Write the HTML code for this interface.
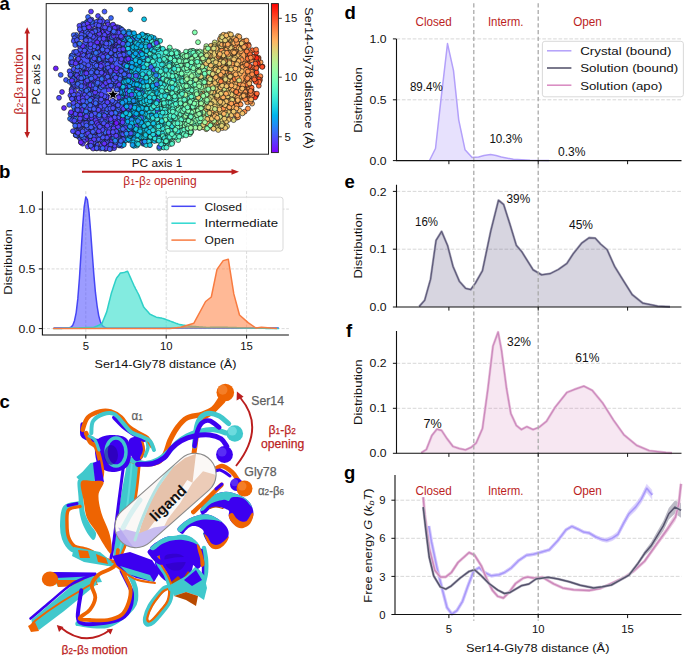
<!DOCTYPE html><html><head><meta charset="utf-8"><style>html,body{margin:0;padding:0;background:#fff;overflow:hidden}svg{display:block}text{font-family:"Liberation Sans",sans-serif}</style></head><body>
<svg width="685" height="655" viewBox="0 0 685 655">
<rect width="685" height="655" fill="#fff"/>
<text x="-0.5" y="9.6" font-size="18.5" fill="#000" font-weight="bold">a</text>
<rect x="46.2" y="3.6" width="222.3" height="150.6" fill="none" stroke="#222" stroke-width="1"/>
<defs><linearGradient id="scbg" gradientUnits="userSpaceOnUse" x1="60" y1="0" x2="260" y2="0">
<stop offset="0.000" stop-color="#4e4dfc"/>
<stop offset="0.290" stop-color="#4659fb"/>
<stop offset="0.350" stop-color="#11a1f0"/>
<stop offset="0.450" stop-color="#20d4e1"/>
<stop offset="0.600" stop-color="#75feba"/>
<stop offset="0.700" stop-color="#99fca5"/>
<stop offset="0.750" stop-color="#e2d176"/>
<stop offset="0.900" stop-color="#ffac5c"/>
<stop offset="1.000" stop-color="#ff6c38"/>
</linearGradient></defs>
<path d="M83.4,39.2 L88.5,30.8 L96.9,26.6 L108.9,25.7 L117.3,27.6 L123.8,33.6 L128.5,36.9 L135.9,37.3 L154.5,42.0 L172.7,52.6 L184.9,54.1 L197.0,54.1 L209.2,44.8 L219.8,38.9 L230.5,40.4 L239.6,45.0 L247.2,54.1 L251.8,69.3 L251.2,84.6 L245.7,96.7 L236.6,108.9 L224.4,118.0 L215.3,125.6 L203.1,124.1 L191.0,127.1 L181.8,130.1 L172.7,136.2 L163.6,142.3 L151.4,139.3 L133.1,139.3 L114.9,142.3 L99.7,142.3 L88.5,136.2 L81.5,124.1 L78.7,105.8 L78.7,84.6 L80.1,60.2Z" fill="url(#scbg)" />
<g stroke="#111" stroke-width="0.6">
<circle cx="89.8" cy="125.6" r="2.45" fill="#4062fa"/>
<circle cx="149.4" cy="105.5" r="2.45" fill="#2ddedc"/>
<circle cx="186.0" cy="80.9" r="2.45" fill="#80ffb4"/>
<circle cx="157.4" cy="108.4" r="2.45" fill="#36e6d8"/>
<circle cx="216.9" cy="115.0" r="2.45" fill="#ddd67a"/>
<circle cx="98.0" cy="52.1" r="2.45" fill="#4855fb"/>
<circle cx="133.6" cy="145.4" r="2.45" fill="#05aeed"/>
<circle cx="197.2" cy="125.1" r="2.45" fill="#80ffb4"/>
<circle cx="236.9" cy="117.7" r="2.45" fill="#ff8e4a"/>
<circle cx="119.8" cy="71.7" r="2.45" fill="#4a53fc"/>
<circle cx="183.8" cy="130.3" r="2.45" fill="#61fac5"/>
<circle cx="128.1" cy="132.6" r="2.45" fill="#07adee"/>
<circle cx="178.2" cy="103.2" r="2.45" fill="#54f6cb"/>
<circle cx="83.9" cy="52.4" r="2.45" fill="#3e64fa"/>
<circle cx="178.6" cy="80.6" r="2.45" fill="#45efd2"/>
<circle cx="106.0" cy="81.1" r="2.45" fill="#5444fd"/>
<circle cx="89.5" cy="146.0" r="2.45" fill="#4856fb"/>
<circle cx="180.4" cy="135.0" r="2.45" fill="#83ffb3"/>
<circle cx="78.2" cy="65.5" r="2.45" fill="#4a53fc"/>
<circle cx="172.4" cy="142.4" r="2.45" fill="#65fcc2"/>
<circle cx="232.5" cy="64.3" r="2.45" fill="#f5c069"/>
<circle cx="211.2" cy="115.7" r="2.45" fill="#e4d075"/>
<circle cx="141.4" cy="44.9" r="2.45" fill="#1ed2e2"/>
<circle cx="259.5" cy="65.0" r="2.45" fill="#ff713a"/>
<circle cx="146.2" cy="57.1" r="2.45" fill="#06aded"/>
<circle cx="215.8" cy="59.3" r="2.45" fill="#eaca71"/>
<circle cx="232.9" cy="76.7" r="2.45" fill="#f2c26b"/>
<circle cx="252.1" cy="98.0" r="2.45" fill="#ff5129"/>
<circle cx="184.3" cy="55.7" r="2.45" fill="#5bf9c7"/>
<circle cx="210.0" cy="61.0" r="2.45" fill="#fcb864"/>
<circle cx="131.7" cy="122.4" r="2.45" fill="#03b8eb"/>
<circle cx="93.4" cy="52.5" r="2.45" fill="#4f4cfc"/>
<circle cx="197.7" cy="65.9" r="2.45" fill="#89ffaf"/>
<circle cx="176.9" cy="68.0" r="2.45" fill="#52f5cc"/>
<circle cx="231.5" cy="92.6" r="2.45" fill="#f7bd67"/>
<circle cx="208.7" cy="88.5" r="2.45" fill="#63fbc3"/>
<circle cx="104.5" cy="130.7" r="2.45" fill="#5541fd"/>
<circle cx="84.7" cy="32.1" r="2.45" fill="#386df9"/>
<circle cx="100.2" cy="134.9" r="2.45" fill="#4f4bfc"/>
<circle cx="121.5" cy="48.7" r="2.45" fill="#4f4bfc"/>
<circle cx="175.1" cy="103.8" r="2.45" fill="#63fbc3"/>
<circle cx="80.2" cy="61.5" r="2.45" fill="#4e4dfc"/>
<circle cx="188.0" cy="81.0" r="2.45" fill="#80ffb4"/>
<circle cx="146.1" cy="76.3" r="2.45" fill="#5444fd"/>
<circle cx="231.3" cy="102.0" r="2.45" fill="#e3d176"/>
<circle cx="217.7" cy="119.7" r="2.45" fill="#f0c46d"/>
<circle cx="255.6" cy="94.3" r="2.45" fill="#ff8947"/>
<circle cx="109.0" cy="64.9" r="2.45" fill="#4d4efc"/>
<circle cx="152.9" cy="72.6" r="2.45" fill="#2adddd"/>
<circle cx="118.9" cy="53.1" r="2.45" fill="#4b51fc"/>
<circle cx="193.5" cy="81.8" r="2.45" fill="#7dffb6"/>
<circle cx="120.0" cy="106.2" r="2.45" fill="#5444fd"/>
<circle cx="141.5" cy="52.8" r="2.45" fill="#0dc2e8"/>
<circle cx="117.0" cy="99.4" r="2.45" fill="#622efe"/>
<circle cx="122.5" cy="72.8" r="2.45" fill="#445bfb"/>
<circle cx="143.3" cy="138.5" r="2.45" fill="#1cd1e2"/>
<circle cx="101.9" cy="127.9" r="2.45" fill="#4e4cfc"/>
<circle cx="182.7" cy="110.2" r="2.45" fill="#70febd"/>
<circle cx="259.9" cy="77.1" r="2.45" fill="#ff8847"/>
<circle cx="98.0" cy="16.0" r="2.45" fill="#5246fd"/>
<circle cx="100.7" cy="61.0" r="2.45" fill="#425efb"/>
<circle cx="132.7" cy="79.4" r="2.45" fill="#4756fb"/>
<circle cx="76.2" cy="35.0" r="2.45" fill="#3b69f9"/>
<circle cx="172.8" cy="72.6" r="2.45" fill="#67fcc2"/>
<circle cx="256.0" cy="95.9" r="2.45" fill="#ff4f28"/>
<circle cx="109.8" cy="32.4" r="2.45" fill="#4061fa"/>
<circle cx="204.8" cy="108.1" r="2.45" fill="#82ffb3"/>
<circle cx="232.4" cy="101.9" r="2.45" fill="#e0d377"/>
<circle cx="112.2" cy="42.4" r="2.45" fill="#504afc"/>
<circle cx="113.2" cy="128.8" r="2.45" fill="#3c67fa"/>
<circle cx="132.7" cy="63.4" r="2.45" fill="#0fc4e7"/>
<circle cx="146.5" cy="35.9" r="2.45" fill="#3c67fa"/>
<circle cx="104.1" cy="112.4" r="2.45" fill="#5a3afd"/>
<circle cx="143.4" cy="103.2" r="2.45" fill="#13c8e5"/>
<circle cx="159.3" cy="148.3" r="2.45" fill="#46efd1"/>
<circle cx="89.0" cy="34.9" r="2.45" fill="#4d4efc"/>
<circle cx="190.2" cy="51.2" r="2.45" fill="#80ffb4"/>
<circle cx="74.7" cy="97.9" r="2.45" fill="#5148fc"/>
<circle cx="215.2" cy="123.2" r="2.45" fill="#eaca71"/>
<circle cx="112.5" cy="84.5" r="2.45" fill="#5148fc"/>
<circle cx="235.0" cy="100.7" r="2.45" fill="#ffa155"/>
<circle cx="243.9" cy="91.6" r="2.45" fill="#ffae5e"/>
<circle cx="170.9" cy="70.9" r="2.45" fill="#45eed2"/>
<circle cx="165.2" cy="55.7" r="2.45" fill="#45efd2"/>
<circle cx="164.9" cy="112.4" r="2.45" fill="#26d9df"/>
<circle cx="91.5" cy="93.4" r="2.45" fill="#5148fc"/>
<circle cx="214.9" cy="45.9" r="2.45" fill="#f8bc67"/>
<circle cx="105.2" cy="149.1" r="2.45" fill="#4c50fc"/>
<circle cx="83.4" cy="67.9" r="2.45" fill="#4855fb"/>
<circle cx="236.7" cy="106.2" r="2.45" fill="#efc56d"/>
<circle cx="151.6" cy="83.0" r="2.45" fill="#22d6e0"/>
<circle cx="106.4" cy="112.2" r="2.45" fill="#3e64fa"/>
<circle cx="174.9" cy="131.6" r="2.45" fill="#5bf9c7"/>
<circle cx="127.9" cy="94.5" r="2.45" fill="#1898f2"/>
<circle cx="109.5" cy="92.0" r="2.45" fill="#4e4dfc"/>
<circle cx="96.7" cy="148.5" r="2.45" fill="#593cfd"/>
<circle cx="210.2" cy="125.5" r="2.45" fill="#eaca71"/>
<circle cx="127.5" cy="120.0" r="2.45" fill="#03b1ec"/>
<circle cx="179.3" cy="67.1" r="2.45" fill="#79ffb8"/>
<circle cx="232.0" cy="108.4" r="2.45" fill="#ffac5c"/>
<circle cx="119.5" cy="86.9" r="2.45" fill="#4d4efc"/>
<circle cx="231.4" cy="42.5" r="2.45" fill="#f3c16a"/>
<circle cx="150.8" cy="64.3" r="2.45" fill="#12c7e6"/>
<circle cx="103.5" cy="138.0" r="2.45" fill="#4a53fc"/>
<circle cx="147.6" cy="67.0" r="2.45" fill="#5444fd"/>
<circle cx="187.7" cy="54.0" r="2.45" fill="#74febb"/>
<circle cx="86.6" cy="131.1" r="2.45" fill="#4856fb"/>
<circle cx="119.4" cy="71.2" r="2.45" fill="#4d4efc"/>
<circle cx="118.7" cy="104.2" r="2.45" fill="#6a22fe"/>
<circle cx="164.5" cy="92.9" r="2.45" fill="#3ce9d6"/>
<circle cx="166.8" cy="110.3" r="2.45" fill="#32e2da"/>
<circle cx="183.0" cy="107.5" r="2.45" fill="#63fbc3"/>
<circle cx="99.1" cy="26.9" r="2.45" fill="#5641fd"/>
<circle cx="143.1" cy="112.9" r="2.45" fill="#03b8eb"/>
<circle cx="117.8" cy="47.5" r="2.45" fill="#4658fb"/>
<circle cx="210.5" cy="71.3" r="2.45" fill="#ecc86f"/>
<circle cx="148.4" cy="117.6" r="2.45" fill="#23d7e0"/>
<circle cx="243.3" cy="92.0" r="2.45" fill="#f8bc67"/>
<circle cx="225.1" cy="58.0" r="2.45" fill="#ffb461"/>
<circle cx="71.4" cy="72.9" r="2.45" fill="#3670f8"/>
<circle cx="232.8" cy="108.6" r="2.45" fill="#ebc970"/>
<circle cx="123.9" cy="79.2" r="2.45" fill="#18cde4"/>
<circle cx="93.8" cy="74.3" r="2.45" fill="#5f33fe"/>
<circle cx="199.6" cy="121.7" r="2.45" fill="#76ffba"/>
<circle cx="228.0" cy="93.2" r="2.45" fill="#ffad5d"/>
<circle cx="176.7" cy="101.5" r="2.45" fill="#6ffebd"/>
<circle cx="89.8" cy="91.9" r="2.45" fill="#445cfb"/>
<circle cx="252.6" cy="95.6" r="2.45" fill="#ff793e"/>
<circle cx="144.1" cy="19.3" r="2.45" fill="#0ec3e7"/>
<circle cx="146.8" cy="108.2" r="2.45" fill="#13c9e5"/>
<circle cx="204.9" cy="74.6" r="2.45" fill="#e7cd72"/>
<circle cx="216.4" cy="127.6" r="2.45" fill="#d9d97c"/>
<circle cx="164.7" cy="98.8" r="2.45" fill="#58f7c9"/>
<circle cx="132.9" cy="57.0" r="2.45" fill="#0fa3f0"/>
<circle cx="183.7" cy="121.0" r="2.45" fill="#81ffb4"/>
<circle cx="149.4" cy="102.1" r="2.45" fill="#0bc0e8"/>
<circle cx="89.8" cy="82.2" r="2.45" fill="#5246fd"/>
<circle cx="121.8" cy="95.3" r="2.45" fill="#11a0f0"/>
<circle cx="245.7" cy="81.6" r="2.45" fill="#ff9951"/>
<circle cx="164.5" cy="72.7" r="2.45" fill="#49f1d0"/>
<circle cx="104.0" cy="76.7" r="2.45" fill="#3d65fa"/>
<circle cx="99.2" cy="45.6" r="2.45" fill="#4757fb"/>
<circle cx="169.3" cy="80.2" r="2.45" fill="#5cf9c7"/>
<circle cx="75.0" cy="74.7" r="2.45" fill="#4658fb"/>
<circle cx="142.0" cy="113.1" r="2.45" fill="#1dd2e2"/>
<circle cx="82.0" cy="110.0" r="2.45" fill="#5d36fe"/>
<circle cx="211.5" cy="103.8" r="2.45" fill="#ddd67a"/>
<circle cx="73.7" cy="35.1" r="2.45" fill="#3e65fa"/>
<circle cx="102.2" cy="28.7" r="2.45" fill="#386df9"/>
<circle cx="88.1" cy="38.5" r="2.45" fill="#396cf9"/>
<circle cx="218.4" cy="116.5" r="2.45" fill="#eaca71"/>
<circle cx="221.6" cy="39.5" r="2.45" fill="#ff9d53"/>
<circle cx="80.8" cy="48.0" r="2.45" fill="#4855fb"/>
<circle cx="197.7" cy="70.7" r="2.45" fill="#8efeac"/>
<circle cx="213.1" cy="77.9" r="2.45" fill="#d5dc7f"/>
<circle cx="84.7" cy="138.0" r="2.45" fill="#415ffa"/>
<circle cx="192.8" cy="122.8" r="2.45" fill="#6cfdbf"/>
<circle cx="202.6" cy="93.5" r="2.45" fill="#faba65"/>
<circle cx="115.1" cy="142.9" r="2.45" fill="#4c4ffc"/>
<circle cx="100.6" cy="148.6" r="2.45" fill="#593cfd"/>
<circle cx="72.1" cy="88.9" r="2.45" fill="#435cfb"/>
<circle cx="137.0" cy="116.7" r="2.45" fill="#4a52fc"/>
<circle cx="212.7" cy="60.3" r="2.45" fill="#dbd87b"/>
<circle cx="166.6" cy="91.3" r="2.45" fill="#3eead5"/>
<circle cx="176.8" cy="92.4" r="2.45" fill="#8efeac"/>
<circle cx="214.1" cy="107.9" r="2.45" fill="#f4c16a"/>
<circle cx="86.6" cy="30.5" r="2.45" fill="#4d4ffc"/>
<circle cx="135.2" cy="94.4" r="2.45" fill="#12a0f1"/>
<circle cx="227.9" cy="61.6" r="2.45" fill="#ff9a51"/>
<circle cx="118.8" cy="100.5" r="2.45" fill="#07bce9"/>
<circle cx="69.6" cy="71.2" r="2.45" fill="#4a53fc"/>
<circle cx="143.2" cy="77.4" r="2.45" fill="#1fd3e1"/>
<circle cx="250.8" cy="68.1" r="2.45" fill="#ff793e"/>
<circle cx="77.3" cy="56.4" r="2.45" fill="#4160fa"/>
<circle cx="200.0" cy="66.1" r="2.45" fill="#69fdc0"/>
<circle cx="101.6" cy="20.7" r="2.45" fill="#4b51fc"/>
<circle cx="222.3" cy="128.1" r="2.45" fill="#ffb562"/>
<circle cx="96.3" cy="23.3" r="2.45" fill="#435dfb"/>
<circle cx="149.7" cy="141.6" r="2.45" fill="#02b6eb"/>
<circle cx="234.2" cy="79.2" r="2.45" fill="#ff8243"/>
<circle cx="89.5" cy="36.1" r="2.45" fill="#4855fb"/>
<circle cx="139.6" cy="102.8" r="2.45" fill="#00b4ec"/>
<circle cx="145.8" cy="109.7" r="2.45" fill="#0bc1e8"/>
<circle cx="166.3" cy="108.6" r="2.45" fill="#59f8c9"/>
<circle cx="139.8" cy="123.4" r="2.45" fill="#0ec3e7"/>
<circle cx="260.4" cy="76.2" r="2.45" fill="#ff8847"/>
<circle cx="255.3" cy="78.0" r="2.45" fill="#ff7f42"/>
<circle cx="139.3" cy="68.3" r="2.45" fill="#12c7e6"/>
<circle cx="99.8" cy="138.7" r="2.45" fill="#5542fd"/>
<circle cx="146.1" cy="98.5" r="2.45" fill="#2ddfdc"/>
<circle cx="173.2" cy="80.6" r="2.45" fill="#45efd2"/>
<circle cx="136.4" cy="142.6" r="2.45" fill="#3a6af9"/>
<circle cx="222.2" cy="93.8" r="2.45" fill="#d6dc7f"/>
<circle cx="85.5" cy="67.6" r="2.45" fill="#4061fa"/>
<circle cx="88.5" cy="104.0" r="2.45" fill="#4855fb"/>
<circle cx="141.5" cy="80.6" r="2.45" fill="#1dd1e2"/>
<circle cx="192.8" cy="50.9" r="2.45" fill="#8ffeab"/>
<circle cx="196.9" cy="51.6" r="2.45" fill="#7effb5"/>
<circle cx="153.8" cy="49.2" r="2.45" fill="#4061fa"/>
<circle cx="195.6" cy="60.7" r="2.45" fill="#6bfdbf"/>
<circle cx="142.3" cy="50.1" r="2.45" fill="#26d9df"/>
<circle cx="128.0" cy="49.2" r="2.45" fill="#149cf1"/>
<circle cx="150.7" cy="138.2" r="2.45" fill="#3ce9d5"/>
<circle cx="108.8" cy="46.0" r="2.45" fill="#5542fd"/>
<circle cx="129.3" cy="86.4" r="2.45" fill="#1d91f3"/>
<circle cx="122.0" cy="97.4" r="2.45" fill="#07adee"/>
<circle cx="176.8" cy="52.7" r="2.45" fill="#51f5cc"/>
<circle cx="249.5" cy="56.8" r="2.45" fill="#ff7e41"/>
<circle cx="80.8" cy="103.1" r="2.45" fill="#5443fd"/>
<circle cx="157.4" cy="139.8" r="2.45" fill="#27dade"/>
<circle cx="111.3" cy="141.5" r="2.45" fill="#3472f8"/>
<circle cx="103.3" cy="129.0" r="2.45" fill="#4d4efc"/>
<circle cx="108.8" cy="81.8" r="2.45" fill="#5542fd"/>
<circle cx="196.0" cy="101.5" r="2.45" fill="#9bfba5"/>
<circle cx="148.4" cy="87.4" r="2.45" fill="#26d9df"/>
<circle cx="248.4" cy="44.5" r="2.45" fill="#ff6a36"/>
<circle cx="71.8" cy="81.9" r="2.45" fill="#386cf9"/>
<circle cx="205.0" cy="110.9" r="2.45" fill="#f0c46c"/>
<circle cx="106.7" cy="83.4" r="2.45" fill="#4d4efc"/>
<circle cx="136.9" cy="145.6" r="2.45" fill="#22d6e0"/>
<circle cx="160.9" cy="80.7" r="2.45" fill="#46efd1"/>
<circle cx="92.2" cy="92.1" r="2.45" fill="#5e35fe"/>
<circle cx="112.8" cy="108.7" r="2.45" fill="#5345fd"/>
<circle cx="220.1" cy="98.2" r="2.45" fill="#e8cc72"/>
<circle cx="229.8" cy="74.0" r="2.45" fill="#ff8a48"/>
<circle cx="83.1" cy="26.9" r="2.45" fill="#4e4cfc"/>
<circle cx="186.1" cy="107.0" r="2.45" fill="#8ffeab"/>
<circle cx="173.9" cy="111.2" r="2.45" fill="#51f5cc"/>
<circle cx="113.8" cy="116.6" r="2.45" fill="#4c4ffc"/>
<circle cx="120.4" cy="69.8" r="2.45" fill="#573ffd"/>
<circle cx="210.4" cy="115.3" r="2.45" fill="#fbb864"/>
<circle cx="163.8" cy="69.7" r="2.45" fill="#21d5e0"/>
<circle cx="214.4" cy="87.1" r="2.45" fill="#d3de80"/>
<circle cx="197.0" cy="63.5" r="2.45" fill="#73febb"/>
<circle cx="185.6" cy="120.2" r="2.45" fill="#7fffb5"/>
<circle cx="174.0" cy="76.1" r="2.45" fill="#5af8c8"/>
<circle cx="182.7" cy="134.4" r="2.45" fill="#5cf9c7"/>
<circle cx="71.5" cy="55.8" r="2.45" fill="#4756fb"/>
<circle cx="153.0" cy="53.8" r="2.45" fill="#3be9d6"/>
<circle cx="113.6" cy="120.6" r="2.45" fill="#5a3bfd"/>
<circle cx="191.2" cy="67.3" r="2.45" fill="#40ecd4"/>
<circle cx="145.1" cy="109.8" r="2.45" fill="#3ae8d7"/>
<circle cx="121.4" cy="137.5" r="2.45" fill="#4160fa"/>
<circle cx="77.7" cy="83.3" r="2.45" fill="#4954fb"/>
<circle cx="162.5" cy="146.6" r="2.45" fill="#45eed2"/>
<circle cx="164.8" cy="83.6" r="2.45" fill="#43eed3"/>
<circle cx="124.7" cy="103.8" r="2.45" fill="#08bce9"/>
<circle cx="207.4" cy="104.8" r="2.45" fill="#edc76f"/>
<circle cx="248.8" cy="58.9" r="2.45" fill="#ff8646"/>
<circle cx="133.0" cy="128.8" r="2.45" fill="#2ddfdc"/>
<circle cx="81.1" cy="31.6" r="2.45" fill="#5a3bfd"/>
<circle cx="120.6" cy="28.6" r="2.45" fill="#238af5"/>
<circle cx="155.3" cy="126.0" r="2.45" fill="#21d5e0"/>
<circle cx="143.6" cy="117.8" r="2.45" fill="#12c7e6"/>
<circle cx="83.0" cy="24.0" r="2.45" fill="#4160fa"/>
<circle cx="221.9" cy="64.7" r="2.45" fill="#e9cb71"/>
<circle cx="185.2" cy="90.4" r="2.45" fill="#6cfdbf"/>
<circle cx="119.2" cy="31.5" r="2.45" fill="#6f1aff"/>
<circle cx="178.1" cy="73.8" r="2.45" fill="#7effb5"/>
<circle cx="140.8" cy="75.4" r="2.45" fill="#14c9e5"/>
<circle cx="104.7" cy="63.7" r="2.45" fill="#396bf9"/>
<circle cx="219.0" cy="51.4" r="2.45" fill="#e6ce74"/>
<circle cx="167.6" cy="58.5" r="2.45" fill="#51f4cc"/>
<circle cx="152.4" cy="78.6" r="2.45" fill="#40ecd4"/>
<circle cx="103.3" cy="54.2" r="2.45" fill="#4d4efc"/>
<circle cx="94.1" cy="147.9" r="2.45" fill="#5641fd"/>
<circle cx="200.7" cy="107.2" r="2.45" fill="#90feab"/>
<circle cx="106.3" cy="122.2" r="2.45" fill="#5444fd"/>
<circle cx="258.6" cy="57.8" r="2.45" fill="#ff7b3f"/>
<circle cx="213.4" cy="126.0" r="2.45" fill="#cfe183"/>
<circle cx="196.2" cy="63.3" r="2.45" fill="#a2f9a0"/>
<circle cx="86.5" cy="109.6" r="2.45" fill="#3176f8"/>
<circle cx="120.2" cy="116.5" r="2.45" fill="#4659fb"/>
<circle cx="132.4" cy="133.9" r="2.45" fill="#08bde9"/>
<circle cx="82.0" cy="118.1" r="2.45" fill="#5444fd"/>
<circle cx="169.7" cy="136.1" r="2.45" fill="#72febc"/>
<circle cx="187.1" cy="82.0" r="2.45" fill="#84ffb2"/>
<circle cx="228.6" cy="100.1" r="2.45" fill="#e8cc72"/>
<circle cx="127.8" cy="58.4" r="2.45" fill="#1c93f3"/>
<circle cx="206.2" cy="129.2" r="2.45" fill="#d0e083"/>
<circle cx="128.9" cy="110.5" r="2.45" fill="#4954fb"/>
<circle cx="165.1" cy="97.0" r="2.45" fill="#46efd1"/>
<circle cx="117.7" cy="54.3" r="2.45" fill="#4062fa"/>
<circle cx="208.8" cy="77.9" r="2.45" fill="#eec66e"/>
<circle cx="209.4" cy="106.3" r="2.45" fill="#85ffb1"/>
<circle cx="199.5" cy="59.7" r="2.45" fill="#89ffaf"/>
<circle cx="223.6" cy="88.6" r="2.45" fill="#ffad5d"/>
<circle cx="215.3" cy="85.6" r="2.45" fill="#ffa055"/>
<circle cx="132.0" cy="58.0" r="2.45" fill="#3e64fa"/>
<circle cx="245.4" cy="97.0" r="2.45" fill="#ffaf5e"/>
<circle cx="74.5" cy="76.9" r="2.45" fill="#4a53fc"/>
<circle cx="240.0" cy="104.3" r="2.45" fill="#ffb361"/>
<circle cx="72.4" cy="84.7" r="2.45" fill="#3f63fa"/>
<circle cx="73.8" cy="98.8" r="2.45" fill="#4855fb"/>
<circle cx="83.6" cy="65.7" r="2.45" fill="#4954fb"/>
<circle cx="149.6" cy="107.0" r="2.45" fill="#12c7e6"/>
<circle cx="77.7" cy="84.1" r="2.45" fill="#4a53fc"/>
<circle cx="111.1" cy="58.2" r="2.45" fill="#4a52fc"/>
<circle cx="132.3" cy="98.5" r="2.45" fill="#0aa9ef"/>
<circle cx="105.6" cy="50.4" r="2.45" fill="#4e4cfc"/>
<circle cx="189.8" cy="134.1" r="2.45" fill="#75feba"/>
<circle cx="226.4" cy="63.7" r="2.45" fill="#ffad5d"/>
<circle cx="173.2" cy="112.5" r="2.45" fill="#32e2da"/>
<circle cx="139.6" cy="133.5" r="2.45" fill="#20d4e1"/>
<circle cx="225.3" cy="35.3" r="2.45" fill="#dfd478"/>
<circle cx="149.2" cy="97.6" r="2.45" fill="#21d5e0"/>
<circle cx="76.3" cy="39.3" r="2.45" fill="#3f62fa"/>
<circle cx="114.5" cy="34.3" r="2.45" fill="#4953fb"/>
<circle cx="128.3" cy="68.4" r="2.45" fill="#396bf9"/>
<circle cx="146.1" cy="104.3" r="2.45" fill="#12c7e6"/>
<circle cx="94.7" cy="135.5" r="2.45" fill="#5346fd"/>
<circle cx="200.6" cy="98.7" r="2.45" fill="#82ffb3"/>
<circle cx="103.1" cy="132.5" r="2.45" fill="#4757fb"/>
<circle cx="95.8" cy="63.6" r="2.45" fill="#3f63fa"/>
<circle cx="84.8" cy="118.3" r="2.45" fill="#4757fb"/>
<circle cx="119.5" cy="133.8" r="2.45" fill="#06bbea"/>
<circle cx="114.8" cy="80.9" r="2.45" fill="#5c38fd"/>
<circle cx="135.3" cy="115.2" r="2.45" fill="#04b0ed"/>
<circle cx="139.8" cy="126.8" r="2.45" fill="#04b0ed"/>
<circle cx="152.1" cy="55.2" r="2.45" fill="#0abfe8"/>
<circle cx="131.3" cy="33.2" r="2.45" fill="#159bf1"/>
<circle cx="75.7" cy="135.2" r="2.45" fill="#5246fd"/>
<circle cx="128.5" cy="108.0" r="2.45" fill="#4a52fc"/>
<circle cx="220.1" cy="86.8" r="2.45" fill="#e6ce73"/>
<circle cx="132.5" cy="65.7" r="2.45" fill="#0ba8ef"/>
<circle cx="99.5" cy="26.1" r="2.45" fill="#4f4afc"/>
<circle cx="92.9" cy="35.8" r="2.45" fill="#425efa"/>
<circle cx="134.4" cy="82.1" r="2.45" fill="#00b4ec"/>
<circle cx="138.6" cy="117.5" r="2.45" fill="#16cbe4"/>
<circle cx="211.8" cy="116.4" r="2.45" fill="#f9bb66"/>
<circle cx="77.5" cy="59.9" r="2.45" fill="#6726fe"/>
<circle cx="124.4" cy="78.3" r="2.45" fill="#435cfb"/>
<circle cx="232.0" cy="62.2" r="2.45" fill="#ffb05f"/>
<circle cx="252.5" cy="67.4" r="2.45" fill="#ff783e"/>
<circle cx="88.8" cy="52.7" r="2.45" fill="#4062fa"/>
<circle cx="182.8" cy="124.8" r="2.45" fill="#67fcc1"/>
<circle cx="109.1" cy="86.6" r="2.45" fill="#593cfd"/>
<circle cx="93.3" cy="24.8" r="2.45" fill="#4559fb"/>
<circle cx="149.1" cy="47.8" r="2.45" fill="#04afed"/>
<circle cx="145.5" cy="114.4" r="2.45" fill="#0cc1e8"/>
<circle cx="163.7" cy="147.5" r="2.45" fill="#34e4d9"/>
<circle cx="142.5" cy="89.6" r="2.45" fill="#07bcea"/>
<circle cx="117.5" cy="102.1" r="2.45" fill="#445cfb"/>
<circle cx="238.4" cy="53.6" r="2.45" fill="#ffa558"/>
<circle cx="132.7" cy="128.9" r="2.45" fill="#01b6eb"/>
<circle cx="233.4" cy="106.6" r="2.45" fill="#ff9d53"/>
<circle cx="194.9" cy="60.8" r="2.45" fill="#73febb"/>
<circle cx="170.6" cy="54.7" r="2.45" fill="#64fbc3"/>
<circle cx="147.8" cy="86.4" r="2.45" fill="#13c8e6"/>
<circle cx="130.5" cy="105.3" r="2.45" fill="#228af5"/>
<circle cx="208.0" cy="86.4" r="2.45" fill="#cae587"/>
<circle cx="173.5" cy="137.4" r="2.45" fill="#5af8c8"/>
<circle cx="152.1" cy="66.4" r="2.45" fill="#3febd5"/>
<circle cx="138.9" cy="46.1" r="2.45" fill="#05afed"/>
<circle cx="154.1" cy="97.5" r="2.45" fill="#3febd4"/>
<circle cx="173.5" cy="63.3" r="2.45" fill="#4bf2cf"/>
<circle cx="231.5" cy="41.3" r="2.45" fill="#e4d075"/>
<circle cx="158.0" cy="110.5" r="2.45" fill="#12c7e6"/>
<circle cx="128.1" cy="91.2" r="2.45" fill="#15cae5"/>
<circle cx="171.4" cy="85.7" r="2.45" fill="#57f7c9"/>
<circle cx="223.4" cy="67.2" r="2.45" fill="#f0c56d"/>
<circle cx="148.3" cy="128.3" r="2.45" fill="#3571f8"/>
<circle cx="101.1" cy="63.8" r="2.45" fill="#6130fe"/>
<circle cx="120.1" cy="126.0" r="2.45" fill="#455afb"/>
<circle cx="82.8" cy="54.6" r="2.45" fill="#2f7af7"/>
<circle cx="262.5" cy="66.5" r="2.45" fill="#ff582d"/>
<circle cx="117.6" cy="92.5" r="2.45" fill="#5148fc"/>
<circle cx="83.9" cy="35.7" r="2.45" fill="#4658fb"/>
<circle cx="127.3" cy="56.7" r="2.45" fill="#1d92f3"/>
<circle cx="79.4" cy="114.3" r="2.45" fill="#4b51fc"/>
<circle cx="96.7" cy="144.2" r="2.45" fill="#4e4cfc"/>
<circle cx="127.6" cy="101.8" r="2.45" fill="#1f8ff4"/>
<circle cx="159.7" cy="99.4" r="2.45" fill="#4af1cf"/>
<circle cx="106.5" cy="35.8" r="2.45" fill="#6529fe"/>
<circle cx="254.6" cy="73.4" r="2.45" fill="#ff6e38"/>
<circle cx="163.6" cy="105.3" r="2.45" fill="#3eead5"/>
<circle cx="123.5" cy="93.3" r="2.45" fill="#01b6eb"/>
<circle cx="234.3" cy="56.8" r="2.45" fill="#ff9f54"/>
<circle cx="144.3" cy="124.3" r="2.45" fill="#22d6e0"/>
<circle cx="129.6" cy="114.0" r="2.45" fill="#0cc1e8"/>
<circle cx="107.0" cy="39.2" r="2.45" fill="#425ffa"/>
<circle cx="116.1" cy="123.7" r="2.45" fill="#396cf9"/>
<circle cx="209.0" cy="75.6" r="2.45" fill="#a4f99f"/>
<circle cx="184.1" cy="61.3" r="2.45" fill="#6bfdbf"/>
<circle cx="127.9" cy="51.6" r="2.45" fill="#4a52fc"/>
<circle cx="162.1" cy="81.2" r="2.45" fill="#24d8df"/>
<circle cx="194.9" cy="96.8" r="2.45" fill="#6efdbe"/>
<circle cx="104.9" cy="98.2" r="2.45" fill="#4b51fc"/>
<circle cx="221.2" cy="59.7" r="2.45" fill="#ffa658"/>
<circle cx="108.5" cy="75.7" r="2.45" fill="#3e64fa"/>
<circle cx="162.9" cy="99.7" r="2.45" fill="#44eed2"/>
<circle cx="238.6" cy="47.4" r="2.45" fill="#ffb462"/>
<circle cx="228.6" cy="112.3" r="2.45" fill="#e8cc72"/>
<circle cx="247.2" cy="83.2" r="2.45" fill="#ff8d4a"/>
<circle cx="211.5" cy="90.5" r="2.45" fill="#e3d176"/>
<circle cx="202.9" cy="127.2" r="2.45" fill="#e6ce73"/>
<circle cx="186.7" cy="116.9" r="2.45" fill="#79ffb8"/>
<circle cx="98.7" cy="67.6" r="2.45" fill="#504afc"/>
<circle cx="96.4" cy="44.0" r="2.45" fill="#5542fd"/>
<circle cx="91.7" cy="147.1" r="2.45" fill="#3c67f9"/>
<circle cx="186.4" cy="107.0" r="2.45" fill="#69fdc0"/>
<circle cx="160.5" cy="138.6" r="2.45" fill="#36e5d8"/>
<circle cx="145.2" cy="108.9" r="2.45" fill="#15cae5"/>
<circle cx="170.8" cy="135.7" r="2.45" fill="#67fcc1"/>
<circle cx="244.7" cy="65.3" r="2.45" fill="#f1c36b"/>
<circle cx="96.8" cy="43.4" r="2.45" fill="#622ffe"/>
<circle cx="84.6" cy="34.5" r="2.45" fill="#4061fa"/>
<circle cx="252.1" cy="103.6" r="2.45" fill="#ffb05f"/>
<circle cx="155.1" cy="121.6" r="2.45" fill="#24d7df"/>
<circle cx="126.0" cy="115.1" r="2.45" fill="#573ffd"/>
<circle cx="164.0" cy="123.0" r="2.45" fill="#2bdddd"/>
<circle cx="129.2" cy="53.6" r="2.45" fill="#11a0f0"/>
<circle cx="220.0" cy="115.4" r="2.45" fill="#f0c46c"/>
<circle cx="186.3" cy="78.7" r="2.45" fill="#73febb"/>
<circle cx="78.9" cy="66.3" r="2.45" fill="#3c67fa"/>
<circle cx="212.0" cy="123.7" r="2.45" fill="#e5cf74"/>
<circle cx="81.0" cy="142.4" r="2.45" fill="#5541fd"/>
<circle cx="189.9" cy="60.3" r="2.45" fill="#6bfdc0"/>
<circle cx="145.8" cy="55.7" r="2.45" fill="#24d8df"/>
<circle cx="235.9" cy="84.3" r="2.45" fill="#fbb965"/>
<circle cx="112.4" cy="61.6" r="2.45" fill="#3e65fa"/>
<circle cx="114.9" cy="36.9" r="2.45" fill="#583dfd"/>
<circle cx="186.9" cy="84.7" r="2.45" fill="#6ffebd"/>
<circle cx="91.2" cy="48.5" r="2.45" fill="#4f4bfc"/>
<circle cx="157.4" cy="70.2" r="2.45" fill="#445bfb"/>
<circle cx="82.2" cy="78.3" r="2.45" fill="#593cfd"/>
<circle cx="155.6" cy="72.6" r="2.45" fill="#1dd2e2"/>
<circle cx="184.0" cy="124.1" r="2.45" fill="#85ffb1"/>
<circle cx="94.4" cy="132.1" r="2.45" fill="#5641fd"/>
<circle cx="190.6" cy="106.8" r="2.45" fill="#78ffb8"/>
<circle cx="209.9" cy="107.7" r="2.45" fill="#ffae5d"/>
<circle cx="147.7" cy="50.1" r="2.45" fill="#33e3da"/>
<circle cx="98.0" cy="69.9" r="2.45" fill="#4855fb"/>
<circle cx="72.2" cy="64.0" r="2.45" fill="#4b52fc"/>
<circle cx="195.0" cy="126.2" r="2.45" fill="#6ffebd"/>
<circle cx="160.9" cy="133.9" r="2.45" fill="#40ecd4"/>
<circle cx="116.7" cy="138.5" r="2.45" fill="#4f4cfc"/>
<circle cx="169.2" cy="127.5" r="2.45" fill="#50f4cd"/>
<circle cx="107.1" cy="22.3" r="2.45" fill="#5d36fe"/>
<circle cx="193.5" cy="107.7" r="2.45" fill="#89ffaf"/>
<circle cx="90.5" cy="109.1" r="2.45" fill="#5444fd"/>
<circle cx="197.7" cy="114.0" r="2.45" fill="#72febc"/>
<circle cx="238.8" cy="54.0" r="2.45" fill="#ffaa5b"/>
<circle cx="173.6" cy="84.8" r="2.45" fill="#51f5cc"/>
<circle cx="209.0" cy="58.1" r="2.45" fill="#e6ce73"/>
<circle cx="153.0" cy="86.6" r="2.45" fill="#16cbe5"/>
<circle cx="249.5" cy="59.7" r="2.45" fill="#ff8a48"/>
<circle cx="221.1" cy="93.5" r="2.45" fill="#e7cd73"/>
<circle cx="212.0" cy="68.1" r="2.45" fill="#dcd77a"/>
<circle cx="246.9" cy="85.7" r="2.45" fill="#ffa156"/>
<circle cx="242.7" cy="86.0" r="2.45" fill="#ff8d4a"/>
<circle cx="143.1" cy="47.3" r="2.45" fill="#10c6e6"/>
<circle cx="90.4" cy="134.9" r="2.45" fill="#455afb"/>
<circle cx="90.5" cy="109.3" r="2.45" fill="#3c66fa"/>
<circle cx="148.6" cy="123.9" r="2.45" fill="#4b52fc"/>
<circle cx="185.7" cy="114.0" r="2.45" fill="#5df9c6"/>
<circle cx="86.3" cy="68.5" r="2.45" fill="#5345fd"/>
<circle cx="116.2" cy="44.9" r="2.45" fill="#4758fb"/>
<circle cx="166.1" cy="67.8" r="2.45" fill="#56f7ca"/>
<circle cx="121.8" cy="117.6" r="2.45" fill="#3f63fa"/>
<circle cx="141.4" cy="79.2" r="2.45" fill="#05baea"/>
<circle cx="127.3" cy="47.6" r="2.45" fill="#593cfd"/>
<circle cx="140.8" cy="102.0" r="2.45" fill="#139ef1"/>
<circle cx="100.9" cy="19.1" r="2.45" fill="#435cfb"/>
<circle cx="180.1" cy="117.3" r="2.45" fill="#74febb"/>
<circle cx="82.3" cy="80.2" r="2.45" fill="#5344fd"/>
<circle cx="215.7" cy="81.4" r="2.45" fill="#e2d176"/>
<circle cx="125.2" cy="35.4" r="2.45" fill="#5e34fe"/>
<circle cx="111.7" cy="80.3" r="2.45" fill="#3670f8"/>
<circle cx="197.9" cy="115.6" r="2.45" fill="#7bffb7"/>
<circle cx="105.9" cy="148.2" r="2.45" fill="#4d4efc"/>
<circle cx="80.2" cy="102.3" r="2.45" fill="#4e4dfc"/>
<circle cx="135.6" cy="73.9" r="2.45" fill="#08bde9"/>
<circle cx="247.9" cy="95.1" r="2.45" fill="#ff8e4a"/>
<circle cx="129.8" cy="42.1" r="2.45" fill="#3078f7"/>
<circle cx="75.7" cy="37.2" r="2.45" fill="#4757fb"/>
<circle cx="110.7" cy="61.1" r="2.45" fill="#504afc"/>
<circle cx="123.0" cy="55.4" r="2.45" fill="#4061fa"/>
<circle cx="231.5" cy="91.6" r="2.45" fill="#e3d075"/>
<circle cx="155.2" cy="136.5" r="2.45" fill="#24d7e0"/>
<circle cx="212.1" cy="111.6" r="2.45" fill="#ffa055"/>
<circle cx="214.1" cy="63.4" r="2.45" fill="#e1d377"/>
<circle cx="244.6" cy="41.0" r="2.45" fill="#ffad5d"/>
<circle cx="153.9" cy="95.5" r="2.45" fill="#31e2da"/>
<circle cx="108.0" cy="43.3" r="2.45" fill="#4f4cfc"/>
<circle cx="170.8" cy="52.6" r="2.45" fill="#55f6ca"/>
<circle cx="78.7" cy="136.7" r="2.45" fill="#4160fa"/>
<circle cx="70.0" cy="118.8" r="2.45" fill="#3077f7"/>
<circle cx="137.6" cy="108.0" r="2.45" fill="#2882f6"/>
<circle cx="158.7" cy="48.6" r="2.45" fill="#30e1db"/>
<circle cx="172.1" cy="59.4" r="2.45" fill="#4af2cf"/>
<circle cx="145.3" cy="38.5" r="2.45" fill="#14c9e5"/>
<circle cx="256.5" cy="59.9" r="2.45" fill="#ff6735"/>
<circle cx="210.3" cy="113.1" r="2.45" fill="#e0d377"/>
<circle cx="151.6" cy="133.1" r="2.45" fill="#0ec4e7"/>
<circle cx="232.9" cy="65.8" r="2.45" fill="#ff9a51"/>
<circle cx="88.8" cy="129.4" r="2.45" fill="#652afe"/>
<circle cx="103.7" cy="70.2" r="2.45" fill="#2f79f7"/>
<circle cx="249.8" cy="61.0" r="2.45" fill="#ff8e4a"/>
<circle cx="81.1" cy="73.3" r="2.45" fill="#2982f6"/>
<circle cx="218.3" cy="122.3" r="2.45" fill="#fdb763"/>
<circle cx="125.4" cy="63.3" r="2.45" fill="#1898f2"/>
<circle cx="169.0" cy="99.3" r="2.45" fill="#3febd4"/>
<circle cx="74.7" cy="98.8" r="2.45" fill="#5444fd"/>
<circle cx="80.3" cy="138.7" r="2.45" fill="#4e4dfc"/>
<circle cx="235.5" cy="92.3" r="2.45" fill="#faba65"/>
<circle cx="103.4" cy="115.0" r="2.45" fill="#3b68f9"/>
<circle cx="221.2" cy="36.4" r="2.45" fill="#e0d378"/>
<circle cx="110.0" cy="55.2" r="2.45" fill="#4a53fc"/>
<circle cx="96.1" cy="111.6" r="2.45" fill="#4b51fc"/>
<circle cx="100.2" cy="68.1" r="2.45" fill="#5c38fd"/>
<circle cx="233.2" cy="61.7" r="2.45" fill="#ff9a51"/>
<circle cx="162.3" cy="112.4" r="2.45" fill="#47f0d1"/>
<circle cx="223.8" cy="124.0" r="2.45" fill="#edc76f"/>
<circle cx="172.4" cy="58.0" r="2.45" fill="#62fbc4"/>
<circle cx="133.3" cy="53.0" r="2.45" fill="#1acfe3"/>
<circle cx="108.7" cy="80.6" r="2.45" fill="#3d66fa"/>
<circle cx="97.8" cy="21.6" r="2.45" fill="#5a3afd"/>
<circle cx="190.2" cy="52.4" r="2.45" fill="#80ffb4"/>
<circle cx="149.5" cy="144.9" r="2.45" fill="#25d8df"/>
<circle cx="86.2" cy="27.6" r="2.45" fill="#3f63fa"/>
<circle cx="130.4" cy="66.5" r="2.45" fill="#03b8eb"/>
<circle cx="208.5" cy="76.8" r="2.45" fill="#99fca5"/>
<circle cx="186.0" cy="109.2" r="2.45" fill="#7fffb4"/>
<circle cx="183.0" cy="133.2" r="2.45" fill="#8bfeae"/>
<circle cx="127.7" cy="71.6" r="2.45" fill="#3c67fa"/>
<circle cx="145.3" cy="122.9" r="2.45" fill="#13c8e6"/>
<circle cx="104.2" cy="32.7" r="2.45" fill="#5443fd"/>
<circle cx="81.2" cy="127.1" r="2.45" fill="#415ffa"/>
<circle cx="208.5" cy="101.1" r="2.45" fill="#e1d277"/>
<circle cx="260.0" cy="80.0" r="2.45" fill="#ff6936"/>
<circle cx="151.7" cy="38.6" r="2.45" fill="#1bd0e3"/>
<circle cx="189.2" cy="120.6" r="2.45" fill="#90feab"/>
<circle cx="254.3" cy="67.2" r="2.45" fill="#ff7c40"/>
<circle cx="102.2" cy="119.7" r="2.45" fill="#4a53fc"/>
<circle cx="107.7" cy="38.1" r="2.45" fill="#5e34fe"/>
<circle cx="208.2" cy="107.4" r="2.45" fill="#dad97c"/>
<circle cx="185.6" cy="82.3" r="2.45" fill="#73febb"/>
<circle cx="229.6" cy="79.3" r="2.45" fill="#f5bf69"/>
<circle cx="180.8" cy="114.3" r="2.45" fill="#64fbc3"/>
<circle cx="181.5" cy="131.3" r="2.45" fill="#72febc"/>
<circle cx="75.6" cy="74.4" r="2.45" fill="#3571f8"/>
<circle cx="109.0" cy="116.6" r="2.45" fill="#4a52fc"/>
<circle cx="73.9" cy="121.7" r="2.45" fill="#3e65fa"/>
<circle cx="167.4" cy="111.4" r="2.45" fill="#44eed2"/>
<circle cx="152.0" cy="52.3" r="2.45" fill="#2adcdd"/>
<circle cx="108.2" cy="107.3" r="2.45" fill="#4e4cfc"/>
<circle cx="256.3" cy="94.4" r="2.45" fill="#ff542a"/>
<circle cx="133.5" cy="84.3" r="2.45" fill="#08bde9"/>
<circle cx="157.6" cy="40.7" r="2.45" fill="#2fe1db"/>
<circle cx="134.7" cy="83.1" r="2.45" fill="#04b9ea"/>
<circle cx="99.7" cy="139.7" r="2.45" fill="#4160fa"/>
<circle cx="154.5" cy="58.9" r="2.45" fill="#17cce4"/>
<circle cx="83.2" cy="122.8" r="2.45" fill="#4559fb"/>
<circle cx="168.3" cy="120.8" r="2.45" fill="#59f8c8"/>
<circle cx="253.1" cy="58.1" r="2.45" fill="#ff8a48"/>
<circle cx="77.6" cy="64.8" r="2.45" fill="#5a3bfd"/>
<circle cx="237.4" cy="77.7" r="2.45" fill="#ff9f54"/>
<circle cx="106.6" cy="43.6" r="2.45" fill="#5542fd"/>
<circle cx="82.5" cy="49.8" r="2.45" fill="#5542fd"/>
<circle cx="137.7" cy="46.2" r="2.45" fill="#09bee9"/>
<circle cx="132.8" cy="79.4" r="2.45" fill="#504afc"/>
<circle cx="129.3" cy="65.6" r="2.45" fill="#1d92f3"/>
<circle cx="122.2" cy="119.3" r="2.45" fill="#6627fe"/>
<circle cx="147.5" cy="93.2" r="2.45" fill="#32e3da"/>
<circle cx="160.9" cy="104.3" r="2.45" fill="#4bf2cf"/>
<circle cx="90.5" cy="26.1" r="2.45" fill="#4855fb"/>
<circle cx="156.3" cy="47.9" r="2.45" fill="#40ecd4"/>
<circle cx="219.4" cy="120.5" r="2.45" fill="#e0d478"/>
<circle cx="96.2" cy="58.3" r="2.45" fill="#4856fb"/>
<circle cx="223.2" cy="108.5" r="2.45" fill="#ff914c"/>
<circle cx="219.0" cy="98.6" r="2.45" fill="#e7cd73"/>
<circle cx="161.8" cy="123.9" r="2.45" fill="#39e7d7"/>
<circle cx="184.6" cy="65.9" r="2.45" fill="#8bfeae"/>
<circle cx="188.8" cy="102.6" r="2.45" fill="#74febb"/>
<circle cx="150.5" cy="133.2" r="2.45" fill="#0dc2e7"/>
<circle cx="151.0" cy="124.8" r="2.45" fill="#07bce9"/>
<circle cx="134.6" cy="63.7" r="2.45" fill="#21d5e0"/>
<circle cx="171.9" cy="50.9" r="2.45" fill="#6dfdbe"/>
<circle cx="193.9" cy="53.7" r="2.45" fill="#85ffb1"/>
<circle cx="99.0" cy="37.4" r="2.45" fill="#4f4bfc"/>
<circle cx="207.3" cy="90.6" r="2.45" fill="#69fdc0"/>
<circle cx="178.2" cy="56.9" r="2.45" fill="#54f6cb"/>
<circle cx="136.0" cy="92.8" r="2.45" fill="#12c7e6"/>
<circle cx="214.2" cy="92.3" r="2.45" fill="#ecc86f"/>
<circle cx="99.0" cy="117.4" r="2.45" fill="#4f4bfc"/>
<circle cx="120.6" cy="135.0" r="2.45" fill="#435cfb"/>
<circle cx="170.4" cy="126.2" r="2.45" fill="#4bf2cf"/>
<circle cx="227.1" cy="86.0" r="2.45" fill="#f5bf69"/>
<circle cx="169.0" cy="58.8" r="2.45" fill="#61fbc4"/>
<circle cx="101.9" cy="22.8" r="2.45" fill="#3c67fa"/>
<circle cx="178.0" cy="128.2" r="2.45" fill="#53f5cb"/>
<circle cx="70.4" cy="113.9" r="2.45" fill="#3a6af9"/>
<circle cx="119.5" cy="56.8" r="2.45" fill="#3c67fa"/>
<circle cx="202.0" cy="62.4" r="2.45" fill="#7cffb6"/>
<circle cx="218.6" cy="53.2" r="2.45" fill="#ffb461"/>
<circle cx="163.3" cy="112.6" r="2.45" fill="#55f6ca"/>
<circle cx="96.4" cy="22.0" r="2.45" fill="#4855fb"/>
<circle cx="170.0" cy="87.6" r="2.45" fill="#5af8c8"/>
<circle cx="85.3" cy="78.3" r="2.45" fill="#4d4efc"/>
<circle cx="144.5" cy="67.5" r="2.45" fill="#01b5eb"/>
<circle cx="226.2" cy="70.2" r="2.45" fill="#f7bd67"/>
<circle cx="79.4" cy="25.8" r="2.45" fill="#5149fc"/>
<circle cx="123.1" cy="109.5" r="2.45" fill="#4061fa"/>
<circle cx="164.9" cy="94.7" r="2.45" fill="#46efd1"/>
<circle cx="123.6" cy="113.7" r="2.45" fill="#04b0ed"/>
<circle cx="107.8" cy="59.5" r="2.45" fill="#4659fb"/>
<circle cx="102.1" cy="80.8" r="2.45" fill="#4a52fc"/>
<circle cx="98.3" cy="58.9" r="2.45" fill="#4954fb"/>
<circle cx="129.7" cy="136.9" r="2.45" fill="#2c7df7"/>
<circle cx="152.8" cy="104.4" r="2.45" fill="#29dcdd"/>
<circle cx="253.6" cy="75.9" r="2.45" fill="#ff9b52"/>
<circle cx="197.1" cy="111.9" r="2.45" fill="#86ffb1"/>
<circle cx="79.0" cy="98.6" r="2.45" fill="#5443fd"/>
<circle cx="209.4" cy="81.1" r="2.45" fill="#f9bb66"/>
<circle cx="212.9" cy="79.5" r="2.45" fill="#e5cf74"/>
<circle cx="180.4" cy="67.2" r="2.45" fill="#5af8c8"/>
<circle cx="163.8" cy="143.3" r="2.45" fill="#33e4d9"/>
<circle cx="97.9" cy="101.7" r="2.45" fill="#4757fb"/>
<circle cx="177.3" cy="97.4" r="2.45" fill="#61fbc4"/>
<circle cx="240.6" cy="104.5" r="2.45" fill="#ff934d"/>
<circle cx="187.2" cy="132.6" r="2.45" fill="#80ffb4"/>
<circle cx="113.6" cy="104.3" r="2.45" fill="#5443fd"/>
<circle cx="72.4" cy="55.3" r="2.45" fill="#3c67fa"/>
<circle cx="201.7" cy="114.2" r="2.45" fill="#86ffb0"/>
<circle cx="223.6" cy="74.5" r="2.45" fill="#e1d277"/>
<circle cx="146.0" cy="102.9" r="2.45" fill="#18cde4"/>
<circle cx="158.4" cy="49.2" r="2.45" fill="#22d6e0"/>
<circle cx="237.9" cy="36.0" r="2.45" fill="#f4c06a"/>
<circle cx="64.0" cy="108.0" r="2.45" fill="#642cfe"/>
<circle cx="104.3" cy="145.0" r="2.45" fill="#6130fe"/>
<circle cx="142.8" cy="138.6" r="2.45" fill="#1cd0e2"/>
<circle cx="89.0" cy="116.6" r="2.45" fill="#4d4efc"/>
<circle cx="240.9" cy="51.3" r="2.45" fill="#ffa759"/>
<circle cx="150.1" cy="127.9" r="2.45" fill="#2ddfdc"/>
<circle cx="89.9" cy="73.4" r="2.45" fill="#5f33fe"/>
<circle cx="98.7" cy="46.0" r="2.45" fill="#4954fb"/>
<circle cx="230.0" cy="106.1" r="2.45" fill="#ffaf5e"/>
<circle cx="188.9" cy="65.3" r="2.45" fill="#8bfeae"/>
<circle cx="92.8" cy="88.9" r="2.45" fill="#622efe"/>
<circle cx="171.7" cy="89.5" r="2.45" fill="#76ffba"/>
<circle cx="156.6" cy="140.5" r="2.45" fill="#22d6e0"/>
<circle cx="78.4" cy="52.7" r="2.45" fill="#4758fb"/>
<circle cx="251.1" cy="56.2" r="2.45" fill="#ff7e41"/>
<circle cx="77.4" cy="114.2" r="2.45" fill="#4659fb"/>
<circle cx="197.4" cy="93.2" r="2.45" fill="#79ffb8"/>
<circle cx="142.5" cy="78.6" r="2.45" fill="#2cdedc"/>
<circle cx="190.3" cy="105.9" r="2.45" fill="#8dfead"/>
<circle cx="105.6" cy="144.0" r="2.45" fill="#5444fd"/>
<circle cx="104.9" cy="129.4" r="2.45" fill="#4954fb"/>
<circle cx="111.3" cy="41.4" r="2.45" fill="#4061fa"/>
<circle cx="191.4" cy="58.1" r="2.45" fill="#93fda9"/>
<circle cx="231.4" cy="99.0" r="2.45" fill="#eec66e"/>
<circle cx="94.3" cy="105.8" r="2.45" fill="#504afc"/>
<circle cx="157.7" cy="111.7" r="2.45" fill="#4855fb"/>
<circle cx="126.7" cy="38.6" r="2.45" fill="#1b94f3"/>
<circle cx="105.2" cy="73.5" r="2.45" fill="#583dfd"/>
<circle cx="164.9" cy="75.5" r="2.45" fill="#52f5cc"/>
<circle cx="223.4" cy="34.8" r="2.45" fill="#f9bb66"/>
<circle cx="150.7" cy="91.4" r="2.45" fill="#1ed2e2"/>
<circle cx="229.7" cy="35.3" r="2.45" fill="#ffae5d"/>
<circle cx="136.2" cy="88.1" r="2.45" fill="#08bde9"/>
<circle cx="200.9" cy="115.1" r="2.45" fill="#8dfeac"/>
<circle cx="219.6" cy="79.7" r="2.45" fill="#f1c36c"/>
<circle cx="97.3" cy="71.9" r="2.45" fill="#4954fb"/>
<circle cx="121.7" cy="88.5" r="2.45" fill="#5543fd"/>
<circle cx="78.3" cy="129.0" r="2.45" fill="#5d36fe"/>
<circle cx="202.7" cy="52.4" r="2.45" fill="#87ffb0"/>
<circle cx="229.3" cy="39.8" r="2.45" fill="#fdb763"/>
<circle cx="77.2" cy="135.5" r="2.45" fill="#4855fb"/>
<circle cx="169.7" cy="47.5" r="2.45" fill="#76ffba"/>
<circle cx="109.4" cy="145.2" r="2.45" fill="#4a52fc"/>
<circle cx="111.4" cy="34.2" r="2.45" fill="#5149fc"/>
<circle cx="92.7" cy="144.6" r="2.45" fill="#415ffa"/>
<circle cx="211.2" cy="83.3" r="2.45" fill="#d2df81"/>
<circle cx="139.7" cy="138.3" r="2.45" fill="#07acee"/>
<circle cx="87.8" cy="94.2" r="2.45" fill="#4e4cfc"/>
<circle cx="96.0" cy="109.7" r="2.45" fill="#396cf9"/>
<circle cx="144.8" cy="95.6" r="2.45" fill="#21d5e1"/>
<circle cx="150.0" cy="53.5" r="2.45" fill="#44eed2"/>
<circle cx="123.7" cy="127.6" r="2.45" fill="#1b94f3"/>
<circle cx="113.2" cy="55.7" r="2.45" fill="#583dfd"/>
<circle cx="161.0" cy="138.7" r="2.45" fill="#40ecd4"/>
<circle cx="194.8" cy="32.4" r="2.45" fill="#85ffb1"/>
<circle cx="122.5" cy="122.3" r="2.45" fill="#583efd"/>
<circle cx="133.7" cy="133.3" r="2.45" fill="#12a0f1"/>
<circle cx="133.6" cy="43.6" r="2.45" fill="#3c67fa"/>
<circle cx="73.7" cy="86.6" r="2.45" fill="#5148fc"/>
<circle cx="150.0" cy="92.9" r="2.45" fill="#29dcdd"/>
<circle cx="141.5" cy="105.3" r="2.45" fill="#28dbde"/>
<circle cx="218.7" cy="86.3" r="2.45" fill="#f1c46c"/>
<circle cx="162.2" cy="133.5" r="2.45" fill="#28dbde"/>
<circle cx="97.3" cy="140.1" r="2.45" fill="#5345fd"/>
<circle cx="133.3" cy="107.0" r="2.45" fill="#4d4dfc"/>
<circle cx="246.2" cy="49.8" r="2.45" fill="#ff753c"/>
<circle cx="207.6" cy="56.8" r="2.45" fill="#e4cf75"/>
<circle cx="169.3" cy="123.0" r="2.45" fill="#53f6cb"/>
<circle cx="174.8" cy="116.0" r="2.45" fill="#61fbc4"/>
<circle cx="122.7" cy="92.3" r="2.45" fill="#09bee9"/>
<circle cx="189.0" cy="110.4" r="2.45" fill="#67fcc1"/>
<circle cx="144.0" cy="136.2" r="2.45" fill="#10c5e6"/>
<circle cx="143.5" cy="103.3" r="2.45" fill="#16cbe4"/>
<circle cx="122.4" cy="89.4" r="2.45" fill="#09aaee"/>
<circle cx="237.6" cy="56.2" r="2.45" fill="#f6be68"/>
<circle cx="109.0" cy="135.7" r="2.45" fill="#5e34fe"/>
<circle cx="82.4" cy="54.2" r="2.45" fill="#386df9"/>
<circle cx="191.4" cy="115.6" r="2.45" fill="#90feab"/>
<circle cx="115.3" cy="102.5" r="2.45" fill="#435dfb"/>
<circle cx="147.9" cy="80.8" r="2.45" fill="#15cae5"/>
<circle cx="193.0" cy="64.8" r="2.45" fill="#8dfeac"/>
<circle cx="83.8" cy="49.7" r="2.45" fill="#4e4dfc"/>
<circle cx="260.6" cy="62.3" r="2.45" fill="#ff9a51"/>
<circle cx="224.0" cy="65.5" r="2.45" fill="#f2c26b"/>
<circle cx="177.6" cy="77.7" r="2.45" fill="#67fcc1"/>
<circle cx="72.9" cy="60.6" r="2.45" fill="#5a3afd"/>
<circle cx="163.4" cy="104.5" r="2.45" fill="#53f6cb"/>
<circle cx="151.3" cy="45.7" r="2.45" fill="#3ae8d7"/>
<circle cx="180.0" cy="126.0" r="2.45" fill="#77ffb9"/>
<circle cx="99.6" cy="109.1" r="2.45" fill="#622efe"/>
<circle cx="138.3" cy="107.5" r="2.45" fill="#16cbe4"/>
<circle cx="199.7" cy="51.5" r="2.45" fill="#98fca6"/>
<circle cx="106.2" cy="120.2" r="2.45" fill="#3177f7"/>
<circle cx="126.7" cy="92.9" r="2.45" fill="#0ca7ef"/>
<circle cx="161.4" cy="93.1" r="2.45" fill="#38e7d7"/>
<circle cx="167.2" cy="127.9" r="2.45" fill="#58f7c9"/>
<circle cx="152.4" cy="119.0" r="2.45" fill="#2fe0db"/>
<circle cx="224.3" cy="78.2" r="2.45" fill="#ffac5c"/>
<circle cx="123.7" cy="143.9" r="2.45" fill="#4d4dfc"/>
<circle cx="252.9" cy="74.5" r="2.45" fill="#ff6b37"/>
<circle cx="121.0" cy="32.0" r="2.45" fill="#0ca7ef"/>
<circle cx="245.9" cy="97.3" r="2.45" fill="#ffad5d"/>
<circle cx="244.6" cy="111.7" r="2.45" fill="#ff8e4a"/>
<circle cx="244.7" cy="90.4" r="2.45" fill="#ff8143"/>
<circle cx="192.0" cy="115.5" r="2.45" fill="#6ffebd"/>
<circle cx="113.1" cy="25.2" r="2.45" fill="#5444fd"/>
<circle cx="130.3" cy="43.4" r="2.45" fill="#09bee9"/>
<circle cx="213.7" cy="113.6" r="2.45" fill="#f7bd68"/>
<circle cx="240.6" cy="48.8" r="2.45" fill="#f1c36c"/>
<circle cx="89.6" cy="37.4" r="2.45" fill="#4b52fc"/>
<circle cx="138.1" cy="140.1" r="2.45" fill="#07bce9"/>
<circle cx="148.8" cy="136.8" r="2.45" fill="#26d9df"/>
<circle cx="238.1" cy="63.2" r="2.45" fill="#ffaf5e"/>
<circle cx="199.6" cy="106.0" r="2.45" fill="#9dfba3"/>
<circle cx="125.9" cy="140.3" r="2.45" fill="#04b0ed"/>
<circle cx="149.7" cy="140.7" r="2.45" fill="#12c7e6"/>
<circle cx="133.9" cy="145.9" r="2.45" fill="#04b0ed"/>
<circle cx="200.0" cy="93.4" r="2.45" fill="#a2f9a0"/>
<circle cx="165.2" cy="59.0" r="2.45" fill="#4ef3ce"/>
<circle cx="219.1" cy="79.0" r="2.45" fill="#ffb05f"/>
<circle cx="104.8" cy="49.3" r="2.45" fill="#4559fb"/>
<circle cx="218.6" cy="56.5" r="2.45" fill="#ff924d"/>
<circle cx="108.9" cy="70.7" r="2.45" fill="#6727fe"/>
<circle cx="203.8" cy="72.2" r="2.45" fill="#82ffb3"/>
<circle cx="252.3" cy="50.3" r="2.45" fill="#ff6835"/>
<circle cx="210.9" cy="45.8" r="2.45" fill="#f3c16a"/>
<circle cx="123.6" cy="64.3" r="2.45" fill="#00b5eb"/>
<circle cx="99.7" cy="85.2" r="2.45" fill="#4b52fc"/>
<circle cx="223.9" cy="43.2" r="2.45" fill="#ffb160"/>
<circle cx="110.7" cy="124.2" r="2.45" fill="#504afc"/>
<circle cx="252.6" cy="92.8" r="2.45" fill="#ff733b"/>
<circle cx="134.3" cy="39.6" r="2.45" fill="#149cf1"/>
<circle cx="139.6" cy="46.7" r="2.45" fill="#5e34fe"/>
<circle cx="168.8" cy="51.2" r="2.45" fill="#58f8c9"/>
<circle cx="124.0" cy="47.6" r="2.45" fill="#2784f6"/>
<circle cx="80.6" cy="133.6" r="2.45" fill="#5345fd"/>
<circle cx="133.9" cy="139.3" r="2.45" fill="#10a2f0"/>
<circle cx="185.2" cy="87.9" r="2.45" fill="#76ffba"/>
<circle cx="145.2" cy="132.6" r="2.45" fill="#1cd0e2"/>
<circle cx="94.9" cy="102.1" r="2.45" fill="#4d4ffc"/>
<circle cx="131.8" cy="89.8" r="2.45" fill="#14c9e5"/>
<circle cx="233.6" cy="120.1" r="2.45" fill="#ddd67a"/>
<circle cx="208.6" cy="116.8" r="2.45" fill="#edc76e"/>
<circle cx="111.4" cy="55.3" r="2.45" fill="#4a53fb"/>
<circle cx="251.4" cy="89.7" r="2.45" fill="#ff8344"/>
<circle cx="220.3" cy="43.5" r="2.45" fill="#e7cd73"/>
<circle cx="221.1" cy="79.7" r="2.45" fill="#ffa357"/>
<circle cx="144.1" cy="50.2" r="2.45" fill="#2f79f7"/>
<circle cx="217.4" cy="64.2" r="2.45" fill="#f3c16a"/>
<circle cx="225.3" cy="50.5" r="2.45" fill="#eaca70"/>
<circle cx="258.4" cy="59.0" r="2.45" fill="#ff5f30"/>
<circle cx="156.0" cy="129.0" r="2.45" fill="#35e4d9"/>
<circle cx="125.3" cy="87.6" r="2.45" fill="#5049fc"/>
<circle cx="140.7" cy="137.1" r="2.45" fill="#00b4ec"/>
<circle cx="103.1" cy="28.6" r="2.45" fill="#396bf9"/>
<circle cx="89.6" cy="144.3" r="2.45" fill="#583efd"/>
<circle cx="195.9" cy="111.6" r="2.45" fill="#8dfead"/>
<circle cx="195.4" cy="109.6" r="2.45" fill="#7dffb6"/>
<circle cx="107.6" cy="77.8" r="2.45" fill="#3d65fa"/>
<circle cx="87.7" cy="146.6" r="2.45" fill="#5641fd"/>
<circle cx="227.0" cy="48.7" r="2.45" fill="#ffb461"/>
<circle cx="144.6" cy="48.8" r="2.45" fill="#3ae8d7"/>
<circle cx="233.3" cy="108.5" r="2.45" fill="#faba65"/>
<circle cx="81.3" cy="37.1" r="2.45" fill="#4f4bfc"/>
<circle cx="181.1" cy="132.5" r="2.45" fill="#52f5cc"/>
<circle cx="93.2" cy="31.5" r="2.45" fill="#622dfe"/>
<circle cx="195.3" cy="92.2" r="2.45" fill="#83ffb2"/>
<circle cx="230.0" cy="48.5" r="2.45" fill="#ffb05f"/>
<circle cx="161.5" cy="125.0" r="2.45" fill="#19cee3"/>
<circle cx="174.0" cy="113.4" r="2.45" fill="#5cf9c7"/>
<circle cx="149.5" cy="81.3" r="2.45" fill="#31e2da"/>
<circle cx="256.1" cy="63.8" r="2.45" fill="#ff6835"/>
<circle cx="227.7" cy="68.1" r="2.45" fill="#e7cd72"/>
<circle cx="203.1" cy="81.9" r="2.45" fill="#98fca6"/>
<circle cx="255.0" cy="97.5" r="2.45" fill="#ff351b"/>
<circle cx="152.5" cy="47.0" r="2.45" fill="#2bdddd"/>
<circle cx="190.0" cy="128.4" r="2.45" fill="#61fbc4"/>
<circle cx="117.4" cy="78.1" r="2.45" fill="#3f62fa"/>
<circle cx="134.3" cy="119.8" r="2.45" fill="#1d91f3"/>
<circle cx="145.8" cy="120.6" r="2.45" fill="#0ec3e7"/>
<circle cx="162.5" cy="128.5" r="2.45" fill="#33e3da"/>
<circle cx="255.3" cy="56.5" r="2.45" fill="#ff5e30"/>
<circle cx="142.6" cy="39.3" r="2.45" fill="#09bee9"/>
<circle cx="177.9" cy="101.8" r="2.45" fill="#51f4cc"/>
<circle cx="130.0" cy="81.6" r="2.45" fill="#5148fc"/>
<circle cx="172.6" cy="85.9" r="2.45" fill="#44eed2"/>
<circle cx="135.2" cy="61.6" r="2.45" fill="#22d5e0"/>
<circle cx="223.1" cy="83.0" r="2.45" fill="#d3de81"/>
<circle cx="241.5" cy="97.0" r="2.45" fill="#ff9a51"/>
<circle cx="153.3" cy="102.1" r="2.45" fill="#33e3da"/>
<circle cx="176.9" cy="86.5" r="2.45" fill="#70febd"/>
<circle cx="140.7" cy="46.9" r="2.45" fill="#415ffa"/>
<circle cx="248.0" cy="78.5" r="2.45" fill="#ff8847"/>
<circle cx="166.0" cy="70.0" r="2.45" fill="#35e5d8"/>
<circle cx="177.6" cy="135.0" r="2.45" fill="#69fdc0"/>
<circle cx="135.3" cy="69.5" r="2.45" fill="#06bbea"/>
<circle cx="91.9" cy="99.3" r="2.45" fill="#573ffd"/>
<circle cx="170.2" cy="144.1" r="2.45" fill="#4ef3ce"/>
<circle cx="148.8" cy="102.4" r="2.45" fill="#05b9ea"/>
<circle cx="153.3" cy="101.8" r="2.45" fill="#3077f7"/>
<circle cx="83.5" cy="102.1" r="2.45" fill="#386df9"/>
<circle cx="116.5" cy="48.8" r="2.45" fill="#4954fb"/>
<circle cx="113.7" cy="126.7" r="2.45" fill="#4160fa"/>
<circle cx="164.1" cy="104.8" r="2.45" fill="#44eed2"/>
<circle cx="80.8" cy="54.5" r="2.45" fill="#6a21fe"/>
<circle cx="229.3" cy="84.0" r="2.45" fill="#ffa85a"/>
<circle cx="239.7" cy="39.1" r="2.45" fill="#ebc970"/>
<circle cx="75.1" cy="111.8" r="2.45" fill="#4856fb"/>
<circle cx="140.5" cy="47.5" r="2.45" fill="#07acee"/>
<circle cx="98.0" cy="98.5" r="2.45" fill="#4658fb"/>
<circle cx="145.6" cy="81.3" r="2.45" fill="#37e6d8"/>
<circle cx="243.0" cy="46.8" r="2.45" fill="#ff9c53"/>
<circle cx="88.4" cy="74.8" r="2.45" fill="#3c67f9"/>
<circle cx="198.3" cy="60.3" r="2.45" fill="#7dffb6"/>
<circle cx="186.0" cy="61.3" r="2.45" fill="#7fffb4"/>
<circle cx="96.4" cy="90.2" r="2.45" fill="#4d4dfc"/>
<circle cx="177.4" cy="104.8" r="2.45" fill="#61fac4"/>
<circle cx="137.0" cy="79.5" r="2.45" fill="#0cc1e8"/>
<circle cx="81.6" cy="88.8" r="2.45" fill="#3177f8"/>
<circle cx="92.5" cy="57.8" r="2.45" fill="#435dfb"/>
<circle cx="111.4" cy="47.8" r="2.45" fill="#5148fc"/>
<circle cx="256.9" cy="93.6" r="2.45" fill="#ff6a36"/>
<circle cx="143.2" cy="143.8" r="2.45" fill="#02b7eb"/>
<circle cx="96.0" cy="105.9" r="2.45" fill="#4b50fc"/>
<circle cx="231.1" cy="36.5" r="2.45" fill="#f8bb66"/>
<circle cx="115.3" cy="87.4" r="2.45" fill="#4b51fc"/>
<circle cx="191.1" cy="62.8" r="2.45" fill="#74febb"/>
<circle cx="248.4" cy="98.9" r="2.45" fill="#ffa558"/>
<circle cx="194.2" cy="114.4" r="2.45" fill="#86ffb1"/>
<circle cx="70.4" cy="95.4" r="2.45" fill="#4e4cfc"/>
<circle cx="174.4" cy="122.5" r="2.45" fill="#56f7ca"/>
<circle cx="126.1" cy="81.2" r="2.45" fill="#14c9e5"/>
<circle cx="149.6" cy="81.3" r="2.45" fill="#37e6d8"/>
<circle cx="123.7" cy="72.5" r="2.45" fill="#0abfe9"/>
<circle cx="110.4" cy="102.2" r="2.45" fill="#4d4efc"/>
<circle cx="97.5" cy="48.0" r="2.45" fill="#4b51fc"/>
<circle cx="123.5" cy="113.9" r="2.45" fill="#4d4efc"/>
<circle cx="127.7" cy="117.4" r="2.45" fill="#139ef1"/>
<circle cx="195.9" cy="62.2" r="2.45" fill="#97fca7"/>
<circle cx="153.6" cy="107.6" r="2.45" fill="#445bfb"/>
<circle cx="80.1" cy="50.2" r="2.45" fill="#6f1aff"/>
<circle cx="102.2" cy="71.9" r="2.45" fill="#5641fd"/>
<circle cx="147.3" cy="63.7" r="2.45" fill="#5a3bfd"/>
<circle cx="103.8" cy="123.3" r="2.45" fill="#4d4efc"/>
<circle cx="149.8" cy="75.0" r="2.45" fill="#38e7d7"/>
<circle cx="132.4" cy="108.4" r="2.45" fill="#02b7eb"/>
<circle cx="111.3" cy="53.1" r="2.45" fill="#652afe"/>
<circle cx="135.2" cy="125.2" r="2.45" fill="#28dbde"/>
<circle cx="149.3" cy="73.1" r="2.45" fill="#29dcdd"/>
<circle cx="102.6" cy="142.8" r="2.45" fill="#455afb"/>
<circle cx="143.0" cy="126.4" r="2.45" fill="#0ec3e7"/>
<circle cx="169.3" cy="137.3" r="2.45" fill="#44eed2"/>
<circle cx="102.8" cy="30.3" r="2.45" fill="#612ffe"/>
<circle cx="193.2" cy="80.9" r="2.45" fill="#46efd1"/>
<circle cx="195.8" cy="54.6" r="2.45" fill="#59f8c8"/>
<circle cx="100.0" cy="80.3" r="2.45" fill="#4062fa"/>
<circle cx="178.3" cy="52.6" r="2.45" fill="#63fbc3"/>
<circle cx="86.1" cy="31.7" r="2.45" fill="#435dfb"/>
<circle cx="160.7" cy="122.3" r="2.45" fill="#1cd0e2"/>
<circle cx="114.0" cy="53.9" r="2.45" fill="#3f62fa"/>
<circle cx="133.7" cy="117.5" r="2.45" fill="#1b94f3"/>
<circle cx="85.4" cy="87.4" r="2.45" fill="#4756fb"/>
<circle cx="142.7" cy="114.7" r="2.45" fill="#37e6d8"/>
<circle cx="151.8" cy="115.1" r="2.45" fill="#3ae8d6"/>
<circle cx="255.3" cy="73.4" r="2.45" fill="#ff5028"/>
<circle cx="119.9" cy="48.9" r="2.45" fill="#5543fd"/>
<circle cx="124.8" cy="90.9" r="2.45" fill="#05aeed"/>
<circle cx="112.6" cy="107.7" r="2.45" fill="#4855fb"/>
<circle cx="151.8" cy="45.2" r="2.45" fill="#4955fb"/>
<circle cx="92.4" cy="109.8" r="2.45" fill="#573ffd"/>
<circle cx="88.2" cy="89.7" r="2.45" fill="#3571f8"/>
<circle cx="214.1" cy="74.8" r="2.45" fill="#d9d97d"/>
<circle cx="214.7" cy="76.2" r="2.45" fill="#d4dd80"/>
<circle cx="181.4" cy="77.8" r="2.45" fill="#47f0d1"/>
<circle cx="166.0" cy="108.6" r="2.45" fill="#3febd4"/>
<circle cx="108.6" cy="46.9" r="2.45" fill="#4955fb"/>
<circle cx="161.5" cy="82.4" r="2.45" fill="#3ce9d6"/>
<circle cx="86.1" cy="134.3" r="2.45" fill="#5444fd"/>
<circle cx="223.5" cy="126.1" r="2.45" fill="#e6ce73"/>
<circle cx="105.0" cy="29.2" r="2.45" fill="#386cf9"/>
<circle cx="225.2" cy="112.8" r="2.45" fill="#ffb260"/>
<circle cx="78.1" cy="72.6" r="2.45" fill="#5345fd"/>
<circle cx="74.5" cy="38.3" r="2.45" fill="#435dfb"/>
<circle cx="157.4" cy="97.7" r="2.45" fill="#3eead5"/>
<circle cx="97.6" cy="123.3" r="2.45" fill="#5443fd"/>
<circle cx="167.1" cy="142.7" r="2.45" fill="#3dead5"/>
<circle cx="122.6" cy="80.6" r="2.45" fill="#5147fc"/>
<circle cx="163.6" cy="136.8" r="2.45" fill="#40ebd4"/>
<circle cx="137.1" cy="59.4" r="2.45" fill="#06bbea"/>
<circle cx="224.1" cy="92.1" r="2.45" fill="#e9cb72"/>
<circle cx="169.0" cy="112.2" r="2.45" fill="#59f8c8"/>
<circle cx="91.8" cy="62.3" r="2.45" fill="#4954fb"/>
<circle cx="186.3" cy="132.1" r="2.45" fill="#61fac5"/>
<circle cx="211.3" cy="125.5" r="2.45" fill="#eec66e"/>
<circle cx="122.5" cy="62.2" r="2.45" fill="#3d65fa"/>
<circle cx="105.6" cy="78.7" r="2.45" fill="#5542fd"/>
<circle cx="213.6" cy="87.4" r="2.45" fill="#fcb864"/>
<circle cx="239.6" cy="96.4" r="2.45" fill="#faba65"/>
<circle cx="113.6" cy="141.8" r="2.45" fill="#5148fc"/>
<circle cx="105.6" cy="36.9" r="2.45" fill="#3d65fa"/>
<circle cx="138.9" cy="84.0" r="2.45" fill="#0da6ef"/>
<circle cx="137.9" cy="55.6" r="2.45" fill="#01b3ec"/>
<circle cx="75.4" cy="105.5" r="2.45" fill="#4c4ffc"/>
<circle cx="131.9" cy="71.5" r="2.45" fill="#18cde4"/>
<circle cx="137.2" cy="140.5" r="2.45" fill="#34e4d9"/>
<circle cx="74.8" cy="78.4" r="2.45" fill="#3176f8"/>
<circle cx="158.8" cy="123.8" r="2.45" fill="#32e3da"/>
<circle cx="230.7" cy="81.1" r="2.45" fill="#ffb260"/>
<circle cx="217.8" cy="51.7" r="2.45" fill="#efc66d"/>
<circle cx="249.4" cy="59.5" r="2.45" fill="#ff9950"/>
<circle cx="108.4" cy="109.3" r="2.45" fill="#415ffa"/>
<circle cx="137.1" cy="89.0" r="2.45" fill="#1ed3e2"/>
<circle cx="139.4" cy="128.0" r="2.45" fill="#3d66fa"/>
<circle cx="126.4" cy="59.8" r="2.45" fill="#4f4bfc"/>
<circle cx="111.0" cy="18.0" r="2.45" fill="#3b68f9"/>
<circle cx="214.8" cy="94.3" r="2.45" fill="#cfe183"/>
<circle cx="120.9" cy="52.9" r="2.45" fill="#0aa9ee"/>
<circle cx="80.0" cy="127.6" r="2.45" fill="#4559fb"/>
<circle cx="203.4" cy="63.0" r="2.45" fill="#cce486"/>
<circle cx="186.5" cy="126.7" r="2.45" fill="#75feba"/>
<circle cx="189.0" cy="129.3" r="2.45" fill="#7bffb7"/>
<circle cx="226.0" cy="74.1" r="2.45" fill="#fdb763"/>
<circle cx="235.0" cy="91.0" r="2.45" fill="#ffa457"/>
<circle cx="140.3" cy="99.7" r="2.45" fill="#1cd1e2"/>
<circle cx="106.2" cy="43.4" r="2.45" fill="#5640fd"/>
<circle cx="128.0" cy="136.5" r="2.45" fill="#0ba8ef"/>
<circle cx="123.4" cy="107.6" r="2.45" fill="#169af2"/>
<circle cx="187.1" cy="70.5" r="2.45" fill="#71febc"/>
<circle cx="74.7" cy="109.6" r="2.45" fill="#3176f8"/>
<circle cx="143.0" cy="117.9" r="2.45" fill="#07bbea"/>
<circle cx="90.2" cy="137.2" r="2.45" fill="#4d4efc"/>
<circle cx="92.2" cy="72.3" r="2.45" fill="#4954fb"/>
<circle cx="178.5" cy="102.4" r="2.45" fill="#98fca6"/>
<circle cx="135.8" cy="120.1" r="2.45" fill="#08bde9"/>
<circle cx="222.4" cy="76.2" r="2.45" fill="#ffaa5b"/>
<circle cx="97.9" cy="136.2" r="2.45" fill="#5640fd"/>
<circle cx="189.7" cy="113.0" r="2.45" fill="#9dfba3"/>
<circle cx="180.5" cy="74.9" r="2.45" fill="#58f7c9"/>
<circle cx="244.9" cy="83.3" r="2.45" fill="#ffaf5e"/>
<circle cx="159.7" cy="138.1" r="2.45" fill="#27dade"/>
<circle cx="200.8" cy="71.5" r="2.45" fill="#85ffb1"/>
<circle cx="223.1" cy="65.4" r="2.45" fill="#d3de81"/>
<circle cx="159.9" cy="77.8" r="2.45" fill="#504afc"/>
<circle cx="92.2" cy="108.7" r="2.45" fill="#3d65fa"/>
<circle cx="93.3" cy="143.5" r="2.45" fill="#5246fd"/>
<circle cx="117.4" cy="131.9" r="2.45" fill="#218cf4"/>
<circle cx="225.9" cy="68.2" r="2.45" fill="#ff964f"/>
<circle cx="90.9" cy="77.0" r="2.45" fill="#4b52fc"/>
<circle cx="168.3" cy="101.4" r="2.45" fill="#48f0d0"/>
<circle cx="194.3" cy="107.0" r="2.45" fill="#81ffb3"/>
<circle cx="158.7" cy="130.3" r="2.45" fill="#56f7ca"/>
<circle cx="134.5" cy="64.1" r="2.45" fill="#0dc2e8"/>
<circle cx="97.0" cy="97.5" r="2.45" fill="#366ff9"/>
<circle cx="66.0" cy="80.0" r="2.45" fill="#425efa"/>
<circle cx="245.3" cy="92.3" r="2.45" fill="#fdb763"/>
<circle cx="129.7" cy="140.5" r="2.45" fill="#0da6ef"/>
<circle cx="258.8" cy="79.2" r="2.45" fill="#ff4724"/>
<circle cx="158.6" cy="56.0" r="2.45" fill="#33e4d9"/>
<circle cx="73.7" cy="106.7" r="2.45" fill="#3a6af9"/>
<circle cx="94.7" cy="107.3" r="2.45" fill="#4c50fc"/>
<circle cx="97.6" cy="67.6" r="2.45" fill="#396cf9"/>
<circle cx="152.5" cy="50.6" r="2.45" fill="#30e1db"/>
<circle cx="182.0" cy="135.8" r="2.45" fill="#58f8c9"/>
<circle cx="119.0" cy="111.2" r="2.45" fill="#3c67fa"/>
<circle cx="191.5" cy="85.4" r="2.45" fill="#7affb7"/>
<circle cx="130.9" cy="100.3" r="2.45" fill="#22d6e0"/>
<circle cx="134.8" cy="56.8" r="2.45" fill="#07bcea"/>
<circle cx="79.8" cy="102.0" r="2.45" fill="#4658fb"/>
<circle cx="196.9" cy="108.9" r="2.45" fill="#95fda8"/>
<circle cx="116.8" cy="44.7" r="2.45" fill="#4d4efc"/>
<circle cx="220.6" cy="122.2" r="2.45" fill="#d4dd80"/>
<circle cx="76.3" cy="61.7" r="2.45" fill="#4659fb"/>
<circle cx="174.8" cy="63.3" r="2.45" fill="#68fcc1"/>
<circle cx="107.5" cy="71.0" r="2.45" fill="#4954fb"/>
<circle cx="98.3" cy="32.8" r="2.45" fill="#593cfd"/>
<circle cx="159.5" cy="118.9" r="2.45" fill="#4658fb"/>
<circle cx="168.3" cy="134.6" r="2.45" fill="#2edfdc"/>
<circle cx="187.6" cy="122.7" r="2.45" fill="#84ffb2"/>
<circle cx="120.5" cy="138.3" r="2.45" fill="#4c50fc"/>
<circle cx="101.3" cy="69.9" r="2.45" fill="#5444fd"/>
<circle cx="184.7" cy="126.0" r="2.45" fill="#8cfead"/>
<circle cx="91.0" cy="83.3" r="2.45" fill="#445cfb"/>
<circle cx="161.1" cy="89.0" r="2.45" fill="#2cdedc"/>
<circle cx="74.6" cy="79.2" r="2.45" fill="#3f63fa"/>
<circle cx="105.4" cy="38.7" r="2.45" fill="#5345fd"/>
<circle cx="249.7" cy="94.7" r="2.45" fill="#ff8344"/>
<circle cx="255.6" cy="80.8" r="2.45" fill="#ff8444"/>
<circle cx="81.8" cy="136.4" r="2.45" fill="#4a52fc"/>
<circle cx="116.5" cy="137.6" r="2.45" fill="#4d4efc"/>
<circle cx="141.3" cy="76.8" r="2.45" fill="#20d4e1"/>
<circle cx="212.8" cy="60.4" r="2.45" fill="#d5dc7f"/>
<circle cx="131.2" cy="67.4" r="2.45" fill="#04b8eb"/>
<circle cx="119.2" cy="145.5" r="2.45" fill="#4a52fc"/>
<circle cx="247.9" cy="55.3" r="2.45" fill="#ff9e54"/>
<circle cx="173.2" cy="71.9" r="2.45" fill="#48f0d0"/>
<circle cx="88.4" cy="33.6" r="2.45" fill="#4953fb"/>
<circle cx="112.3" cy="42.4" r="2.45" fill="#504afc"/>
<circle cx="200.6" cy="69.5" r="2.45" fill="#a6f89d"/>
<circle cx="107.3" cy="100.5" r="2.45" fill="#5b39fd"/>
<circle cx="192.6" cy="92.6" r="2.45" fill="#90feab"/>
<circle cx="104.8" cy="146.2" r="2.45" fill="#4b52fc"/>
<circle cx="219.2" cy="54.9" r="2.45" fill="#ffb15f"/>
<circle cx="83.0" cy="66.9" r="2.45" fill="#455afb"/>
<circle cx="78.8" cy="133.7" r="2.45" fill="#4659fb"/>
<circle cx="216.7" cy="97.8" r="2.45" fill="#feb562"/>
<circle cx="148.4" cy="101.3" r="2.45" fill="#2bdddd"/>
<circle cx="167.0" cy="51.6" r="2.45" fill="#3ae8d6"/>
<circle cx="132.9" cy="98.0" r="2.45" fill="#20d4e1"/>
<circle cx="162.3" cy="96.8" r="2.45" fill="#47f0d1"/>
<circle cx="86.8" cy="139.0" r="2.45" fill="#4856fb"/>
<circle cx="189.6" cy="98.1" r="2.45" fill="#55f6ca"/>
<circle cx="191.5" cy="62.4" r="2.45" fill="#77ffb9"/>
<circle cx="208.7" cy="91.0" r="2.45" fill="#dfd579"/>
<circle cx="231.6" cy="44.6" r="2.45" fill="#f8bc67"/>
<circle cx="130.3" cy="120.9" r="2.45" fill="#642bfe"/>
<circle cx="118.5" cy="73.2" r="2.45" fill="#4856fb"/>
<circle cx="104.6" cy="138.1" r="2.45" fill="#5c38fd"/>
<circle cx="141.9" cy="92.8" r="2.45" fill="#386df9"/>
<circle cx="246.1" cy="77.5" r="2.45" fill="#ffa357"/>
<circle cx="227.9" cy="35.6" r="2.45" fill="#ffa85a"/>
<circle cx="76.6" cy="123.4" r="2.45" fill="#3c68f9"/>
<circle cx="110.5" cy="54.1" r="2.45" fill="#386cf9"/>
<circle cx="102.6" cy="21.4" r="2.45" fill="#4f4bfc"/>
<circle cx="103.0" cy="52.1" r="2.45" fill="#4c50fc"/>
<circle cx="189.9" cy="88.5" r="2.45" fill="#8bfeae"/>
<circle cx="227.8" cy="80.2" r="2.45" fill="#f3c26b"/>
<circle cx="91.4" cy="50.9" r="2.45" fill="#3c68f9"/>
<circle cx="109.0" cy="72.8" r="2.45" fill="#5149fc"/>
<circle cx="94.8" cy="44.4" r="2.45" fill="#5640fd"/>
<circle cx="117.2" cy="68.8" r="2.45" fill="#4e4dfc"/>
<circle cx="83.8" cy="138.9" r="2.45" fill="#4062fa"/>
<circle cx="112.3" cy="49.0" r="2.45" fill="#5246fd"/>
<circle cx="174.9" cy="92.4" r="2.45" fill="#55f6ca"/>
<circle cx="200.4" cy="126.1" r="2.45" fill="#6bfdbf"/>
<circle cx="140.8" cy="88.4" r="2.45" fill="#0abfe8"/>
<circle cx="189.3" cy="122.3" r="2.45" fill="#7cffb6"/>
<circle cx="141.7" cy="102.5" r="2.45" fill="#17cce4"/>
<circle cx="86.5" cy="49.1" r="2.45" fill="#3e64fa"/>
<circle cx="84.4" cy="45.5" r="2.45" fill="#5246fd"/>
<circle cx="202.5" cy="73.6" r="2.45" fill="#b9ef92"/>
<circle cx="178.5" cy="72.3" r="2.45" fill="#6ffebd"/>
<circle cx="115.2" cy="53.0" r="2.45" fill="#4756fb"/>
<circle cx="239.6" cy="110.6" r="2.45" fill="#f9bb66"/>
<circle cx="119.1" cy="27.8" r="2.45" fill="#3473f8"/>
<circle cx="74.3" cy="84.7" r="2.45" fill="#4856fb"/>
<circle cx="128.3" cy="139.3" r="2.45" fill="#04afed"/>
<circle cx="184.2" cy="115.2" r="2.45" fill="#79ffb8"/>
<circle cx="99.2" cy="33.7" r="2.45" fill="#5b39fd"/>
<circle cx="189.7" cy="54.8" r="2.45" fill="#61fac4"/>
<circle cx="102.7" cy="40.3" r="2.45" fill="#5c38fd"/>
<circle cx="132.2" cy="45.8" r="2.45" fill="#1e91f3"/>
<circle cx="186.5" cy="124.2" r="2.45" fill="#82ffb3"/>
<circle cx="229.8" cy="64.9" r="2.45" fill="#e8cc72"/>
<circle cx="248.2" cy="100.1" r="2.45" fill="#ff6c37"/>
<circle cx="143.5" cy="137.5" r="2.45" fill="#2fe0db"/>
<circle cx="206.2" cy="124.8" r="2.45" fill="#f2c36b"/>
<circle cx="114.1" cy="148.2" r="2.45" fill="#583efd"/>
<circle cx="137.6" cy="88.2" r="2.45" fill="#4757fb"/>
<circle cx="120.6" cy="80.7" r="2.45" fill="#4c50fc"/>
<circle cx="125.2" cy="44.2" r="2.45" fill="#3b69f9"/>
<circle cx="94.4" cy="138.6" r="2.45" fill="#5640fd"/>
<circle cx="115.4" cy="47.9" r="2.45" fill="#3b69f9"/>
<circle cx="249.8" cy="81.1" r="2.45" fill="#ff914c"/>
<circle cx="162.4" cy="94.3" r="2.45" fill="#2adddd"/>
<circle cx="203.4" cy="77.1" r="2.45" fill="#7fffb5"/>
<circle cx="162.1" cy="73.9" r="2.45" fill="#56f7ca"/>
<circle cx="100.8" cy="57.8" r="2.45" fill="#425efa"/>
<circle cx="141.2" cy="80.8" r="2.45" fill="#2a80f6"/>
<circle cx="196.5" cy="64.3" r="2.45" fill="#90feab"/>
<circle cx="177.8" cy="96.0" r="2.45" fill="#71febc"/>
<circle cx="204.9" cy="82.2" r="2.45" fill="#c9e587"/>
<circle cx="186.0" cy="51.6" r="2.45" fill="#76ffba"/>
<circle cx="133.7" cy="46.1" r="2.45" fill="#06bbea"/>
<circle cx="96.5" cy="140.3" r="2.45" fill="#455afb"/>
<circle cx="206.9" cy="66.9" r="2.45" fill="#83ffb2"/>
<circle cx="132.2" cy="92.0" r="2.45" fill="#07acee"/>
<circle cx="85.9" cy="27.3" r="2.45" fill="#455afb"/>
<circle cx="72.6" cy="98.3" r="2.45" fill="#4658fb"/>
<circle cx="135.1" cy="105.7" r="2.45" fill="#0fa3f0"/>
<circle cx="103.9" cy="86.5" r="2.45" fill="#3f63fa"/>
<circle cx="107.9" cy="34.6" r="2.45" fill="#573efd"/>
<circle cx="83.2" cy="54.8" r="2.45" fill="#4856fb"/>
<circle cx="100.6" cy="106.8" r="2.45" fill="#4f4bfc"/>
<circle cx="201.2" cy="79.7" r="2.45" fill="#87ffb0"/>
<circle cx="117.9" cy="125.9" r="2.45" fill="#4658fb"/>
<circle cx="157.3" cy="97.4" r="2.45" fill="#35e5d9"/>
<circle cx="223.2" cy="60.2" r="2.45" fill="#e2d176"/>
<circle cx="146.2" cy="46.8" r="2.45" fill="#4856fb"/>
<circle cx="105.2" cy="39.4" r="2.45" fill="#3c67fa"/>
<circle cx="87.8" cy="125.0" r="2.45" fill="#4954fb"/>
<circle cx="90.6" cy="123.0" r="2.45" fill="#3e64fa"/>
<circle cx="153.8" cy="69.9" r="2.45" fill="#4658fb"/>
<circle cx="97.0" cy="99.1" r="2.45" fill="#4b50fc"/>
<circle cx="126.1" cy="69.0" r="2.45" fill="#2c7df7"/>
<circle cx="81.8" cy="116.0" r="2.45" fill="#5b38fd"/>
<circle cx="256.4" cy="67.8" r="2.45" fill="#ff7b40"/>
<circle cx="145.2" cy="37.3" r="2.45" fill="#4d4ffc"/>
<circle cx="123.0" cy="54.9" r="2.45" fill="#4856fb"/>
<circle cx="181.9" cy="130.7" r="2.45" fill="#5efac6"/>
<circle cx="105.7" cy="133.1" r="2.45" fill="#4d4efc"/>
<circle cx="71.2" cy="63.9" r="2.45" fill="#435efb"/>
<circle cx="255.6" cy="80.7" r="2.45" fill="#ff6f39"/>
<circle cx="256.3" cy="61.3" r="2.45" fill="#ff934d"/>
<circle cx="241.8" cy="63.1" r="2.45" fill="#ff9750"/>
<circle cx="96.9" cy="80.0" r="2.45" fill="#3f63fa"/>
<circle cx="161.9" cy="141.5" r="2.45" fill="#30e1da"/>
<circle cx="126.5" cy="95.4" r="2.45" fill="#04b0ed"/>
<circle cx="75.8" cy="112.9" r="2.45" fill="#5246fd"/>
<circle cx="73.7" cy="41.0" r="2.45" fill="#4b51fc"/>
<circle cx="112.0" cy="57.6" r="2.45" fill="#4b51fc"/>
<circle cx="203.2" cy="124.9" r="2.45" fill="#e0d378"/>
<circle cx="219.0" cy="99.5" r="2.45" fill="#efc56d"/>
<circle cx="172.8" cy="90.6" r="2.45" fill="#2ddfdc"/>
<circle cx="223.3" cy="103.9" r="2.45" fill="#ffab5c"/>
<circle cx="171.6" cy="130.8" r="2.45" fill="#28dbde"/>
<circle cx="129.1" cy="101.5" r="2.45" fill="#06aeed"/>
<circle cx="133.6" cy="113.7" r="2.45" fill="#07acee"/>
<circle cx="120.8" cy="61.7" r="2.45" fill="#5444fd"/>
<circle cx="100.7" cy="85.7" r="2.45" fill="#5f32fe"/>
<circle cx="101.0" cy="39.3" r="2.45" fill="#4e4dfc"/>
<circle cx="189.2" cy="92.2" r="2.45" fill="#83ffb2"/>
<circle cx="229.6" cy="77.5" r="2.45" fill="#f0c56d"/>
<circle cx="80.0" cy="83.4" r="2.45" fill="#425efa"/>
<circle cx="223.8" cy="73.9" r="2.45" fill="#ffa558"/>
<circle cx="151.0" cy="49.1" r="2.45" fill="#12c7e6"/>
<circle cx="184.1" cy="68.1" r="2.45" fill="#6efebe"/>
<circle cx="110.4" cy="87.6" r="2.45" fill="#5f32fe"/>
<circle cx="198.7" cy="76.3" r="2.45" fill="#7effb5"/>
<circle cx="115.2" cy="121.8" r="2.45" fill="#5a3bfd"/>
<circle cx="200.5" cy="57.6" r="2.45" fill="#88ffb0"/>
<circle cx="234.3" cy="38.4" r="2.45" fill="#f7bd67"/>
<circle cx="123.5" cy="74.8" r="2.45" fill="#0fa2f0"/>
<circle cx="78.0" cy="86.9" r="2.45" fill="#3c68f9"/>
<circle cx="137.1" cy="114.0" r="2.45" fill="#21d5e1"/>
<circle cx="111.6" cy="40.3" r="2.45" fill="#3c67fa"/>
<circle cx="221.3" cy="46.6" r="2.45" fill="#e6ce73"/>
<circle cx="87.5" cy="126.5" r="2.45" fill="#4b51fc"/>
<circle cx="186.4" cy="65.0" r="2.45" fill="#82ffb3"/>
<circle cx="91.9" cy="122.4" r="2.45" fill="#4061fa"/>
<circle cx="222.4" cy="120.5" r="2.45" fill="#e0d377"/>
<circle cx="118.0" cy="29.0" r="2.45" fill="#642bfe"/>
<circle cx="98.9" cy="25.5" r="2.45" fill="#4559fb"/>
<circle cx="62.0" cy="92.0" r="2.45" fill="#5f32fe"/>
<circle cx="146.9" cy="58.7" r="2.45" fill="#435dfb"/>
<circle cx="93.1" cy="148.6" r="2.45" fill="#583dfd"/>
<circle cx="133.4" cy="70.7" r="2.45" fill="#14c9e5"/>
<circle cx="248.0" cy="57.8" r="2.45" fill="#ffa759"/>
<circle cx="172.1" cy="126.2" r="2.45" fill="#31e2da"/>
<circle cx="181.8" cy="99.4" r="2.45" fill="#5df9c6"/>
<circle cx="87.6" cy="56.4" r="2.45" fill="#5541fd"/>
<circle cx="87.5" cy="21.5" r="2.45" fill="#3176f8"/>
<circle cx="205.3" cy="59.3" r="2.45" fill="#a6f89e"/>
<circle cx="129.8" cy="66.5" r="2.45" fill="#01b5eb"/>
<circle cx="170.8" cy="57.8" r="2.45" fill="#5cf9c7"/>
<circle cx="128.4" cy="38.5" r="2.45" fill="#0ca6ef"/>
<circle cx="140.3" cy="107.4" r="2.45" fill="#08bde9"/>
<circle cx="109.9" cy="97.8" r="2.45" fill="#4062fa"/>
<circle cx="161.7" cy="121.7" r="2.45" fill="#31e2da"/>
<circle cx="181.4" cy="80.8" r="2.45" fill="#71febc"/>
<circle cx="181.3" cy="100.7" r="2.45" fill="#56f7ca"/>
<circle cx="92.7" cy="143.5" r="2.45" fill="#4855fb"/>
<circle cx="251.1" cy="87.6" r="2.45" fill="#ff4e27"/>
<circle cx="247.7" cy="72.9" r="2.45" fill="#ff9e53"/>
<circle cx="239.8" cy="96.5" r="2.45" fill="#f2c26b"/>
<circle cx="139.2" cy="51.7" r="2.45" fill="#0abfe8"/>
<circle cx="181.9" cy="91.7" r="2.45" fill="#67fcc1"/>
<circle cx="212.2" cy="109.2" r="2.45" fill="#f5bf69"/>
<circle cx="108.4" cy="80.2" r="2.45" fill="#5148fc"/>
<circle cx="166.5" cy="58.0" r="2.45" fill="#60fac5"/>
<circle cx="85.2" cy="41.2" r="2.45" fill="#5247fd"/>
<circle cx="91.2" cy="133.3" r="2.45" fill="#5049fc"/>
<circle cx="186.1" cy="107.7" r="2.45" fill="#88ffaf"/>
<circle cx="141.9" cy="98.4" r="2.45" fill="#19cee3"/>
<circle cx="209.5" cy="82.5" r="2.45" fill="#e2d176"/>
<circle cx="103.4" cy="65.0" r="2.45" fill="#5345fd"/>
<circle cx="108.0" cy="105.0" r="2.45" fill="#435cfb"/>
<circle cx="175.6" cy="76.2" r="2.45" fill="#5efac6"/>
<circle cx="98.8" cy="60.1" r="2.45" fill="#5247fc"/>
<circle cx="87.2" cy="130.6" r="2.45" fill="#5148fc"/>
<circle cx="73.5" cy="116.8" r="2.45" fill="#4d4efc"/>
<circle cx="166.8" cy="99.2" r="2.45" fill="#4cf2cf"/>
<circle cx="114.8" cy="34.3" r="2.45" fill="#573ffd"/>
<circle cx="196.0" cy="52.7" r="2.45" fill="#96fda7"/>
<circle cx="246.9" cy="51.7" r="2.45" fill="#ff9f54"/>
<circle cx="160.3" cy="117.6" r="2.45" fill="#5af8c8"/>
<circle cx="212.1" cy="63.9" r="2.45" fill="#cee284"/>
<circle cx="112.2" cy="94.8" r="2.45" fill="#5542fd"/>
<circle cx="118.1" cy="51.2" r="2.45" fill="#4659fb"/>
<circle cx="168.5" cy="134.3" r="2.45" fill="#4af1d0"/>
<circle cx="157.7" cy="42.3" r="2.45" fill="#26d9de"/>
<circle cx="238.2" cy="61.7" r="2.45" fill="#ff8c49"/>
<circle cx="230.5" cy="45.9" r="2.45" fill="#ff9850"/>
<circle cx="194.1" cy="107.2" r="2.45" fill="#83ffb2"/>
<circle cx="181.3" cy="119.5" r="2.45" fill="#5cf9c7"/>
<circle cx="90.7" cy="27.2" r="2.45" fill="#4d4ffc"/>
<circle cx="210.5" cy="51.7" r="2.45" fill="#eaca70"/>
<circle cx="159.5" cy="72.3" r="2.45" fill="#30e1da"/>
<circle cx="200.9" cy="65.0" r="2.45" fill="#d4dd80"/>
<circle cx="159.3" cy="147.0" r="2.45" fill="#4061fa"/>
<circle cx="108.3" cy="31.8" r="2.45" fill="#5246fd"/>
<circle cx="88.9" cy="131.2" r="2.45" fill="#4d4efc"/>
<circle cx="143.1" cy="57.2" r="2.45" fill="#0abfe9"/>
<circle cx="158.6" cy="76.0" r="2.45" fill="#2fe0db"/>
<circle cx="119.8" cy="82.7" r="2.45" fill="#4757fb"/>
<circle cx="86.3" cy="22.7" r="2.45" fill="#2e7bf7"/>
<circle cx="79.5" cy="92.7" r="2.45" fill="#4d4efc"/>
<circle cx="101.2" cy="70.5" r="2.45" fill="#5345fd"/>
<circle cx="119.5" cy="80.9" r="2.45" fill="#4b50fc"/>
<circle cx="144.7" cy="141.1" r="2.45" fill="#1acfe3"/>
<circle cx="119.8" cy="140.3" r="2.45" fill="#4061fa"/>
<circle cx="84.4" cy="67.8" r="2.45" fill="#4d4efc"/>
<circle cx="154.3" cy="50.9" r="2.45" fill="#23d7e0"/>
<circle cx="231.9" cy="66.5" r="2.45" fill="#fab965"/>
<circle cx="236.5" cy="95.0" r="2.45" fill="#edc76e"/>
<circle cx="80.5" cy="124.4" r="2.45" fill="#445cfb"/>
<circle cx="78.9" cy="96.9" r="2.45" fill="#4c50fc"/>
<circle cx="232.4" cy="63.5" r="2.45" fill="#ff9c52"/>
<circle cx="101.0" cy="67.3" r="2.45" fill="#5247fc"/>
<circle cx="111.6" cy="139.1" r="2.45" fill="#5640fd"/>
<circle cx="135.1" cy="122.2" r="2.45" fill="#09bee9"/>
<circle cx="69.5" cy="81.7" r="2.45" fill="#3473f8"/>
<circle cx="141.0" cy="62.6" r="2.45" fill="#5443fd"/>
<circle cx="220.2" cy="51.0" r="2.45" fill="#d4dd80"/>
<circle cx="93.3" cy="141.2" r="2.45" fill="#4953fb"/>
<circle cx="235.0" cy="52.0" r="2.45" fill="#ffb562"/>
<circle cx="59.0" cy="97.8" r="2.45" fill="#5148fc"/>
<circle cx="131.2" cy="131.5" r="2.45" fill="#149df1"/>
<circle cx="234.8" cy="101.8" r="2.45" fill="#ff944e"/>
<circle cx="159.0" cy="138.6" r="2.45" fill="#4df3ce"/>
<circle cx="162.7" cy="84.3" r="2.45" fill="#30e1db"/>
<circle cx="250.1" cy="52.4" r="2.45" fill="#ff8d4a"/>
<circle cx="147.4" cy="141.9" r="2.45" fill="#1cd1e2"/>
<circle cx="215.6" cy="88.6" r="2.45" fill="#ecc86f"/>
<circle cx="93.5" cy="93.7" r="2.45" fill="#5049fc"/>
<circle cx="144.5" cy="103.6" r="2.45" fill="#21d5e0"/>
<circle cx="95.9" cy="67.2" r="2.45" fill="#435dfb"/>
<circle cx="177.5" cy="90.6" r="2.45" fill="#58f7c9"/>
<circle cx="130.2" cy="105.9" r="2.45" fill="#02b7eb"/>
<circle cx="190.6" cy="103.1" r="2.45" fill="#8ffeab"/>
<circle cx="257.8" cy="63.4" r="2.45" fill="#ff2d17"/>
<circle cx="78.0" cy="100.3" r="2.45" fill="#3d66fa"/>
<circle cx="115.1" cy="27.1" r="2.45" fill="#455afb"/>
<circle cx="221.8" cy="50.7" r="2.45" fill="#ff944e"/>
<circle cx="241.5" cy="44.5" r="2.45" fill="#ffab5c"/>
<circle cx="116.3" cy="142.7" r="2.45" fill="#4954fb"/>
<circle cx="150.3" cy="136.9" r="2.45" fill="#37e6d8"/>
<circle cx="75.9" cy="135.1" r="2.45" fill="#425ffa"/>
<circle cx="192.5" cy="112.2" r="2.45" fill="#7bffb7"/>
<circle cx="165.2" cy="95.1" r="2.45" fill="#32e3da"/>
<circle cx="198.2" cy="118.7" r="2.45" fill="#74feba"/>
<circle cx="225.5" cy="82.4" r="2.45" fill="#f2c26b"/>
<circle cx="168.8" cy="108.6" r="2.45" fill="#64fbc3"/>
<circle cx="219.9" cy="39.1" r="2.45" fill="#ffb05f"/>
<circle cx="176.5" cy="125.7" r="2.45" fill="#4ef3ce"/>
<circle cx="234.7" cy="58.3" r="2.45" fill="#f8bc67"/>
<circle cx="177.1" cy="96.7" r="2.45" fill="#53f6cb"/>
<circle cx="91.7" cy="128.5" r="2.45" fill="#3b68f9"/>
<circle cx="207.2" cy="114.1" r="2.45" fill="#8bfeae"/>
<circle cx="154.3" cy="43.3" r="2.45" fill="#31e2da"/>
<circle cx="131.2" cy="120.1" r="2.45" fill="#03b8eb"/>
<circle cx="188.5" cy="111.2" r="2.45" fill="#76ffba"/>
<circle cx="112.7" cy="50.1" r="2.45" fill="#5444fd"/>
<circle cx="91.6" cy="114.8" r="2.45" fill="#4061fa"/>
<circle cx="220.4" cy="61.0" r="2.45" fill="#d7da7d"/>
<circle cx="89.7" cy="40.5" r="2.45" fill="#4658fb"/>
<circle cx="184.1" cy="108.7" r="2.45" fill="#71febc"/>
<circle cx="171.3" cy="85.6" r="2.45" fill="#47f0d1"/>
<circle cx="225.4" cy="61.0" r="2.45" fill="#faba65"/>
<circle cx="116.6" cy="46.8" r="2.45" fill="#6628fe"/>
<circle cx="118.9" cy="140.3" r="2.45" fill="#2488f5"/>
<circle cx="117.4" cy="121.4" r="2.45" fill="#3a6af9"/>
<circle cx="207.5" cy="123.3" r="2.45" fill="#ffac5c"/>
<circle cx="131.8" cy="113.6" r="2.45" fill="#4a53fc"/>
<circle cx="224.9" cy="44.1" r="2.45" fill="#f1c36c"/>
<circle cx="230.7" cy="75.9" r="2.45" fill="#fcb763"/>
<circle cx="227.6" cy="80.4" r="2.45" fill="#f7bd67"/>
<circle cx="165.8" cy="141.5" r="2.45" fill="#32e2da"/>
<circle cx="91.5" cy="19.7" r="2.45" fill="#5049fc"/>
<circle cx="96.6" cy="90.5" r="2.45" fill="#4e4dfc"/>
<circle cx="199.2" cy="60.8" r="2.45" fill="#75feba"/>
<circle cx="184.6" cy="116.8" r="2.45" fill="#68fcc1"/>
<circle cx="152.1" cy="94.9" r="2.45" fill="#3be9d6"/>
<circle cx="154.7" cy="103.1" r="2.45" fill="#22d5e0"/>
<circle cx="112.4" cy="72.4" r="2.45" fill="#593cfd"/>
<circle cx="88.6" cy="116.2" r="2.45" fill="#4658fb"/>
<circle cx="199.3" cy="127.9" r="2.45" fill="#9ffaa2"/>
<circle cx="134.9" cy="128.9" r="2.45" fill="#07bce9"/>
<circle cx="153.9" cy="38.0" r="2.45" fill="#08abee"/>
<circle cx="119.0" cy="114.3" r="2.45" fill="#4954fb"/>
<circle cx="251.3" cy="89.1" r="2.45" fill="#ff8e4a"/>
<circle cx="185.7" cy="92.7" r="2.45" fill="#53f6cb"/>
<circle cx="157.1" cy="119.1" r="2.45" fill="#42edd3"/>
<circle cx="229.2" cy="57.1" r="2.45" fill="#e8cc72"/>
<circle cx="157.2" cy="69.5" r="2.45" fill="#2ddfdc"/>
<circle cx="131.0" cy="54.4" r="2.45" fill="#3c66fa"/>
<circle cx="165.5" cy="60.7" r="2.45" fill="#4ef3ce"/>
<circle cx="197.1" cy="58.7" r="2.45" fill="#8afeaf"/>
<circle cx="157.6" cy="98.6" r="2.45" fill="#30e1db"/>
<circle cx="200.8" cy="84.8" r="2.45" fill="#8bfeae"/>
<circle cx="162.9" cy="136.1" r="2.45" fill="#55f7ca"/>
<circle cx="178.2" cy="140.1" r="2.45" fill="#74febb"/>
<circle cx="88.9" cy="52.6" r="2.45" fill="#5444fd"/>
<circle cx="154.4" cy="141.0" r="2.45" fill="#0cc2e8"/>
<circle cx="98.8" cy="89.9" r="2.45" fill="#4a53fb"/>
<circle cx="169.7" cy="138.5" r="2.45" fill="#61fbc4"/>
<circle cx="160.2" cy="40.9" r="2.45" fill="#32e3da"/>
<circle cx="218.4" cy="69.6" r="2.45" fill="#e5cf74"/>
<circle cx="256.7" cy="57.9" r="2.45" fill="#ff2613"/>
<circle cx="133.4" cy="67.9" r="2.45" fill="#01b4ec"/>
<circle cx="96.8" cy="114.2" r="2.45" fill="#6032fe"/>
<circle cx="108.3" cy="63.9" r="2.45" fill="#5345fd"/>
<circle cx="209.4" cy="82.7" r="2.45" fill="#e6ce73"/>
<circle cx="191.5" cy="99.6" r="2.45" fill="#70febd"/>
<circle cx="227.7" cy="39.3" r="2.45" fill="#efc66d"/>
<circle cx="195.4" cy="85.8" r="2.45" fill="#77ffb9"/>
<circle cx="127.1" cy="90.2" r="2.45" fill="#5a3afd"/>
<circle cx="122.4" cy="54.8" r="2.45" fill="#08abee"/>
<circle cx="255.8" cy="73.0" r="2.45" fill="#ff7f42"/>
<circle cx="189.9" cy="94.1" r="2.45" fill="#77ffb9"/>
<circle cx="214.9" cy="106.5" r="2.45" fill="#eacb71"/>
<circle cx="240.7" cy="58.5" r="2.45" fill="#fcb864"/>
<circle cx="236.6" cy="105.6" r="2.45" fill="#ff974f"/>
<circle cx="153.1" cy="128.9" r="2.45" fill="#3febd4"/>
<circle cx="102.1" cy="55.0" r="2.45" fill="#4d4efc"/>
<circle cx="242.7" cy="66.9" r="2.45" fill="#ffa558"/>
<circle cx="188.4" cy="91.2" r="2.45" fill="#7cffb6"/>
<circle cx="103.6" cy="31.6" r="2.45" fill="#583efd"/>
<circle cx="210.9" cy="97.2" r="2.45" fill="#e1d377"/>
<circle cx="147.4" cy="48.1" r="2.45" fill="#09bee9"/>
<circle cx="125.9" cy="93.4" r="2.45" fill="#11a0f0"/>
<circle cx="121.9" cy="133.8" r="2.45" fill="#2e7bf7"/>
<circle cx="100.0" cy="21.4" r="2.45" fill="#504afc"/>
<circle cx="147.9" cy="127.4" r="2.45" fill="#26dade"/>
<circle cx="204.6" cy="72.6" r="2.45" fill="#85ffb1"/>
<circle cx="214.1" cy="120.9" r="2.45" fill="#b6f194"/>
<circle cx="94.9" cy="66.3" r="2.45" fill="#3b68f9"/>
<circle cx="153.9" cy="42.4" r="2.45" fill="#44eed2"/>
<circle cx="134.1" cy="114.7" r="2.45" fill="#01b3ec"/>
<circle cx="117.6" cy="105.1" r="2.45" fill="#455afb"/>
<circle cx="124.3" cy="99.3" r="2.45" fill="#573ffd"/>
<circle cx="87.3" cy="77.1" r="2.45" fill="#3a69f9"/>
<circle cx="193.3" cy="116.8" r="2.45" fill="#88ffb0"/>
<circle cx="116.3" cy="121.6" r="2.45" fill="#5247fc"/>
<circle cx="177.1" cy="52.0" r="2.45" fill="#6cfdbf"/>
<circle cx="92.3" cy="24.9" r="2.45" fill="#4b51fc"/>
<circle cx="143.1" cy="142.3" r="2.45" fill="#4658fb"/>
<circle cx="173.6" cy="96.4" r="2.45" fill="#73febb"/>
<circle cx="92.6" cy="129.2" r="2.45" fill="#4b51fc"/>
<circle cx="224.1" cy="56.8" r="2.45" fill="#ff964f"/>
<circle cx="112.0" cy="141.0" r="2.45" fill="#5f33fe"/>
<circle cx="127.9" cy="121.5" r="2.45" fill="#08abee"/>
<circle cx="78.8" cy="110.5" r="2.45" fill="#445cfb"/>
<circle cx="104.6" cy="96.8" r="2.45" fill="#4b51fc"/>
<circle cx="220.0" cy="96.2" r="2.45" fill="#feb562"/>
<circle cx="85.9" cy="139.7" r="2.45" fill="#652afe"/>
<circle cx="99.7" cy="59.1" r="2.45" fill="#3276f8"/>
<circle cx="214.9" cy="109.5" r="2.45" fill="#f1c36c"/>
<circle cx="222.7" cy="102.0" r="2.45" fill="#ffa457"/>
<circle cx="83.9" cy="84.5" r="2.45" fill="#5346fd"/>
<circle cx="202.3" cy="76.0" r="2.45" fill="#91feaa"/>
<circle cx="81.1" cy="51.6" r="2.45" fill="#5d36fe"/>
<circle cx="143.5" cy="47.8" r="2.45" fill="#16cbe5"/>
<circle cx="239.9" cy="73.7" r="2.45" fill="#faba66"/>
<circle cx="154.2" cy="137.4" r="2.45" fill="#2bdedc"/>
<circle cx="118.1" cy="54.0" r="2.45" fill="#5049fc"/>
<circle cx="193.0" cy="50.9" r="2.45" fill="#70febd"/>
<circle cx="155.2" cy="136.4" r="2.45" fill="#583dfd"/>
<circle cx="69.2" cy="104.9" r="2.45" fill="#4062fa"/>
<circle cx="113.1" cy="133.0" r="2.45" fill="#5149fc"/>
<circle cx="136.2" cy="126.3" r="2.45" fill="#4855fb"/>
<circle cx="100.7" cy="130.4" r="2.45" fill="#4757fb"/>
<circle cx="252.8" cy="73.4" r="2.45" fill="#ff4e27"/>
<circle cx="213.3" cy="92.1" r="2.45" fill="#ffb461"/>
<circle cx="115.1" cy="83.5" r="2.45" fill="#386df9"/>
<circle cx="224.0" cy="101.3" r="2.45" fill="#fcb763"/>
<circle cx="149.1" cy="130.8" r="2.45" fill="#1dd2e2"/>
<circle cx="195.2" cy="84.7" r="2.45" fill="#75feba"/>
<circle cx="147.0" cy="38.5" r="2.45" fill="#0cc1e8"/>
<circle cx="122.3" cy="114.9" r="2.45" fill="#2686f5"/>
<circle cx="249.9" cy="87.7" r="2.45" fill="#ffa658"/>
<circle cx="195.3" cy="106.2" r="2.45" fill="#80ffb4"/>
<circle cx="79.6" cy="78.4" r="2.45" fill="#3e64fa"/>
<circle cx="209.3" cy="63.7" r="2.45" fill="#a2f9a0"/>
<circle cx="134.4" cy="56.0" r="2.45" fill="#24d7df"/>
<circle cx="181.7" cy="74.4" r="2.45" fill="#56f7ca"/>
<circle cx="113.3" cy="80.8" r="2.45" fill="#4a53fc"/>
<circle cx="111.3" cy="121.0" r="2.45" fill="#3a6af9"/>
<circle cx="222.1" cy="44.5" r="2.45" fill="#ffb462"/>
<circle cx="192.7" cy="106.6" r="2.45" fill="#8afeae"/>
<circle cx="84.1" cy="24.9" r="2.45" fill="#4c4ffc"/>
<circle cx="93.8" cy="49.3" r="2.45" fill="#5246fd"/>
<circle cx="258.8" cy="85.8" r="2.45" fill="#ff6936"/>
<circle cx="126.2" cy="45.0" r="2.45" fill="#14c9e5"/>
<circle cx="107.4" cy="141.9" r="2.45" fill="#4d4ffc"/>
<circle cx="109.3" cy="99.6" r="2.45" fill="#583efd"/>
<circle cx="196.0" cy="95.8" r="2.45" fill="#64fbc3"/>
<circle cx="247.2" cy="102.4" r="2.45" fill="#ff9e53"/>
<circle cx="252.1" cy="75.9" r="2.45" fill="#ff703a"/>
<circle cx="91.7" cy="21.9" r="2.45" fill="#376ef9"/>
<circle cx="218.2" cy="130.0" r="2.45" fill="#e6ce74"/>
<circle cx="89.2" cy="55.9" r="2.45" fill="#4954fb"/>
<circle cx="138.6" cy="88.4" r="2.45" fill="#4658fb"/>
<circle cx="183.2" cy="92.9" r="2.45" fill="#54f6cb"/>
<circle cx="72.7" cy="78.2" r="2.45" fill="#3e64fa"/>
<circle cx="223.6" cy="52.9" r="2.45" fill="#eec66e"/>
<circle cx="155.2" cy="99.5" r="2.45" fill="#38e7d7"/>
<circle cx="164.5" cy="138.2" r="2.45" fill="#35e4d9"/>
<circle cx="150.6" cy="124.8" r="2.45" fill="#35e5d9"/>
<circle cx="245.2" cy="92.1" r="2.45" fill="#ff9750"/>
<circle cx="190.4" cy="79.8" r="2.45" fill="#77ffb9"/>
<circle cx="164.2" cy="104.1" r="2.45" fill="#32e3da"/>
<circle cx="105.9" cy="29.8" r="2.45" fill="#3f62fa"/>
<circle cx="107.4" cy="22.1" r="2.45" fill="#4954fb"/>
<circle cx="256.6" cy="72.4" r="2.45" fill="#ff5029"/>
<circle cx="227.7" cy="96.1" r="2.45" fill="#e6ce74"/>
<circle cx="86.6" cy="76.4" r="2.45" fill="#396cf9"/>
<circle cx="130.4" cy="106.8" r="2.45" fill="#455afb"/>
<circle cx="167.4" cy="79.9" r="2.45" fill="#53f5cb"/>
<circle cx="117.4" cy="27.1" r="2.45" fill="#5542fd"/>
<circle cx="108.1" cy="24.6" r="2.45" fill="#5e35fe"/>
<circle cx="93.6" cy="79.9" r="2.45" fill="#6031fe"/>
<circle cx="89.3" cy="80.0" r="2.45" fill="#3f63fa"/>
<circle cx="144.1" cy="124.5" r="2.45" fill="#16cbe4"/>
<circle cx="187.6" cy="55.6" r="2.45" fill="#7dffb6"/>
<circle cx="146.9" cy="44.4" r="2.45" fill="#5d35fe"/>
<circle cx="230.8" cy="105.3" r="2.45" fill="#ffac5c"/>
<circle cx="225.4" cy="71.9" r="2.45" fill="#ffa95b"/>
<circle cx="154.7" cy="98.2" r="2.45" fill="#3febd4"/>
<circle cx="136.5" cy="63.7" r="2.45" fill="#02b7eb"/>
<circle cx="84.2" cy="28.5" r="2.45" fill="#4a52fc"/>
<circle cx="86.1" cy="130.0" r="2.45" fill="#4757fb"/>
<circle cx="79.6" cy="101.4" r="2.45" fill="#593cfd"/>
<circle cx="87.9" cy="127.4" r="2.45" fill="#4a53fc"/>
<circle cx="232.3" cy="46.7" r="2.45" fill="#efc56d"/>
<circle cx="184.2" cy="129.7" r="2.45" fill="#5efac6"/>
<circle cx="224.1" cy="97.4" r="2.45" fill="#ffb260"/>
<circle cx="119.3" cy="91.2" r="2.45" fill="#3b68f9"/>
<circle cx="123.0" cy="86.8" r="2.45" fill="#0fc4e7"/>
<circle cx="107.0" cy="97.1" r="2.45" fill="#4e4cfc"/>
<circle cx="182.2" cy="67.5" r="2.45" fill="#6cfdbf"/>
<circle cx="178.3" cy="103.1" r="2.45" fill="#3dead5"/>
<circle cx="77.1" cy="132.4" r="2.45" fill="#5b39fd"/>
<circle cx="219.4" cy="109.4" r="2.45" fill="#f6be68"/>
<circle cx="214.7" cy="42.4" r="2.45" fill="#d1e082"/>
<circle cx="206.3" cy="46.1" r="2.45" fill="#b1f397"/>
<circle cx="111.2" cy="26.0" r="2.45" fill="#4a53fc"/>
<circle cx="104.5" cy="11.6" r="2.45" fill="#455bfb"/>
<circle cx="198.2" cy="52.9" r="2.45" fill="#7effb5"/>
<circle cx="184.1" cy="68.7" r="2.45" fill="#70febd"/>
<circle cx="142.0" cy="112.6" r="2.45" fill="#04afed"/>
<circle cx="211.1" cy="64.7" r="2.45" fill="#ecc86f"/>
<circle cx="169.8" cy="98.0" r="2.45" fill="#49f1d0"/>
<circle cx="114.6" cy="50.2" r="2.45" fill="#4756fb"/>
<circle cx="84.0" cy="114.7" r="2.45" fill="#3b68f9"/>
<circle cx="106.0" cy="104.7" r="2.45" fill="#4d4dfc"/>
<circle cx="210.5" cy="55.9" r="2.45" fill="#ebc970"/>
<circle cx="176.8" cy="63.8" r="2.45" fill="#6bfdbf"/>
<circle cx="130.3" cy="43.2" r="2.45" fill="#0aa9ee"/>
<circle cx="189.2" cy="103.4" r="2.45" fill="#8cfead"/>
<circle cx="172.7" cy="60.6" r="2.45" fill="#56f7ca"/>
<circle cx="118.8" cy="116.7" r="2.45" fill="#5b39fd"/>
<circle cx="124.1" cy="40.6" r="2.45" fill="#3f62fa"/>
<circle cx="102.6" cy="49.4" r="2.45" fill="#4062fa"/>
<circle cx="174.0" cy="58.0" r="2.45" fill="#46efd1"/>
<circle cx="97.7" cy="79.2" r="2.45" fill="#445cfb"/>
<circle cx="241.5" cy="43.5" r="2.45" fill="#ff9e54"/>
<circle cx="154.7" cy="76.3" r="2.45" fill="#4cf2ce"/>
<circle cx="145.9" cy="125.5" r="2.45" fill="#1bd0e3"/>
<circle cx="219.2" cy="103.1" r="2.45" fill="#d7db7e"/>
<circle cx="120.6" cy="54.2" r="2.45" fill="#5b39fd"/>
<circle cx="121.8" cy="145.9" r="2.45" fill="#4757fb"/>
<circle cx="76.1" cy="126.1" r="2.45" fill="#4856fb"/>
<circle cx="227.7" cy="96.3" r="2.45" fill="#ecc86f"/>
<circle cx="220.5" cy="67.9" r="2.45" fill="#f3c16a"/>
<circle cx="229.2" cy="57.4" r="2.45" fill="#d6dc7f"/>
<circle cx="94.5" cy="63.7" r="2.45" fill="#4758fb"/>
<circle cx="214.6" cy="45.0" r="2.45" fill="#e2d277"/>
<circle cx="129.0" cy="65.9" r="2.45" fill="#2d7bf7"/>
<circle cx="131.5" cy="124.5" r="2.45" fill="#0da5ef"/>
<circle cx="97.1" cy="72.2" r="2.45" fill="#435dfb"/>
<circle cx="197.4" cy="103.8" r="2.45" fill="#8dfead"/>
<circle cx="188.9" cy="104.3" r="2.45" fill="#6efdbe"/>
<circle cx="77.9" cy="53.7" r="2.45" fill="#5345fd"/>
<circle cx="189.4" cy="54.2" r="2.45" fill="#80ffb4"/>
<circle cx="114.2" cy="144.4" r="2.45" fill="#5443fd"/>
<circle cx="190.5" cy="51.5" r="2.45" fill="#7cffb6"/>
<circle cx="201.3" cy="55.3" r="2.45" fill="#92fdaa"/>
<circle cx="83.9" cy="46.6" r="2.45" fill="#3c68f9"/>
<circle cx="174.1" cy="106.7" r="2.45" fill="#3dead5"/>
<circle cx="182.7" cy="84.3" r="2.45" fill="#70febd"/>
<circle cx="141.9" cy="108.0" r="2.45" fill="#09bee9"/>
<circle cx="245.8" cy="46.2" r="2.45" fill="#ff8746"/>
<circle cx="233.8" cy="52.9" r="2.45" fill="#ffb461"/>
<circle cx="172.7" cy="102.8" r="2.45" fill="#42edd3"/>
<circle cx="189.6" cy="118.3" r="2.45" fill="#6efdbe"/>
<circle cx="232.8" cy="107.1" r="2.45" fill="#feb662"/>
<circle cx="175.7" cy="137.3" r="2.45" fill="#53f5cb"/>
<circle cx="84.0" cy="117.7" r="2.45" fill="#4757fb"/>
<circle cx="169.7" cy="133.6" r="2.45" fill="#5af8c8"/>
<circle cx="126.8" cy="90.6" r="2.45" fill="#4659fb"/>
<circle cx="175.6" cy="66.9" r="2.45" fill="#58f7c9"/>
<circle cx="202.4" cy="69.2" r="2.45" fill="#6bfdbf"/>
<circle cx="92.4" cy="70.7" r="2.45" fill="#4061fa"/>
<circle cx="115.3" cy="131.5" r="2.45" fill="#5f32fe"/>
<circle cx="100.1" cy="68.3" r="2.45" fill="#4c4ffc"/>
<circle cx="116.4" cy="35.4" r="2.45" fill="#5247fc"/>
<circle cx="85.1" cy="73.2" r="2.45" fill="#4061fa"/>
<circle cx="146.9" cy="36.6" r="2.45" fill="#17cce4"/>
<circle cx="206.4" cy="90.1" r="2.45" fill="#94fda9"/>
<circle cx="170.1" cy="130.6" r="2.45" fill="#38e7d7"/>
<circle cx="72.6" cy="82.6" r="2.45" fill="#4856fb"/>
<circle cx="125.6" cy="129.8" r="2.45" fill="#15cae5"/>
<circle cx="73.7" cy="118.4" r="2.45" fill="#5641fd"/>
<circle cx="129.3" cy="97.3" r="2.45" fill="#09bee9"/>
<circle cx="121.6" cy="34.1" r="2.45" fill="#4e4cfc"/>
<circle cx="141.4" cy="48.0" r="2.45" fill="#1cd0e2"/>
<circle cx="113.8" cy="136.2" r="2.45" fill="#4e4dfc"/>
<circle cx="188.9" cy="87.8" r="2.45" fill="#77ffb9"/>
<circle cx="228.6" cy="84.1" r="2.45" fill="#ffb462"/>
<circle cx="259.2" cy="81.9" r="2.45" fill="#ff713a"/>
<circle cx="180.1" cy="123.4" r="2.45" fill="#74feba"/>
<circle cx="106.3" cy="55.2" r="2.45" fill="#5e34fe"/>
<circle cx="203.4" cy="60.5" r="2.45" fill="#b4f295"/>
<circle cx="106.0" cy="46.3" r="2.45" fill="#4855fb"/>
<circle cx="129.8" cy="135.6" r="2.45" fill="#5640fd"/>
<circle cx="230.6" cy="58.2" r="2.45" fill="#edc76e"/>
<circle cx="113.9" cy="131.4" r="2.45" fill="#5542fd"/>
<circle cx="235.4" cy="40.8" r="2.45" fill="#ff914c"/>
<circle cx="120.0" cy="115.4" r="2.45" fill="#5346fd"/>
<circle cx="110.5" cy="84.0" r="2.45" fill="#5346fd"/>
<circle cx="154.1" cy="97.7" r="2.45" fill="#24d8df"/>
<circle cx="206.1" cy="48.5" r="2.45" fill="#cee284"/>
<circle cx="172.3" cy="79.4" r="2.45" fill="#55f6ca"/>
<circle cx="75.5" cy="113.9" r="2.45" fill="#4e4cfc"/>
<circle cx="147.5" cy="47.9" r="2.45" fill="#14cae5"/>
<circle cx="97.1" cy="137.0" r="2.45" fill="#593bfd"/>
<circle cx="237.7" cy="87.5" r="2.45" fill="#eaca71"/>
<circle cx="97.2" cy="110.8" r="2.45" fill="#425ffa"/>
<circle cx="128.0" cy="75.5" r="2.45" fill="#4e4dfc"/>
<circle cx="238.9" cy="92.2" r="2.45" fill="#edc76e"/>
<circle cx="204.1" cy="70.5" r="2.45" fill="#81ffb3"/>
<circle cx="249.1" cy="87.7" r="2.45" fill="#ff9b52"/>
<circle cx="109.5" cy="106.1" r="2.45" fill="#4658fb"/>
<circle cx="165.6" cy="119.8" r="2.45" fill="#6cfdbf"/>
<circle cx="107.3" cy="109.1" r="2.45" fill="#425efa"/>
<circle cx="255.9" cy="81.9" r="2.45" fill="#ff5129"/>
<circle cx="247.2" cy="84.8" r="2.45" fill="#ff8c49"/>
<circle cx="118.3" cy="129.6" r="2.45" fill="#3e64fa"/>
<circle cx="107.4" cy="64.6" r="2.45" fill="#445bfb"/>
<circle cx="196.0" cy="54.4" r="2.45" fill="#8affaf"/>
<circle cx="95.1" cy="59.0" r="2.45" fill="#435cfb"/>
<circle cx="139.9" cy="129.7" r="2.45" fill="#1cd1e2"/>
<circle cx="191.8" cy="90.3" r="2.45" fill="#68fcc1"/>
<circle cx="77.3" cy="85.7" r="2.45" fill="#4c50fc"/>
<circle cx="105.5" cy="34.9" r="2.45" fill="#4d4dfc"/>
<circle cx="91.7" cy="98.7" r="2.45" fill="#5542fd"/>
<circle cx="229.8" cy="118.4" r="2.45" fill="#ffb260"/>
<circle cx="136.0" cy="116.3" r="2.45" fill="#04b9ea"/>
<circle cx="235.3" cy="45.0" r="2.45" fill="#ff8f4b"/>
<circle cx="110.6" cy="72.5" r="2.45" fill="#4a52fc"/>
<circle cx="200.7" cy="103.4" r="2.45" fill="#b4f295"/>
<circle cx="120.1" cy="129.5" r="2.45" fill="#5346fd"/>
<circle cx="235.7" cy="74.4" r="2.45" fill="#ffb361"/>
<circle cx="94.7" cy="88.7" r="2.45" fill="#5247fc"/>
<circle cx="218.8" cy="99.8" r="2.45" fill="#fcb763"/>
<circle cx="226.5" cy="68.3" r="2.45" fill="#efc56d"/>
<circle cx="187.0" cy="89.9" r="2.45" fill="#72febb"/>
<circle cx="114.7" cy="117.3" r="2.45" fill="#5d36fe"/>
<circle cx="226.8" cy="61.8" r="2.45" fill="#d9da7d"/>
<circle cx="83.6" cy="138.3" r="2.45" fill="#3f62fa"/>
<circle cx="155.6" cy="47.7" r="2.45" fill="#16cbe4"/>
<circle cx="235.0" cy="57.7" r="2.45" fill="#efc66d"/>
<circle cx="189.2" cy="126.4" r="2.45" fill="#62fbc4"/>
<circle cx="200.4" cy="77.3" r="2.45" fill="#b7f093"/>
<circle cx="228.4" cy="119.9" r="2.45" fill="#edc76e"/>
<circle cx="88.9" cy="104.2" r="2.45" fill="#4c50fc"/>
<circle cx="102.6" cy="85.0" r="2.45" fill="#5b39fd"/>
<circle cx="170.9" cy="59.9" r="2.45" fill="#47f0d1"/>
<circle cx="206.8" cy="73.1" r="2.45" fill="#e7cd73"/>
<circle cx="84.9" cy="125.3" r="2.45" fill="#4f4bfc"/>
<circle cx="109.5" cy="57.9" r="2.45" fill="#6529fe"/>
<circle cx="224.9" cy="102.5" r="2.45" fill="#e9cb71"/>
<circle cx="241.7" cy="71.2" r="2.45" fill="#fab965"/>
<circle cx="215.7" cy="112.7" r="2.45" fill="#f2c26b"/>
<circle cx="183.8" cy="134.2" r="2.45" fill="#61fac5"/>
<circle cx="196.3" cy="89.3" r="2.45" fill="#87ffb0"/>
<circle cx="133.2" cy="142.4" r="2.45" fill="#0abfe8"/>
<circle cx="71.1" cy="58.1" r="2.45" fill="#3c67fa"/>
<circle cx="237.3" cy="97.2" r="2.45" fill="#ffaf5e"/>
<circle cx="214.8" cy="46.5" r="2.45" fill="#e2d176"/>
<circle cx="98.0" cy="30.1" r="2.45" fill="#4954fb"/>
<circle cx="201.0" cy="104.6" r="2.45" fill="#e9cb71"/>
<circle cx="201.4" cy="94.5" r="2.45" fill="#74feba"/>
<circle cx="105.2" cy="41.1" r="2.45" fill="#4954fb"/>
<circle cx="221.5" cy="103.7" r="2.45" fill="#f3c16a"/>
<circle cx="197.5" cy="110.4" r="2.45" fill="#b8f092"/>
<circle cx="133.9" cy="75.2" r="2.45" fill="#10a2f0"/>
<circle cx="148.0" cy="88.3" r="2.45" fill="#36e6d8"/>
<circle cx="146.8" cy="108.7" r="2.45" fill="#1bd0e3"/>
<circle cx="239.9" cy="84.1" r="2.45" fill="#ff8f4b"/>
<circle cx="224.6" cy="80.3" r="2.45" fill="#ffa457"/>
<circle cx="151.3" cy="108.7" r="2.45" fill="#28dbde"/>
<circle cx="183.0" cy="54.9" r="2.45" fill="#84ffb2"/>
<circle cx="125.7" cy="73.8" r="2.45" fill="#5346fd"/>
<circle cx="123.7" cy="144.9" r="2.45" fill="#06aeed"/>
<circle cx="126.0" cy="76.3" r="2.45" fill="#0da6ef"/>
<circle cx="114.2" cy="81.6" r="2.45" fill="#4659fb"/>
<circle cx="162.8" cy="48.8" r="2.45" fill="#34e4d9"/>
<circle cx="71.8" cy="80.6" r="2.45" fill="#5e34fe"/>
<circle cx="98.8" cy="131.1" r="2.45" fill="#4659fb"/>
<circle cx="209.4" cy="87.0" r="2.45" fill="#ecc86f"/>
<circle cx="88.0" cy="17.0" r="2.45" fill="#3a69f9"/>
<circle cx="224.1" cy="75.5" r="2.45" fill="#cfe183"/>
<circle cx="175.5" cy="93.5" r="2.45" fill="#6bfdbf"/>
<circle cx="233.7" cy="95.2" r="2.45" fill="#f7bd68"/>
<circle cx="116.1" cy="129.9" r="2.45" fill="#4855fb"/>
<circle cx="99.0" cy="139.4" r="2.45" fill="#4855fb"/>
<circle cx="247.0" cy="47.5" r="2.45" fill="#f8bc67"/>
<circle cx="129.9" cy="66.3" r="2.45" fill="#4658fb"/>
<circle cx="192.1" cy="96.3" r="2.45" fill="#6afdc0"/>
<circle cx="134.4" cy="69.0" r="2.45" fill="#0abfe9"/>
<circle cx="131.0" cy="97.6" r="2.45" fill="#5641fd"/>
<circle cx="224.9" cy="42.2" r="2.45" fill="#feb562"/>
<circle cx="124.6" cy="132.7" r="2.45" fill="#2c7df7"/>
<circle cx="251.6" cy="87.6" r="2.45" fill="#ff6d38"/>
<circle cx="156.9" cy="42.7" r="2.45" fill="#47efd1"/>
<circle cx="213.0" cy="88.4" r="2.45" fill="#dbd87b"/>
<circle cx="173.3" cy="78.1" r="2.45" fill="#4df3ce"/>
<circle cx="208.9" cy="99.2" r="2.45" fill="#cee284"/>
<circle cx="226.0" cy="55.6" r="2.45" fill="#dcd67a"/>
<circle cx="90.6" cy="138.0" r="2.45" fill="#4953fb"/>
<circle cx="157.7" cy="46.6" r="2.45" fill="#52f5cc"/>
<circle cx="173.3" cy="106.4" r="2.45" fill="#7affb7"/>
<circle cx="202.3" cy="58.6" r="2.45" fill="#f6be68"/>
<circle cx="228.9" cy="56.7" r="2.45" fill="#e1d377"/>
<circle cx="211.0" cy="92.0" r="2.45" fill="#d9d97c"/>
<circle cx="101.1" cy="87.1" r="2.45" fill="#386df9"/>
<circle cx="90.5" cy="144.6" r="2.45" fill="#5346fd"/>
<circle cx="223.2" cy="97.4" r="2.45" fill="#ffad5d"/>
<circle cx="216.3" cy="48.0" r="2.45" fill="#d1df82"/>
<circle cx="153.2" cy="135.9" r="2.45" fill="#20d4e1"/>
<circle cx="101.8" cy="42.8" r="2.45" fill="#5246fd"/>
<circle cx="150.5" cy="128.9" r="2.45" fill="#1acfe3"/>
<circle cx="168.4" cy="107.6" r="2.45" fill="#4ef3ce"/>
<circle cx="208.8" cy="77.3" r="2.45" fill="#f4c06a"/>
<circle cx="201.3" cy="87.3" r="2.45" fill="#90feab"/>
<circle cx="168.4" cy="53.3" r="2.45" fill="#3ce9d6"/>
<circle cx="166.4" cy="91.7" r="2.45" fill="#7dffb6"/>
<circle cx="118.9" cy="138.5" r="2.45" fill="#5246fd"/>
<circle cx="125.9" cy="127.2" r="2.45" fill="#3c66fa"/>
<circle cx="161.1" cy="144.3" r="2.45" fill="#3ae8d7"/>
<circle cx="210.4" cy="104.2" r="2.45" fill="#e7cd73"/>
<circle cx="93.6" cy="142.2" r="2.45" fill="#4559fb"/>
<circle cx="160.1" cy="125.7" r="2.45" fill="#31e2da"/>
<circle cx="159.6" cy="113.9" r="2.45" fill="#43edd3"/>
<circle cx="228.9" cy="107.1" r="2.45" fill="#efc66d"/>
<circle cx="190.0" cy="79.3" r="2.45" fill="#80ffb4"/>
<circle cx="155.6" cy="58.8" r="2.45" fill="#29dcdd"/>
<circle cx="159.0" cy="85.7" r="2.45" fill="#15cae5"/>
<circle cx="139.3" cy="61.5" r="2.45" fill="#02b2ec"/>
<circle cx="223.9" cy="68.2" r="2.45" fill="#ff8947"/>
<circle cx="151.1" cy="107.2" r="2.45" fill="#25d8df"/>
<circle cx="134.2" cy="101.3" r="2.45" fill="#01b3ec"/>
<circle cx="101.9" cy="41.0" r="2.45" fill="#228bf4"/>
<circle cx="117.9" cy="47.5" r="2.45" fill="#445cfb"/>
<circle cx="191.2" cy="131.5" r="2.45" fill="#61fbc4"/>
<circle cx="156.9" cy="139.4" r="2.45" fill="#3eebd5"/>
<circle cx="90.8" cy="140.7" r="2.45" fill="#4b51fc"/>
<circle cx="140.3" cy="123.7" r="2.45" fill="#22d6e0"/>
<circle cx="159.3" cy="90.5" r="2.45" fill="#47f0d1"/>
<circle cx="86.7" cy="118.0" r="2.45" fill="#4757fb"/>
<circle cx="110.8" cy="96.2" r="2.45" fill="#593bfd"/>
<circle cx="226.0" cy="121.9" r="2.45" fill="#ecc86f"/>
<circle cx="79.8" cy="120.5" r="2.45" fill="#6130fe"/>
<circle cx="226.5" cy="90.4" r="2.45" fill="#e9cb71"/>
<circle cx="150.8" cy="115.5" r="2.45" fill="#06aeed"/>
<circle cx="114.7" cy="145.6" r="2.45" fill="#5443fd"/>
<circle cx="159.3" cy="97.5" r="2.45" fill="#3dead5"/>
<circle cx="76.7" cy="75.3" r="2.45" fill="#3d66fa"/>
<circle cx="241.5" cy="62.2" r="2.45" fill="#ffab5c"/>
<circle cx="253.6" cy="77.1" r="2.45" fill="#ff8c49"/>
<circle cx="77.0" cy="109.0" r="2.45" fill="#445cfb"/>
<circle cx="223.4" cy="124.8" r="2.45" fill="#ffa95a"/>
<circle cx="105.2" cy="141.9" r="2.45" fill="#5246fd"/>
<circle cx="140.0" cy="98.4" r="2.45" fill="#07bce9"/>
<circle cx="206.6" cy="107.0" r="2.45" fill="#ecc96f"/>
<circle cx="121.2" cy="139.7" r="2.45" fill="#3472f8"/>
<circle cx="173.9" cy="136.4" r="2.45" fill="#5af8c8"/>
<circle cx="251.7" cy="71.9" r="2.45" fill="#ff934d"/>
<circle cx="154.9" cy="138.5" r="2.45" fill="#2fe0db"/>
<circle cx="108.0" cy="146.3" r="2.45" fill="#5444fd"/>
<circle cx="211.6" cy="73.8" r="2.45" fill="#ffa759"/>
<circle cx="81.5" cy="34.8" r="2.45" fill="#4a53fc"/>
<circle cx="135.3" cy="48.0" r="2.45" fill="#05afed"/>
<circle cx="133.2" cy="47.1" r="2.45" fill="#07bce9"/>
<circle cx="227.8" cy="85.6" r="2.45" fill="#ffa256"/>
<circle cx="167.1" cy="94.8" r="2.45" fill="#3eead5"/>
<circle cx="211.8" cy="118.6" r="2.45" fill="#efc66d"/>
<circle cx="262.2" cy="66.9" r="2.45" fill="#ff5129"/>
<circle cx="127.0" cy="97.9" r="2.45" fill="#4061fa"/>
<circle cx="185.4" cy="94.8" r="2.45" fill="#a1faa1"/>
<circle cx="170.6" cy="60.1" r="2.45" fill="#3dead5"/>
<circle cx="138.3" cy="76.2" r="2.45" fill="#0ea4f0"/>
<circle cx="216.1" cy="84.6" r="2.45" fill="#e5cf74"/>
<circle cx="167.2" cy="141.1" r="2.45" fill="#45efd2"/>
<circle cx="158.4" cy="126.5" r="2.45" fill="#32e2da"/>
<circle cx="104.5" cy="133.6" r="2.45" fill="#6130fe"/>
<circle cx="216.3" cy="114.7" r="2.45" fill="#f9bb66"/>
<circle cx="98.1" cy="80.1" r="2.45" fill="#5443fd"/>
<circle cx="91.5" cy="59.2" r="2.45" fill="#6130fe"/>
<circle cx="236.4" cy="63.3" r="2.45" fill="#ffab5c"/>
<circle cx="131.9" cy="76.3" r="2.45" fill="#09bee9"/>
<circle cx="73.7" cy="69.1" r="2.45" fill="#4b52fc"/>
<circle cx="242.9" cy="41.9" r="2.45" fill="#ff9950"/>
<circle cx="192.8" cy="114.7" r="2.45" fill="#93fda9"/>
<circle cx="106.6" cy="30.6" r="2.45" fill="#5148fc"/>
<circle cx="196.6" cy="66.1" r="2.45" fill="#7affb8"/>
<circle cx="202.9" cy="104.3" r="2.45" fill="#b9ef92"/>
<circle cx="145.3" cy="64.3" r="2.45" fill="#0abfe9"/>
<circle cx="153.4" cy="88.1" r="2.45" fill="#15cae5"/>
<circle cx="119.3" cy="128.1" r="2.45" fill="#0ea4f0"/>
<circle cx="90.0" cy="49.9" r="2.45" fill="#4559fb"/>
<circle cx="123.1" cy="134.3" r="2.45" fill="#4c50fc"/>
<circle cx="136.7" cy="130.3" r="2.45" fill="#09bee9"/>
<circle cx="91.0" cy="11.6" r="2.45" fill="#5b38fd"/>
<circle cx="106.0" cy="142.3" r="2.45" fill="#4d4efc"/>
<circle cx="186.0" cy="135.4" r="2.45" fill="#67fcc1"/>
<circle cx="127.1" cy="97.3" r="2.45" fill="#4b50fc"/>
<circle cx="190.6" cy="54.3" r="2.45" fill="#8dfead"/>
<circle cx="137.5" cy="58.8" r="2.45" fill="#12c8e6"/>
<circle cx="245.3" cy="95.2" r="2.45" fill="#ff8445"/>
<circle cx="106.8" cy="137.6" r="2.45" fill="#4e4cfc"/>
<circle cx="200.1" cy="82.2" r="2.45" fill="#80ffb4"/>
<circle cx="173.6" cy="93.8" r="2.45" fill="#4af1cf"/>
<circle cx="125.0" cy="54.4" r="2.45" fill="#04b0ed"/>
<circle cx="96.4" cy="24.8" r="2.45" fill="#4a52fc"/>
<circle cx="151.1" cy="40.8" r="2.45" fill="#46efd1"/>
<circle cx="216.0" cy="63.7" r="2.45" fill="#e1d277"/>
<circle cx="197.3" cy="111.8" r="2.45" fill="#8efeac"/>
<circle cx="233.1" cy="89.8" r="2.45" fill="#ffad5d"/>
<circle cx="153.9" cy="55.6" r="2.45" fill="#37e6d8"/>
<circle cx="133.4" cy="111.9" r="2.45" fill="#05afed"/>
<circle cx="88.1" cy="133.4" r="2.45" fill="#5641fd"/>
<circle cx="170.0" cy="103.0" r="2.45" fill="#43eed2"/>
<circle cx="209.0" cy="55.4" r="2.45" fill="#fcb764"/>
<circle cx="60.7" cy="74.9" r="2.45" fill="#4061fa"/>
<circle cx="114.5" cy="59.1" r="2.45" fill="#3f63fa"/>
<circle cx="102.3" cy="141.0" r="2.45" fill="#5247fc"/>
<circle cx="180.5" cy="100.2" r="2.45" fill="#78ffb9"/>
<circle cx="207.2" cy="128.4" r="2.45" fill="#86ffb1"/>
<circle cx="228.9" cy="61.5" r="2.45" fill="#ffa055"/>
<circle cx="116.0" cy="138.6" r="2.45" fill="#3b68f9"/>
<circle cx="250.9" cy="56.7" r="2.45" fill="#ffa558"/>
<circle cx="131.6" cy="113.3" r="2.45" fill="#03b1ec"/>
<circle cx="92.2" cy="56.8" r="2.45" fill="#3177f8"/>
<circle cx="146.6" cy="123.8" r="2.45" fill="#23d7e0"/>
<circle cx="133.4" cy="84.1" r="2.45" fill="#0da5ef"/>
<circle cx="99.7" cy="39.3" r="2.45" fill="#4758fb"/>
<circle cx="75.3" cy="119.1" r="2.45" fill="#2f79f7"/>
<circle cx="176.5" cy="105.5" r="2.45" fill="#83ffb2"/>
<circle cx="123.4" cy="101.3" r="2.45" fill="#10a2f0"/>
<circle cx="212.2" cy="85.6" r="2.45" fill="#f6be68"/>
<circle cx="85.7" cy="93.8" r="2.45" fill="#3f63fa"/>
<circle cx="153.9" cy="44.0" r="2.45" fill="#32e3da"/>
<circle cx="93.8" cy="137.0" r="2.45" fill="#3d65fa"/>
<circle cx="163.5" cy="92.9" r="2.45" fill="#3be9d6"/>
<circle cx="183.8" cy="85.8" r="2.45" fill="#6cfdbf"/>
<circle cx="144.4" cy="143.7" r="2.45" fill="#4658fb"/>
<circle cx="186.6" cy="86.9" r="2.45" fill="#71febc"/>
<circle cx="86.7" cy="101.8" r="2.45" fill="#3c67fa"/>
<circle cx="166.5" cy="147.6" r="2.45" fill="#4cf2ce"/>
<circle cx="220.5" cy="126.1" r="2.45" fill="#d5dc7f"/>
<circle cx="147.2" cy="40.3" r="2.45" fill="#4d4dfc"/>
<circle cx="163.1" cy="64.5" r="2.45" fill="#49f1d0"/>
<circle cx="95.7" cy="120.3" r="2.45" fill="#5c37fd"/>
<circle cx="97.2" cy="46.6" r="2.45" fill="#4659fb"/>
<circle cx="75.2" cy="45.0" r="2.45" fill="#425efa"/>
<circle cx="94.6" cy="56.2" r="2.45" fill="#445cfb"/>
<circle cx="177.3" cy="67.6" r="2.45" fill="#6cfdbf"/>
<circle cx="125.2" cy="100.4" r="2.45" fill="#1997f2"/>
<circle cx="114.5" cy="119.2" r="2.45" fill="#583dfd"/>
<circle cx="231.6" cy="94.5" r="2.45" fill="#e8cc72"/>
<circle cx="123.9" cy="31.4" r="2.45" fill="#0ca6ef"/>
<circle cx="128.3" cy="58.9" r="2.45" fill="#6628fe"/>
<circle cx="188.3" cy="125.9" r="2.45" fill="#85ffb1"/>
<circle cx="169.4" cy="64.1" r="2.45" fill="#25d8df"/>
<circle cx="100.7" cy="128.8" r="2.45" fill="#5444fd"/>
<circle cx="181.6" cy="73.5" r="2.45" fill="#7bffb7"/>
<circle cx="91.4" cy="94.0" r="2.45" fill="#3e64fa"/>
<circle cx="73.4" cy="102.8" r="2.45" fill="#504afc"/>
<circle cx="208.6" cy="90.6" r="2.45" fill="#d8da7d"/>
<circle cx="234.2" cy="43.2" r="2.45" fill="#ffb260"/>
<circle cx="130.0" cy="135.8" r="2.45" fill="#05aeed"/>
<circle cx="141.2" cy="35.3" r="2.45" fill="#0dc2e8"/>
<circle cx="135.0" cy="54.6" r="2.45" fill="#05baea"/>
<circle cx="115.4" cy="126.2" r="2.45" fill="#3f63fa"/>
<circle cx="132.9" cy="38.1" r="2.45" fill="#445cfb"/>
<circle cx="116.1" cy="71.3" r="2.45" fill="#5e34fe"/>
<circle cx="205.7" cy="52.7" r="2.45" fill="#dcd67a"/>
<circle cx="128.0" cy="48.6" r="2.45" fill="#18cde4"/>
<circle cx="84.3" cy="74.2" r="2.45" fill="#4e4cfc"/>
<circle cx="80.2" cy="84.3" r="2.45" fill="#3e64fa"/>
<circle cx="151.7" cy="108.0" r="2.45" fill="#2cdedc"/>
<circle cx="147.8" cy="35.9" r="2.45" fill="#2fe0db"/>
<circle cx="115.5" cy="112.9" r="2.45" fill="#3374f8"/>
<circle cx="214.9" cy="116.3" r="2.45" fill="#fbb864"/>
<circle cx="214.9" cy="73.5" r="2.45" fill="#ffb361"/>
<circle cx="119.1" cy="145.1" r="2.45" fill="#415ffa"/>
<circle cx="241.7" cy="60.0" r="2.45" fill="#ff964f"/>
<circle cx="251.5" cy="60.1" r="2.45" fill="#ff924d"/>
<circle cx="101.9" cy="78.3" r="2.45" fill="#4a52fc"/>
<circle cx="77.6" cy="110.0" r="2.45" fill="#4d4efc"/>
<circle cx="207.3" cy="119.1" r="2.45" fill="#f1c36b"/>
<circle cx="132.0" cy="62.7" r="2.45" fill="#0ea5ef"/>
<circle cx="175.4" cy="51.3" r="2.45" fill="#59f8c8"/>
<circle cx="185.6" cy="115.9" r="2.45" fill="#9afca5"/>
<circle cx="193.0" cy="96.2" r="2.45" fill="#6ffebd"/>
<circle cx="136.7" cy="143.3" r="2.45" fill="#06bbea"/>
<circle cx="239.1" cy="80.4" r="2.45" fill="#d9d97d"/>
<circle cx="199.7" cy="63.1" r="2.45" fill="#8afeae"/>
<circle cx="134.7" cy="36.1" r="2.45" fill="#01b3ec"/>
<circle cx="117.7" cy="86.1" r="2.45" fill="#4b50fc"/>
<circle cx="140.9" cy="93.9" r="2.45" fill="#08bde9"/>
<circle cx="83.3" cy="77.4" r="2.45" fill="#3473f8"/>
<circle cx="227.1" cy="126.3" r="2.45" fill="#e3d176"/>
<circle cx="145.4" cy="134.2" r="2.45" fill="#31e2da"/>
<circle cx="94.0" cy="139.5" r="2.45" fill="#583dfd"/>
<circle cx="127.6" cy="93.7" r="2.45" fill="#5148fc"/>
<circle cx="213.0" cy="88.2" r="2.45" fill="#b9ef91"/>
<circle cx="78.1" cy="94.9" r="2.45" fill="#4f4bfc"/>
<circle cx="150.5" cy="64.8" r="2.45" fill="#11c7e6"/>
<circle cx="247.9" cy="108.5" r="2.45" fill="#ff944e"/>
<circle cx="199.7" cy="97.7" r="2.45" fill="#e8cc72"/>
<circle cx="139.0" cy="85.2" r="2.45" fill="#01b5eb"/>
<circle cx="122.1" cy="29.8" r="2.45" fill="#445bfb"/>
<circle cx="135.8" cy="129.0" r="2.45" fill="#0fc4e7"/>
<circle cx="141.2" cy="117.8" r="2.45" fill="#3d66fa"/>
<circle cx="99.2" cy="115.2" r="2.45" fill="#3472f8"/>
<circle cx="228.7" cy="102.1" r="2.45" fill="#ffb160"/>
<circle cx="133.6" cy="109.7" r="2.45" fill="#26d9df"/>
<circle cx="101.1" cy="133.7" r="2.45" fill="#4d4efc"/>
<circle cx="114.7" cy="78.7" r="2.45" fill="#4061fa"/>
<circle cx="118.4" cy="109.4" r="2.45" fill="#3d66fa"/>
<circle cx="86.4" cy="91.7" r="2.45" fill="#4c50fc"/>
<circle cx="95.5" cy="30.4" r="2.45" fill="#5443fd"/>
<circle cx="91.5" cy="76.3" r="2.45" fill="#4d4efc"/>
<circle cx="108.3" cy="86.8" r="2.45" fill="#4f4bfc"/>
<circle cx="193.1" cy="70.5" r="2.45" fill="#78ffb8"/>
<circle cx="138.9" cy="41.4" r="2.45" fill="#16cbe4"/>
<circle cx="81.3" cy="133.3" r="2.45" fill="#3b69f9"/>
<circle cx="84.0" cy="64.3" r="2.45" fill="#4856fb"/>
<circle cx="215.3" cy="77.4" r="2.45" fill="#ffaf5e"/>
<circle cx="184.5" cy="104.2" r="2.45" fill="#6ffebd"/>
<circle cx="136.5" cy="92.5" r="2.45" fill="#19cee3"/>
<circle cx="159.0" cy="138.8" r="2.45" fill="#2fe0db"/>
<circle cx="170.4" cy="119.3" r="2.45" fill="#35e5d8"/>
<circle cx="93.7" cy="85.4" r="2.45" fill="#5543fd"/>
<circle cx="241.6" cy="43.4" r="2.45" fill="#eec66e"/>
<circle cx="137.5" cy="96.1" r="2.45" fill="#05b9ea"/>
<circle cx="236.4" cy="108.4" r="2.45" fill="#ffb461"/>
<circle cx="111.4" cy="39.8" r="2.45" fill="#4b51fc"/>
<circle cx="89.4" cy="118.4" r="2.45" fill="#4e4dfc"/>
<circle cx="229.2" cy="34.0" r="2.45" fill="#f8bc66"/>
<circle cx="190.5" cy="53.5" r="2.45" fill="#58f7c9"/>
<circle cx="101.7" cy="79.0" r="2.45" fill="#3571f8"/>
<circle cx="120.4" cy="92.2" r="2.45" fill="#159cf1"/>
<circle cx="129.4" cy="114.4" r="2.45" fill="#16cbe4"/>
<circle cx="113.0" cy="138.0" r="2.45" fill="#5345fd"/>
<circle cx="163.2" cy="78.7" r="2.45" fill="#4cf2ce"/>
<circle cx="119.9" cy="107.5" r="2.45" fill="#3f63fa"/>
<circle cx="105.5" cy="132.1" r="2.45" fill="#386df9"/>
<circle cx="194.8" cy="112.8" r="2.45" fill="#8efeac"/>
<circle cx="225.1" cy="105.2" r="2.45" fill="#f3c16a"/>
<circle cx="100.1" cy="101.0" r="2.45" fill="#4559fb"/>
<circle cx="90.6" cy="47.2" r="2.45" fill="#4757fb"/>
<circle cx="208.0" cy="54.2" r="2.45" fill="#e2d176"/>
<circle cx="114.1" cy="137.7" r="2.45" fill="#2587f5"/>
<circle cx="215.9" cy="72.5" r="2.45" fill="#e4d075"/>
<circle cx="237.6" cy="101.0" r="2.45" fill="#ffa055"/>
<circle cx="202.2" cy="66.6" r="2.45" fill="#baef91"/>
<circle cx="93.5" cy="106.1" r="2.45" fill="#5247fc"/>
<circle cx="248.8" cy="84.5" r="2.45" fill="#f8bc67"/>
<circle cx="92.2" cy="60.0" r="2.45" fill="#4855fb"/>
<circle cx="129.3" cy="99.5" r="2.45" fill="#03b1ec"/>
<circle cx="202.3" cy="95.4" r="2.45" fill="#fcb764"/>
<circle cx="177.4" cy="127.5" r="2.45" fill="#71febc"/>
<circle cx="252.8" cy="56.9" r="2.45" fill="#ff5e30"/>
<circle cx="87.6" cy="23.5" r="2.45" fill="#5e35fe"/>
<circle cx="248.8" cy="45.8" r="2.45" fill="#ff8344"/>
<circle cx="231.1" cy="69.4" r="2.45" fill="#e6ce73"/>
<circle cx="93.3" cy="87.6" r="2.45" fill="#4f4bfc"/>
<circle cx="167.7" cy="110.0" r="2.45" fill="#4bf2cf"/>
<circle cx="249.0" cy="57.1" r="2.45" fill="#ff6e39"/>
<circle cx="239.3" cy="36.7" r="2.45" fill="#ffaf5e"/>
<circle cx="176.6" cy="55.7" r="2.45" fill="#43eed2"/>
<circle cx="214.4" cy="80.2" r="2.45" fill="#ecc86f"/>
<circle cx="155.6" cy="88.8" r="2.45" fill="#07bce9"/>
<circle cx="238.7" cy="93.5" r="2.45" fill="#ff8e4a"/>
<circle cx="87.5" cy="81.8" r="2.45" fill="#4659fb"/>
<circle cx="81.8" cy="135.2" r="2.45" fill="#396cf9"/>
<circle cx="186.7" cy="68.0" r="2.45" fill="#85ffb1"/>
<circle cx="204.3" cy="82.2" r="2.45" fill="#7effb5"/>
<circle cx="133.7" cy="110.3" r="2.45" fill="#02b2ec"/>
<circle cx="79.8" cy="126.0" r="2.45" fill="#4a53fb"/>
<circle cx="156.1" cy="75.3" r="2.45" fill="#2784f6"/>
<circle cx="160.8" cy="115.7" r="2.45" fill="#20d4e1"/>
<circle cx="103.1" cy="58.1" r="2.45" fill="#5a3bfd"/>
<circle cx="175.6" cy="70.8" r="2.45" fill="#7fffb5"/>
<circle cx="188.4" cy="111.8" r="2.45" fill="#7bffb7"/>
<circle cx="79.7" cy="29.3" r="2.45" fill="#4a53fc"/>
<circle cx="223.5" cy="55.4" r="2.45" fill="#eec66e"/>
<circle cx="205.5" cy="57.4" r="2.45" fill="#89ffaf"/>
<circle cx="91.3" cy="117.7" r="2.45" fill="#5c37fd"/>
<circle cx="78.7" cy="98.1" r="2.45" fill="#5542fd"/>
<circle cx="111.5" cy="42.0" r="2.45" fill="#3177f8"/>
<circle cx="144.6" cy="35.7" r="2.45" fill="#10c5e7"/>
<circle cx="198.9" cy="83.5" r="2.45" fill="#96fda7"/>
<circle cx="180.7" cy="64.9" r="2.45" fill="#7fffb5"/>
<circle cx="144.2" cy="101.2" r="2.45" fill="#13c8e6"/>
<circle cx="197.1" cy="115.2" r="2.45" fill="#95fda8"/>
<circle cx="146.7" cy="67.4" r="2.45" fill="#24d7e0"/>
<circle cx="173.5" cy="80.1" r="2.45" fill="#2cdedc"/>
<circle cx="166.5" cy="79.9" r="2.45" fill="#58f7c9"/>
<circle cx="112.1" cy="37.0" r="2.45" fill="#3670f8"/>
<circle cx="203.6" cy="113.6" r="2.45" fill="#d8da7d"/>
<circle cx="135.0" cy="114.8" r="2.45" fill="#5b39fd"/>
<circle cx="187.5" cy="128.5" r="2.45" fill="#90feab"/>
<circle cx="147.0" cy="41.4" r="2.45" fill="#0fc4e7"/>
<circle cx="92.5" cy="130.9" r="2.45" fill="#573ffd"/>
<circle cx="117.6" cy="90.7" r="2.45" fill="#4856fb"/>
<circle cx="125.1" cy="102.4" r="2.45" fill="#0ba8ef"/>
<circle cx="148.4" cy="102.9" r="2.45" fill="#06bbea"/>
<circle cx="182.3" cy="81.2" r="2.45" fill="#53f5cb"/>
<circle cx="89.7" cy="74.7" r="2.45" fill="#445cfb"/>
<circle cx="121.3" cy="106.2" r="2.45" fill="#4a53fc"/>
<circle cx="212.1" cy="70.3" r="2.45" fill="#fbb964"/>
<circle cx="157.1" cy="47.3" r="2.45" fill="#51f5cc"/>
<circle cx="113.6" cy="128.5" r="2.45" fill="#593bfd"/>
<circle cx="118.1" cy="117.9" r="2.45" fill="#4a52fc"/>
<circle cx="143.2" cy="82.3" r="2.45" fill="#01b3ec"/>
<circle cx="149.2" cy="116.2" r="2.45" fill="#2cdedc"/>
<circle cx="166.1" cy="105.8" r="2.45" fill="#44eed2"/>
<circle cx="118.8" cy="47.3" r="2.45" fill="#3f62fa"/>
<circle cx="212.4" cy="48.6" r="2.45" fill="#f9bb66"/>
<circle cx="198.6" cy="108.9" r="2.45" fill="#aaf69c"/>
<circle cx="193.4" cy="111.3" r="2.45" fill="#a1f9a1"/>
<circle cx="190.2" cy="117.6" r="2.45" fill="#76ffba"/>
<circle cx="71.8" cy="64.6" r="2.45" fill="#4061fa"/>
<circle cx="83.1" cy="124.1" r="2.45" fill="#4a52fc"/>
<circle cx="172.5" cy="76.2" r="2.45" fill="#5df9c6"/>
<circle cx="116.9" cy="68.2" r="2.45" fill="#5f32fe"/>
<circle cx="226.2" cy="42.1" r="2.45" fill="#ffb260"/>
<circle cx="128.6" cy="77.4" r="2.45" fill="#03b7eb"/>
<circle cx="198.0" cy="42.2" r="2.45" fill="#8efeac"/>
<circle cx="115.7" cy="142.2" r="2.45" fill="#4b51fc"/>
<circle cx="110.4" cy="111.7" r="2.45" fill="#5443fd"/>
<circle cx="256.3" cy="67.9" r="2.45" fill="#ff6735"/>
<circle cx="177.6" cy="66.9" r="2.45" fill="#54f6cb"/>
<circle cx="96.7" cy="148.1" r="2.45" fill="#435cfb"/>
<circle cx="187.1" cy="113.4" r="2.45" fill="#6cfdbf"/>
<circle cx="237.4" cy="87.9" r="2.45" fill="#ff9a51"/>
<circle cx="87.3" cy="93.0" r="2.45" fill="#5148fc"/>
<circle cx="101.3" cy="147.5" r="2.45" fill="#4c4ffc"/>
<circle cx="127.0" cy="54.0" r="2.45" fill="#4757fb"/>
<circle cx="138.8" cy="55.3" r="2.45" fill="#0ea4f0"/>
<circle cx="93.7" cy="101.9" r="2.45" fill="#5c38fd"/>
<circle cx="151.3" cy="36.9" r="2.45" fill="#16cbe4"/>
<circle cx="222.4" cy="65.2" r="2.45" fill="#ff954e"/>
<circle cx="139.1" cy="119.2" r="2.45" fill="#16cbe4"/>
<circle cx="190.9" cy="66.8" r="2.45" fill="#5cf9c7"/>
<circle cx="224.5" cy="77.2" r="2.45" fill="#efc56d"/>
<circle cx="165.9" cy="141.0" r="2.45" fill="#4ef3cd"/>
<circle cx="185.7" cy="80.4" r="2.45" fill="#77ffb9"/>
<circle cx="70.9" cy="62.3" r="2.45" fill="#445cfb"/>
<circle cx="173.5" cy="68.6" r="2.45" fill="#5ffac5"/>
<circle cx="140.9" cy="52.7" r="2.45" fill="#4856fb"/>
<circle cx="102.9" cy="85.5" r="2.45" fill="#5542fd"/>
<circle cx="142.5" cy="86.6" r="2.45" fill="#0ca7ef"/>
<circle cx="78.8" cy="66.2" r="2.45" fill="#435dfb"/>
<circle cx="144.0" cy="126.0" r="2.45" fill="#13c8e5"/>
<circle cx="220.0" cy="116.7" r="2.45" fill="#d3de80"/>
<circle cx="173.5" cy="116.9" r="2.45" fill="#79ffb8"/>
<circle cx="158.4" cy="132.8" r="2.45" fill="#2cdedc"/>
<circle cx="116.5" cy="94.9" r="2.45" fill="#3d65fa"/>
<circle cx="222.2" cy="124.1" r="2.45" fill="#d6dc7e"/>
<circle cx="145.1" cy="137.1" r="2.45" fill="#0ec3e7"/>
<circle cx="199.2" cy="86.2" r="2.45" fill="#92fdaa"/>
<circle cx="87.0" cy="107.5" r="2.45" fill="#5247fc"/>
<circle cx="147.0" cy="130.1" r="2.45" fill="#0cc1e8"/>
<circle cx="225.7" cy="40.7" r="2.45" fill="#ddd67a"/>
<circle cx="190.2" cy="82.5" r="2.45" fill="#80ffb4"/>
<circle cx="123.1" cy="139.4" r="2.45" fill="#4955fb"/>
<circle cx="104.5" cy="96.3" r="2.45" fill="#4b52fc"/>
<circle cx="206.0" cy="50.7" r="2.45" fill="#d2df81"/>
<circle cx="117.9" cy="126.8" r="2.45" fill="#5a3afd"/>
<circle cx="212.7" cy="70.1" r="2.45" fill="#ddd579"/>
<circle cx="216.4" cy="48.7" r="2.45" fill="#f9bb66"/>
<circle cx="180.0" cy="95.7" r="2.45" fill="#5bf9c7"/>
<circle cx="149.5" cy="38.1" r="2.45" fill="#13c8e5"/>
<circle cx="107.8" cy="56.7" r="2.45" fill="#3473f8"/>
<circle cx="219.8" cy="54.0" r="2.45" fill="#fdb763"/>
<circle cx="148.7" cy="104.0" r="2.45" fill="#1dd1e2"/>
<circle cx="125.4" cy="101.0" r="2.45" fill="#12a0f1"/>
<circle cx="157.0" cy="108.4" r="2.45" fill="#1acfe3"/>
<circle cx="212.6" cy="110.4" r="2.45" fill="#ffaa5b"/>
<circle cx="201.8" cy="101.8" r="2.45" fill="#98fca6"/>
<circle cx="83.8" cy="141.4" r="2.45" fill="#4f4bfc"/>
<circle cx="109.2" cy="70.3" r="2.45" fill="#4a52fc"/>
<circle cx="203.2" cy="112.3" r="2.45" fill="#a3f9a0"/>
<circle cx="165.9" cy="52.5" r="2.45" fill="#55f6ca"/>
<circle cx="169.7" cy="110.5" r="2.45" fill="#63fbc3"/>
<circle cx="229.4" cy="107.2" r="2.45" fill="#ffad5d"/>
<circle cx="168.0" cy="130.8" r="2.45" fill="#62fbc4"/>
<circle cx="157.0" cy="91.9" r="2.45" fill="#18cde4"/>
<circle cx="159.6" cy="60.2" r="2.45" fill="#2ee0db"/>
<circle cx="80.3" cy="80.7" r="2.45" fill="#4f4afc"/>
<circle cx="107.8" cy="32.1" r="2.45" fill="#5542fd"/>
<circle cx="85.6" cy="81.6" r="2.45" fill="#5b39fd"/>
<circle cx="132.4" cy="126.5" r="2.45" fill="#02b6eb"/>
<circle cx="145.6" cy="36.7" r="2.45" fill="#08bde9"/>
<circle cx="151.7" cy="115.9" r="2.45" fill="#07acee"/>
<circle cx="187.9" cy="88.7" r="2.45" fill="#67fcc1"/>
<circle cx="208.0" cy="48.5" r="2.45" fill="#8efeac"/>
<circle cx="249.2" cy="76.0" r="2.45" fill="#ffa759"/>
<circle cx="177.1" cy="55.7" r="2.45" fill="#5efac6"/>
<circle cx="164.8" cy="109.5" r="2.45" fill="#3eebd5"/>
<circle cx="172.1" cy="95.4" r="2.45" fill="#66fcc2"/>
<circle cx="164.1" cy="59.0" r="2.45" fill="#4df3ce"/>
<circle cx="80.4" cy="114.9" r="2.45" fill="#5e34fe"/>
<circle cx="209.5" cy="113.0" r="2.45" fill="#e5cf74"/>
<circle cx="116.9" cy="98.5" r="2.45" fill="#5542fd"/>
<circle cx="167.0" cy="80.9" r="2.45" fill="#6cfdbf"/>
<circle cx="142.4" cy="65.6" r="2.45" fill="#5640fd"/>
<circle cx="127.0" cy="77.7" r="2.45" fill="#5049fc"/>
<circle cx="146.5" cy="81.0" r="2.45" fill="#04b0ed"/>
<circle cx="77.2" cy="70.5" r="2.45" fill="#4a53fc"/>
<circle cx="115.0" cy="50.2" r="2.45" fill="#4c50fc"/>
<circle cx="110.8" cy="85.5" r="2.45" fill="#425efa"/>
<circle cx="252.0" cy="95.7" r="2.45" fill="#ff703a"/>
<circle cx="112.6" cy="81.4" r="2.45" fill="#4659fb"/>
<circle cx="143.3" cy="48.8" r="2.45" fill="#11c6e6"/>
<circle cx="247.2" cy="84.5" r="2.45" fill="#ff733b"/>
<circle cx="200.5" cy="112.9" r="2.45" fill="#7effb5"/>
<circle cx="135.5" cy="36.4" r="2.45" fill="#02b6eb"/>
<circle cx="74.8" cy="130.9" r="2.45" fill="#3d66fa"/>
<circle cx="107.8" cy="118.7" r="2.45" fill="#5345fd"/>
<circle cx="156.0" cy="82.2" r="2.45" fill="#27dade"/>
<circle cx="87.3" cy="80.4" r="2.45" fill="#4e4dfc"/>
<circle cx="151.3" cy="128.3" r="2.45" fill="#3febd5"/>
<circle cx="222.6" cy="73.4" r="2.45" fill="#ffad5d"/>
<circle cx="187.9" cy="55.5" r="2.45" fill="#71febc"/>
<circle cx="250.6" cy="101.6" r="2.45" fill="#ff8947"/>
<circle cx="139.6" cy="85.6" r="2.45" fill="#0abfe9"/>
<circle cx="229.4" cy="63.1" r="2.45" fill="#e2d176"/>
<circle cx="199.7" cy="127.8" r="2.45" fill="#b1f397"/>
<circle cx="130.1" cy="130.4" r="2.45" fill="#4d4efc"/>
<circle cx="96.0" cy="100.4" r="2.45" fill="#455afb"/>
<circle cx="107.6" cy="76.7" r="2.45" fill="#435dfb"/>
<circle cx="90.6" cy="85.1" r="2.45" fill="#5f33fe"/>
<circle cx="164.5" cy="104.8" r="2.45" fill="#55f6ca"/>
<circle cx="147.3" cy="102.4" r="2.45" fill="#2bdddd"/>
<circle cx="77.0" cy="40.1" r="2.45" fill="#4757fb"/>
<circle cx="83.8" cy="87.0" r="2.45" fill="#5345fd"/>
<circle cx="187.7" cy="86.1" r="2.45" fill="#69fdc0"/>
<circle cx="123.1" cy="39.2" r="2.45" fill="#0fa3f0"/>
<circle cx="144.6" cy="49.5" r="2.45" fill="#2adddd"/>
<circle cx="172.1" cy="93.8" r="2.45" fill="#6bfdbf"/>
<circle cx="71.0" cy="112.2" r="2.45" fill="#632cfe"/>
<circle cx="124.9" cy="64.9" r="2.45" fill="#435cfb"/>
<circle cx="130.1" cy="40.5" r="2.45" fill="#0dc3e7"/>
<circle cx="124.0" cy="82.1" r="2.45" fill="#04b0ed"/>
<circle cx="93.2" cy="75.5" r="2.45" fill="#425efb"/>
<circle cx="146.5" cy="50.9" r="2.45" fill="#13c8e5"/>
<circle cx="244.6" cy="97.4" r="2.45" fill="#ff9c52"/>
<circle cx="122.5" cy="35.2" r="2.45" fill="#386cf9"/>
<circle cx="70.4" cy="75.6" r="2.45" fill="#3c67f9"/>
<circle cx="191.6" cy="112.6" r="2.45" fill="#7fffb5"/>
<circle cx="145.9" cy="44.4" r="2.45" fill="#23d6e0"/>
<circle cx="163.7" cy="85.0" r="2.45" fill="#38e7d7"/>
<circle cx="178.1" cy="69.6" r="2.45" fill="#6dfdbf"/>
<circle cx="84.8" cy="95.0" r="2.45" fill="#4f4bfc"/>
<circle cx="191.0" cy="122.3" r="2.45" fill="#96fca7"/>
<circle cx="237.8" cy="100.1" r="2.45" fill="#ffb562"/>
<circle cx="190.5" cy="115.8" r="2.45" fill="#64fbc3"/>
<circle cx="114.1" cy="29.7" r="2.45" fill="#4658fb"/>
<circle cx="176.6" cy="53.1" r="2.45" fill="#60fac5"/>
<circle cx="189.9" cy="129.6" r="2.45" fill="#90feab"/>
<circle cx="72.2" cy="120.3" r="2.45" fill="#4c4ffc"/>
<circle cx="86.2" cy="123.1" r="2.45" fill="#4d4efc"/>
<circle cx="95.0" cy="77.0" r="2.45" fill="#5049fc"/>
<circle cx="188.8" cy="104.2" r="2.45" fill="#57f7c9"/>
<circle cx="99.6" cy="83.3" r="2.45" fill="#5541fd"/>
<circle cx="220.9" cy="93.7" r="2.45" fill="#e5cf74"/>
<circle cx="206.5" cy="94.4" r="2.45" fill="#93fda9"/>
<circle cx="95.1" cy="92.4" r="2.45" fill="#593cfd"/>
<circle cx="230.6" cy="47.8" r="2.45" fill="#ecc86f"/>
<circle cx="218.7" cy="62.0" r="2.45" fill="#fdb763"/>
<circle cx="200.2" cy="98.8" r="2.45" fill="#77ffb9"/>
<circle cx="192.8" cy="106.8" r="2.45" fill="#75feba"/>
<circle cx="120.0" cy="144.1" r="2.45" fill="#386df9"/>
<circle cx="157.3" cy="93.2" r="2.45" fill="#0bc0e8"/>
<circle cx="221.3" cy="39.9" r="2.45" fill="#ddd679"/>
<circle cx="117.8" cy="78.0" r="2.45" fill="#3a6af9"/>
<circle cx="203.3" cy="96.0" r="2.45" fill="#96fca7"/>
<circle cx="175.0" cy="123.6" r="2.45" fill="#61fbc4"/>
<circle cx="139.7" cy="96.3" r="2.45" fill="#20d4e1"/>
<circle cx="90.2" cy="108.6" r="2.45" fill="#455afb"/>
<circle cx="234.8" cy="51.6" r="2.45" fill="#ffa759"/>
<circle cx="131.8" cy="133.6" r="2.45" fill="#04b9ea"/>
<circle cx="169.7" cy="117.6" r="2.45" fill="#41ecd4"/>
<circle cx="175.3" cy="90.3" r="2.45" fill="#3ae8d6"/>
<circle cx="170.4" cy="111.2" r="2.45" fill="#4ef3ce"/>
<circle cx="137.0" cy="74.4" r="2.45" fill="#07bbea"/>
<circle cx="138.2" cy="69.8" r="2.45" fill="#04b9ea"/>
<circle cx="146.7" cy="100.4" r="2.45" fill="#12c8e6"/>
<circle cx="223.3" cy="69.7" r="2.45" fill="#ecc86f"/>
<circle cx="214.9" cy="70.6" r="2.45" fill="#ffa156"/>
<circle cx="119.0" cy="84.6" r="2.45" fill="#583dfd"/>
<circle cx="94.9" cy="37.9" r="2.45" fill="#4e4dfc"/>
<circle cx="187.8" cy="105.2" r="2.45" fill="#8bfeae"/>
<circle cx="93.7" cy="85.1" r="2.45" fill="#435cfb"/>
<circle cx="169.9" cy="88.0" r="2.45" fill="#59f8c8"/>
<circle cx="238.1" cy="117.2" r="2.45" fill="#ff9e54"/>
<circle cx="96.6" cy="65.6" r="2.45" fill="#425efb"/>
<circle cx="186.3" cy="77.1" r="2.45" fill="#98fca6"/>
<circle cx="227.7" cy="37.8" r="2.45" fill="#edc76f"/>
<circle cx="90.7" cy="44.3" r="2.45" fill="#5640fd"/>
<circle cx="146.2" cy="145.1" r="2.45" fill="#24d8df"/>
<circle cx="72.2" cy="93.0" r="2.45" fill="#593bfd"/>
<circle cx="208.3" cy="89.2" r="2.45" fill="#8cfeae"/>
<circle cx="191.3" cy="96.6" r="2.45" fill="#60fac5"/>
<circle cx="106.3" cy="148.2" r="2.45" fill="#593bfd"/>
<circle cx="148.1" cy="123.9" r="2.45" fill="#27dade"/>
<circle cx="213.5" cy="63.2" r="2.45" fill="#cce385"/>
<circle cx="95.8" cy="82.5" r="2.45" fill="#4756fb"/>
<circle cx="118.4" cy="41.0" r="2.45" fill="#504afc"/>
<circle cx="154.2" cy="64.7" r="2.45" fill="#2fe1db"/>
<circle cx="168.6" cy="123.7" r="2.45" fill="#4df3ce"/>
<circle cx="190.8" cy="132.3" r="2.45" fill="#87ffb0"/>
<circle cx="137.3" cy="107.8" r="2.45" fill="#1cd0e2"/>
<circle cx="109.2" cy="68.9" r="2.45" fill="#4756fb"/>
<circle cx="123.4" cy="108.9" r="2.45" fill="#5444fd"/>
<circle cx="76.9" cy="75.3" r="2.45" fill="#5049fc"/>
<circle cx="129.2" cy="134.0" r="2.45" fill="#3e64fa"/>
<circle cx="225.0" cy="45.1" r="2.45" fill="#ff9d53"/>
<circle cx="92.8" cy="60.2" r="2.45" fill="#3f62fa"/>
<circle cx="110.8" cy="99.8" r="2.45" fill="#6f1aff"/>
<circle cx="222.3" cy="37.3" r="2.45" fill="#dfd478"/>
<circle cx="86.5" cy="125.5" r="2.45" fill="#4062fa"/>
<circle cx="165.4" cy="112.5" r="2.45" fill="#38e6d7"/>
<circle cx="221.8" cy="83.4" r="2.45" fill="#fcb864"/>
<circle cx="141.6" cy="44.8" r="2.45" fill="#09bee9"/>
<circle cx="224.4" cy="88.9" r="2.45" fill="#cee184"/>
<circle cx="136.9" cy="84.5" r="2.45" fill="#05baea"/>
<circle cx="134.3" cy="112.8" r="2.45" fill="#05aeed"/>
<circle cx="98.4" cy="109.9" r="2.45" fill="#5247fc"/>
<circle cx="100.9" cy="66.1" r="2.45" fill="#5345fd"/>
<circle cx="81.0" cy="82.1" r="2.45" fill="#4061fa"/>
<circle cx="130.5" cy="82.0" r="2.45" fill="#02b6eb"/>
<circle cx="117.7" cy="121.7" r="2.45" fill="#4659fb"/>
<circle cx="204.1" cy="75.5" r="2.45" fill="#8dfead"/>
<circle cx="114.3" cy="75.1" r="2.45" fill="#366ff9"/>
<circle cx="96.1" cy="130.2" r="2.45" fill="#445cfb"/>
<circle cx="120.7" cy="49.9" r="2.45" fill="#573ffd"/>
<circle cx="200.9" cy="76.6" r="2.45" fill="#dcd77b"/>
<circle cx="250.8" cy="93.7" r="2.45" fill="#ff8344"/>
<circle cx="225.1" cy="60.5" r="2.45" fill="#e4d075"/>
<circle cx="226.3" cy="35.5" r="2.45" fill="#f8bb66"/>
<circle cx="127.6" cy="80.1" r="2.45" fill="#00b5ec"/>
<circle cx="217.0" cy="96.9" r="2.45" fill="#ffaf5e"/>
<circle cx="80.2" cy="49.6" r="2.45" fill="#4757fb"/>
<circle cx="156.9" cy="105.2" r="2.45" fill="#55f6ca"/>
<circle cx="174.3" cy="68.8" r="2.45" fill="#3ae8d6"/>
<circle cx="186.8" cy="110.9" r="2.45" fill="#93fda9"/>
<circle cx="82.6" cy="143.7" r="2.45" fill="#5640fd"/>
<circle cx="83.1" cy="67.6" r="2.45" fill="#455afb"/>
<circle cx="121.8" cy="75.0" r="2.45" fill="#425ffa"/>
<circle cx="166.2" cy="94.9" r="2.45" fill="#33e3da"/>
<circle cx="177.1" cy="88.3" r="2.45" fill="#62fbc4"/>
<circle cx="122.4" cy="102.7" r="2.45" fill="#139ef1"/>
<circle cx="120.5" cy="70.8" r="2.45" fill="#396cf9"/>
<circle cx="190.8" cy="116.8" r="2.45" fill="#6bfdbf"/>
<circle cx="166.0" cy="102.7" r="2.45" fill="#3febd5"/>
<circle cx="235.8" cy="91.9" r="2.45" fill="#ecc86f"/>
<circle cx="146.0" cy="46.5" r="2.45" fill="#0ec3e7"/>
<circle cx="181.3" cy="110.7" r="2.45" fill="#63fbc4"/>
<circle cx="80.9" cy="142.3" r="2.45" fill="#6924fe"/>
<circle cx="119.2" cy="51.7" r="2.45" fill="#425efa"/>
<circle cx="174.3" cy="107.0" r="2.45" fill="#66fcc2"/>
<circle cx="115.2" cy="140.7" r="2.45" fill="#2883f6"/>
<circle cx="105.0" cy="117.4" r="2.45" fill="#5a3afd"/>
<circle cx="218.7" cy="82.3" r="2.45" fill="#f0c46d"/>
<circle cx="255.4" cy="63.7" r="2.45" fill="#ff6433"/>
<circle cx="206.2" cy="63.7" r="2.45" fill="#f1c36c"/>
<circle cx="160.7" cy="71.5" r="2.45" fill="#4bf2cf"/>
<circle cx="231.6" cy="115.1" r="2.45" fill="#efc56d"/>
<circle cx="206.7" cy="55.5" r="2.45" fill="#d7db7e"/>
<circle cx="74.1" cy="52.1" r="2.45" fill="#4856fb"/>
<circle cx="131.6" cy="119.7" r="2.45" fill="#208df4"/>
<circle cx="101.1" cy="99.5" r="2.45" fill="#4d4ffc"/>
<circle cx="177.9" cy="131.3" r="2.45" fill="#38e7d7"/>
<circle cx="118.6" cy="32.6" r="2.45" fill="#5247fc"/>
<circle cx="174.6" cy="84.5" r="2.45" fill="#48f0d0"/>
<circle cx="162.1" cy="87.7" r="2.45" fill="#42edd3"/>
<circle cx="194.2" cy="103.5" r="2.45" fill="#87ffb0"/>
<circle cx="130.4" cy="9.5" r="2.45" fill="#02b6eb"/>
<circle cx="188.0" cy="128.4" r="2.45" fill="#78ffb8"/>
<circle cx="110.6" cy="91.7" r="2.45" fill="#593bfd"/>
<circle cx="198.0" cy="74.7" r="2.45" fill="#77ffb9"/>
<circle cx="132.3" cy="96.8" r="2.45" fill="#0ea5ef"/>
<circle cx="163.8" cy="99.1" r="2.45" fill="#48f0d1"/>
<circle cx="139.1" cy="94.0" r="2.45" fill="#0ec3e7"/>
<circle cx="115.7" cy="81.4" r="2.45" fill="#5346fd"/>
<circle cx="138.1" cy="144.1" r="2.45" fill="#21d5e1"/>
<circle cx="170.4" cy="58.4" r="2.45" fill="#5efac6"/>
<circle cx="209.5" cy="68.6" r="2.45" fill="#dbd77b"/>
<circle cx="116.1" cy="55.1" r="2.45" fill="#455bfb"/>
<circle cx="108.7" cy="132.2" r="2.45" fill="#5640fd"/>
<circle cx="246.9" cy="79.5" r="2.45" fill="#ff934d"/>
<circle cx="167.0" cy="97.3" r="2.45" fill="#51f5cc"/>
<circle cx="175.1" cy="99.2" r="2.45" fill="#46efd1"/>
<circle cx="213.8" cy="48.4" r="2.45" fill="#d6dc7f"/>
<circle cx="118.8" cy="53.7" r="2.45" fill="#3f63fa"/>
<circle cx="112.2" cy="66.4" r="2.45" fill="#5246fd"/>
<circle cx="221.9" cy="75.0" r="2.45" fill="#fcb763"/>
<circle cx="152.8" cy="118.0" r="2.45" fill="#2ddfdc"/>
<circle cx="172.0" cy="143.8" r="2.45" fill="#55f6ca"/>
<circle cx="96.6" cy="84.1" r="2.45" fill="#376ef9"/>
<circle cx="232.2" cy="99.9" r="2.45" fill="#e1d277"/>
<circle cx="120.5" cy="61.7" r="2.45" fill="#4c50fc"/>
<circle cx="90.3" cy="136.1" r="2.45" fill="#455afb"/>
<circle cx="231.3" cy="103.6" r="2.45" fill="#ff9f54"/>
<circle cx="154.7" cy="56.8" r="2.45" fill="#2ee0db"/>
<circle cx="244.5" cy="95.5" r="2.45" fill="#ffa558"/>
<circle cx="101.4" cy="94.7" r="2.45" fill="#5542fd"/>
<circle cx="70.5" cy="74.7" r="2.45" fill="#4c50fc"/>
<circle cx="117.4" cy="93.2" r="2.45" fill="#4d4efc"/>
<circle cx="103.2" cy="27.3" r="2.45" fill="#5246fd"/>
<circle cx="226.1" cy="114.8" r="2.45" fill="#cfe183"/>
<circle cx="116.8" cy="89.6" r="2.45" fill="#4061fa"/>
<circle cx="182.9" cy="111.1" r="2.45" fill="#76ffb9"/>
<circle cx="77.9" cy="84.0" r="2.45" fill="#3d66fa"/>
<circle cx="91.1" cy="127.3" r="2.45" fill="#4856fb"/>
<circle cx="146.2" cy="77.7" r="2.45" fill="#27dade"/>
<circle cx="150.4" cy="127.9" r="2.45" fill="#12c7e6"/>
<circle cx="86.4" cy="73.3" r="2.45" fill="#593bfd"/>
<circle cx="225.3" cy="127.9" r="2.45" fill="#eec76e"/>
<circle cx="235.7" cy="114.3" r="2.45" fill="#ffa759"/>
<circle cx="128.8" cy="31.7" r="2.45" fill="#08abee"/>
<circle cx="164.0" cy="103.1" r="2.45" fill="#4af1d0"/>
<circle cx="126.1" cy="81.5" r="2.45" fill="#0fc5e7"/>
<circle cx="206.7" cy="101.8" r="2.45" fill="#92fdaa"/>
<circle cx="97.2" cy="42.4" r="2.45" fill="#622efe"/>
<circle cx="225.2" cy="68.2" r="2.45" fill="#f7bd67"/>
<circle cx="250.6" cy="91.0" r="2.45" fill="#ff7f42"/>
<circle cx="108.2" cy="67.8" r="2.45" fill="#4856fb"/>
<circle cx="85.5" cy="118.0" r="2.45" fill="#4856fb"/>
<circle cx="123.6" cy="54.7" r="2.45" fill="#4a52fc"/>
<circle cx="249.3" cy="83.4" r="2.45" fill="#ffb461"/>
<circle cx="110.5" cy="148.9" r="2.45" fill="#4b51fc"/>
<circle cx="190.2" cy="101.9" r="2.45" fill="#7dffb5"/>
<circle cx="81.4" cy="86.2" r="2.45" fill="#425efa"/>
<circle cx="110.8" cy="53.0" r="2.45" fill="#435cfb"/>
<circle cx="74.3" cy="120.7" r="2.45" fill="#4e4cfc"/>
<circle cx="94.3" cy="58.4" r="2.45" fill="#5049fc"/>
<circle cx="101.2" cy="55.3" r="2.45" fill="#5246fd"/>
<circle cx="215.0" cy="83.0" r="2.45" fill="#f3c16a"/>
<circle cx="170.5" cy="115.8" r="2.45" fill="#53f6cb"/>
<circle cx="212.9" cy="128.3" r="2.45" fill="#e4d075"/>
<circle cx="157.5" cy="101.1" r="2.45" fill="#455afb"/>
<circle cx="161.9" cy="64.6" r="2.45" fill="#30e1da"/>
<circle cx="238.4" cy="69.2" r="2.45" fill="#f4c069"/>
<circle cx="138.5" cy="46.7" r="2.45" fill="#17cce4"/>
<circle cx="162.6" cy="112.6" r="2.45" fill="#34e4d9"/>
<circle cx="117.9" cy="105.2" r="2.45" fill="#4954fb"/>
<circle cx="193.3" cy="52.7" r="2.45" fill="#66fcc2"/>
<circle cx="211.5" cy="108.0" r="2.45" fill="#d6db7e"/>
<circle cx="218.8" cy="80.4" r="2.45" fill="#ecc86f"/>
<circle cx="121.4" cy="71.3" r="2.45" fill="#4d4efc"/>
<circle cx="136.3" cy="113.7" r="2.45" fill="#03b1ec"/>
<circle cx="103.0" cy="56.8" r="2.45" fill="#4d4ffc"/>
<circle cx="125.2" cy="128.0" r="2.45" fill="#5148fc"/>
<circle cx="72.9" cy="131.2" r="2.45" fill="#4f4bfc"/>
<circle cx="143.1" cy="63.8" r="2.45" fill="#0abfe9"/>
<circle cx="245.6" cy="46.0" r="2.45" fill="#ff6433"/>
<circle cx="134.6" cy="107.7" r="2.45" fill="#07bce9"/>
<circle cx="235.5" cy="68.5" r="2.45" fill="#ffb461"/>
<circle cx="74.3" cy="90.9" r="2.45" fill="#5640fd"/>
<circle cx="81.2" cy="66.3" r="2.45" fill="#415ffa"/>
<circle cx="150.4" cy="136.7" r="2.45" fill="#33e3d9"/>
<circle cx="143.6" cy="36.1" r="2.45" fill="#27dade"/>
<circle cx="85.1" cy="43.1" r="2.45" fill="#445bfb"/>
<circle cx="172.2" cy="105.5" r="2.45" fill="#4ef3ce"/>
<circle cx="116.1" cy="131.4" r="2.45" fill="#504afc"/>
<circle cx="151.0" cy="66.9" r="2.45" fill="#3e65fa"/>
<circle cx="171.6" cy="53.4" r="2.45" fill="#5efac6"/>
<circle cx="247.5" cy="78.3" r="2.45" fill="#ff8f4b"/>
<circle cx="121.0" cy="75.7" r="2.45" fill="#435dfb"/>
<circle cx="217.2" cy="117.9" r="2.45" fill="#f8bc67"/>
<circle cx="249.8" cy="54.2" r="2.45" fill="#ff6835"/>
<circle cx="71.6" cy="89.4" r="2.45" fill="#4953fb"/>
<circle cx="238.2" cy="64.5" r="2.45" fill="#ffa155"/>
<circle cx="173.3" cy="105.4" r="2.45" fill="#54f6cb"/>
<circle cx="175.5" cy="90.8" r="2.45" fill="#6afdc0"/>
<circle cx="256.3" cy="52.5" r="2.45" fill="#ff4c27"/>
<circle cx="90.2" cy="105.3" r="2.45" fill="#3e65fa"/>
<circle cx="132.5" cy="145.0" r="2.45" fill="#129ff1"/>
<circle cx="101.5" cy="72.7" r="2.45" fill="#5049fc"/>
<circle cx="244.8" cy="63.6" r="2.45" fill="#ffa558"/>
<circle cx="97.4" cy="47.1" r="2.45" fill="#5345fd"/>
<circle cx="136.4" cy="58.9" r="2.45" fill="#06aded"/>
<circle cx="134.8" cy="100.9" r="2.45" fill="#0fc4e7"/>
<circle cx="242.4" cy="113.4" r="2.45" fill="#f1c36c"/>
<circle cx="247.7" cy="58.7" r="2.45" fill="#ff743c"/>
<circle cx="149.8" cy="101.3" r="2.45" fill="#18cde4"/>
<circle cx="89.3" cy="94.4" r="2.45" fill="#4061fa"/>
<circle cx="131.1" cy="34.3" r="2.45" fill="#09bee9"/>
<circle cx="122.9" cy="115.6" r="2.45" fill="#0cc1e8"/>
<circle cx="186.3" cy="86.1" r="2.45" fill="#86ffb1"/>
<circle cx="109.4" cy="29.1" r="2.45" fill="#4757fb"/>
<circle cx="136.3" cy="43.1" r="2.45" fill="#1ed2e2"/>
<circle cx="120.9" cy="140.9" r="2.45" fill="#3f62fa"/>
<circle cx="95.1" cy="31.3" r="2.45" fill="#435dfb"/>
<circle cx="191.7" cy="76.0" r="2.45" fill="#99fca5"/>
<circle cx="210.4" cy="125.4" r="2.45" fill="#85ffb1"/>
<circle cx="233.6" cy="111.6" r="2.45" fill="#eec66e"/>
<circle cx="125.6" cy="131.7" r="2.45" fill="#5444fd"/>
<circle cx="168.5" cy="97.4" r="2.45" fill="#59f8c9"/>
<circle cx="184.4" cy="109.2" r="2.45" fill="#6afdc0"/>
<circle cx="119.9" cy="55.5" r="2.45" fill="#4e4dfc"/>
<circle cx="156.4" cy="115.5" r="2.45" fill="#13c8e5"/>
<circle cx="224.4" cy="118.7" r="2.45" fill="#ebc970"/>
<circle cx="144.2" cy="86.4" r="2.45" fill="#1ed3e1"/>
<circle cx="208.3" cy="107.3" r="2.45" fill="#e6ce74"/>
<circle cx="102.8" cy="137.4" r="2.45" fill="#4955fb"/>
<circle cx="198.5" cy="65.3" r="2.45" fill="#84ffb2"/>
<circle cx="179.2" cy="136.6" r="2.45" fill="#5df9c7"/>
<circle cx="238.6" cy="61.2" r="2.45" fill="#fcb763"/>
<circle cx="107.2" cy="50.5" r="2.45" fill="#4c50fc"/>
<circle cx="119.8" cy="49.6" r="2.45" fill="#5640fd"/>
<circle cx="79.6" cy="45.8" r="2.45" fill="#5542fd"/>
<circle cx="169.2" cy="66.0" r="2.45" fill="#61fac5"/>
<circle cx="91.2" cy="142.6" r="2.45" fill="#5b39fd"/>
<circle cx="98.9" cy="125.3" r="2.45" fill="#4f4bfc"/>
<circle cx="71.8" cy="98.6" r="2.45" fill="#3d65fa"/>
<circle cx="181.1" cy="61.3" r="2.45" fill="#7cffb6"/>
<circle cx="220.7" cy="87.5" r="2.45" fill="#fbb965"/>
<circle cx="109.2" cy="43.6" r="2.45" fill="#3d65fa"/>
<circle cx="201.1" cy="103.4" r="2.45" fill="#99fca5"/>
<circle cx="169.6" cy="82.3" r="2.45" fill="#42edd3"/>
<circle cx="135.7" cy="73.4" r="2.45" fill="#0ba8ef"/>
<circle cx="110.4" cy="108.6" r="2.45" fill="#4758fb"/>
<circle cx="177.5" cy="123.3" r="2.45" fill="#53f6cb"/>
<circle cx="215.7" cy="69.6" r="2.45" fill="#f4c069"/>
<circle cx="129.3" cy="129.3" r="2.45" fill="#01b6eb"/>
<circle cx="220.6" cy="62.4" r="2.45" fill="#f2c26b"/>
<circle cx="174.6" cy="60.6" r="2.45" fill="#63fbc3"/>
<circle cx="142.0" cy="54.2" r="2.45" fill="#06bbea"/>
<circle cx="160.1" cy="94.3" r="2.45" fill="#2adcdd"/>
<circle cx="123.2" cy="49.2" r="2.45" fill="#5443fd"/>
<circle cx="158.9" cy="140.7" r="2.45" fill="#30e1db"/>
<circle cx="230.9" cy="34.5" r="2.45" fill="#f0c56d"/>
<circle cx="222.2" cy="85.6" r="2.45" fill="#ebc970"/>
<circle cx="125.0" cy="75.9" r="2.45" fill="#1c92f3"/>
<circle cx="236.3" cy="92.0" r="2.45" fill="#ff8344"/>
<circle cx="198.3" cy="97.6" r="2.45" fill="#e9cb72"/>
<circle cx="115.0" cy="119.3" r="2.45" fill="#612ffe"/>
<circle cx="113.0" cy="24.6" r="2.45" fill="#5b39fd"/>
<circle cx="55.8" cy="68.4" r="2.45" fill="#6c1eff"/>
<circle cx="142.6" cy="74.2" r="2.45" fill="#23d7e0"/>
<circle cx="190.7" cy="132.1" r="2.45" fill="#78ffb8"/>
<circle cx="155.6" cy="103.8" r="2.45" fill="#29dbde"/>
<circle cx="225.9" cy="44.5" r="2.45" fill="#ffb562"/>
<circle cx="111.3" cy="94.2" r="2.45" fill="#4955fb"/>
<circle cx="185.5" cy="104.8" r="2.45" fill="#8efeac"/>
<circle cx="72.2" cy="62.4" r="2.45" fill="#5149fc"/>
<circle cx="126.0" cy="113.1" r="2.45" fill="#09bee9"/>
<circle cx="113.4" cy="134.6" r="2.45" fill="#5345fd"/>
<circle cx="81.3" cy="37.8" r="2.45" fill="#4658fb"/>
<circle cx="139.7" cy="47.2" r="2.45" fill="#1cd1e2"/>
<circle cx="129.3" cy="52.8" r="2.45" fill="#159bf1"/>
<circle cx="228.0" cy="93.2" r="2.45" fill="#f3c16a"/>
<circle cx="188.3" cy="110.9" r="2.45" fill="#82ffb3"/>
<circle cx="110.8" cy="144.6" r="2.45" fill="#4f4bfc"/>
<circle cx="114.6" cy="117.4" r="2.45" fill="#4d4efc"/>
<circle cx="175.8" cy="113.2" r="2.45" fill="#58f7c9"/>
<circle cx="175.4" cy="129.8" r="2.45" fill="#62fbc4"/>
<circle cx="94.8" cy="113.4" r="2.45" fill="#4b51fc"/>
<circle cx="87.6" cy="116.6" r="2.45" fill="#4c4ffc"/>
<circle cx="134.0" cy="33.2" r="2.45" fill="#05afed"/>
<circle cx="122.9" cy="129.0" r="2.45" fill="#4160fa"/>
<circle cx="101.8" cy="145.1" r="2.45" fill="#593cfd"/>
<circle cx="233.0" cy="51.7" r="2.45" fill="#ffb05f"/>
<circle cx="152.8" cy="61.5" r="2.45" fill="#49f1d0"/>
<circle cx="222.0" cy="102.0" r="2.45" fill="#ebca70"/>
<circle cx="187.5" cy="107.4" r="2.45" fill="#6cfdbf"/>
<circle cx="174.6" cy="118.0" r="2.45" fill="#4bf2cf"/>
<circle cx="84.2" cy="105.7" r="2.45" fill="#386df9"/>
<circle cx="97.3" cy="47.6" r="2.45" fill="#4e4dfc"/>
<circle cx="133.5" cy="56.0" r="2.45" fill="#09bee9"/>
<circle cx="78.9" cy="125.6" r="2.45" fill="#4f4bfc"/>
<circle cx="161.5" cy="96.1" r="2.45" fill="#3ae8d6"/>
<circle cx="131.7" cy="123.3" r="2.45" fill="#06baea"/>
<circle cx="245.3" cy="99.4" r="2.45" fill="#ff8847"/>
<circle cx="128.2" cy="44.1" r="2.45" fill="#1799f2"/>
<circle cx="220.7" cy="61.5" r="2.45" fill="#f1c36b"/>
<circle cx="195.3" cy="127.7" r="2.45" fill="#9cfba4"/>
<circle cx="228.1" cy="54.6" r="2.45" fill="#ffab5c"/>
<circle cx="104.5" cy="35.0" r="2.45" fill="#5049fc"/>
<circle cx="146.8" cy="64.5" r="2.45" fill="#3dead5"/>
<circle cx="119.8" cy="78.8" r="2.45" fill="#386df9"/>
<circle cx="202.9" cy="58.4" r="2.45" fill="#b2f397"/>
<circle cx="136.4" cy="47.2" r="2.45" fill="#05b9ea"/>
<circle cx="220.8" cy="81.4" r="2.45" fill="#ff8646"/>
<circle cx="112.4" cy="100.7" r="2.45" fill="#4659fb"/>
<circle cx="107.3" cy="125.7" r="2.45" fill="#5641fd"/>
<circle cx="80.1" cy="118.6" r="2.45" fill="#5049fc"/>
<circle cx="133.5" cy="100.9" r="2.45" fill="#1f8ff4"/>
<circle cx="93.9" cy="109.0" r="2.45" fill="#4659fb"/>
<circle cx="103.5" cy="142.7" r="2.45" fill="#366ff9"/>
<circle cx="148.0" cy="59.9" r="2.45" fill="#35e5d9"/>
<circle cx="92.0" cy="32.7" r="2.45" fill="#5247fd"/>
<circle cx="113.6" cy="35.9" r="2.45" fill="#593cfd"/>
<circle cx="249.5" cy="65.9" r="2.45" fill="#ff5c2f"/>
<circle cx="73.6" cy="94.6" r="2.45" fill="#4659fb"/>
<circle cx="246.5" cy="40.5" r="2.45" fill="#ff9f54"/>
<circle cx="89.0" cy="27.2" r="2.45" fill="#632dfe"/>
<circle cx="121.4" cy="59.1" r="2.45" fill="#5640fd"/>
<circle cx="102.6" cy="42.1" r="2.45" fill="#5049fc"/>
<circle cx="148.8" cy="141.6" r="2.45" fill="#26d9df"/>
<circle cx="113.9" cy="79.6" r="2.45" fill="#455afb"/>
<circle cx="137.4" cy="38.6" r="2.45" fill="#1897f2"/>
<circle cx="187.5" cy="65.1" r="2.45" fill="#72febc"/>
<circle cx="195.8" cy="79.7" r="2.45" fill="#a6f89e"/>
<circle cx="244.1" cy="47.0" r="2.45" fill="#ffa95b"/>
<circle cx="144.7" cy="141.6" r="2.45" fill="#169af2"/>
<circle cx="197.7" cy="72.7" r="2.45" fill="#77ffb9"/>
<circle cx="116.2" cy="135.7" r="2.45" fill="#573ffd"/>
<circle cx="102.5" cy="128.1" r="2.45" fill="#4b50fc"/>
<circle cx="77.6" cy="66.6" r="2.45" fill="#386df9"/>
<circle cx="172.6" cy="109.2" r="2.45" fill="#49f1d0"/>
<circle cx="105.9" cy="82.9" r="2.45" fill="#583dfd"/>
<circle cx="198.0" cy="110.6" r="2.45" fill="#8ffeac"/>
<circle cx="112.9" cy="132.1" r="2.45" fill="#4f4cfc"/>
<circle cx="175.4" cy="118.0" r="2.45" fill="#5ffac6"/>
<circle cx="110.7" cy="119.2" r="2.45" fill="#5a3bfd"/>
<circle cx="153.1" cy="134.4" r="2.45" fill="#22d6e0"/>
<circle cx="78.9" cy="43.6" r="2.45" fill="#5246fd"/>
<circle cx="97.6" cy="82.8" r="2.45" fill="#3f63fa"/>
<circle cx="138.2" cy="44.5" r="2.45" fill="#06aeed"/>
<circle cx="237.0" cy="42.8" r="2.45" fill="#ff9f54"/>
<circle cx="141.1" cy="122.5" r="2.45" fill="#07acee"/>
<circle cx="95.9" cy="103.6" r="2.45" fill="#6924fe"/>
<circle cx="223.0" cy="63.7" r="2.45" fill="#f5bf69"/>
<circle cx="161.7" cy="121.1" r="2.45" fill="#28dbde"/>
<circle cx="241.0" cy="90.6" r="2.45" fill="#ffaa5b"/>
<circle cx="200.0" cy="113.7" r="2.45" fill="#69fcc1"/>
<circle cx="234.1" cy="52.6" r="2.45" fill="#feb562"/>
<circle cx="104.5" cy="115.7" r="2.45" fill="#504afc"/>
<circle cx="157.7" cy="45.5" r="2.45" fill="#46efd1"/>
<circle cx="245.6" cy="65.3" r="2.45" fill="#ff9950"/>
<circle cx="95.6" cy="103.2" r="2.45" fill="#3c67f9"/>
<circle cx="230.1" cy="76.5" r="2.45" fill="#edc76e"/>
<circle cx="98.9" cy="25.5" r="2.45" fill="#4d4efc"/>
<circle cx="204.9" cy="122.3" r="2.45" fill="#a9f79c"/>
<circle cx="153.8" cy="106.3" r="2.45" fill="#3febd4"/>
<circle cx="135.5" cy="77.7" r="2.45" fill="#12c7e6"/>
<circle cx="108.9" cy="90.2" r="2.45" fill="#583efd"/>
<circle cx="129.0" cy="33.4" r="2.45" fill="#1c93f3"/>
<circle cx="217.3" cy="95.6" r="2.45" fill="#e8cc72"/>
<circle cx="135.6" cy="60.2" r="2.45" fill="#10c5e6"/>
<circle cx="175.8" cy="89.3" r="2.45" fill="#5cf9c7"/>
<circle cx="226.1" cy="93.7" r="2.45" fill="#ffaf5e"/>
<circle cx="234.8" cy="86.5" r="2.45" fill="#fbb964"/>
<circle cx="78.4" cy="58.9" r="2.45" fill="#5640fd"/>
<circle cx="86.0" cy="40.2" r="2.45" fill="#4e4dfc"/>
<circle cx="227.7" cy="45.7" r="2.45" fill="#faba65"/>
<circle cx="226.5" cy="86.2" r="2.45" fill="#f2c26b"/>
<circle cx="140.1" cy="131.3" r="2.45" fill="#0bc0e8"/>
<circle cx="145.6" cy="135.0" r="2.45" fill="#17cce4"/>
<circle cx="156.5" cy="103.3" r="2.45" fill="#25d8df"/>
<circle cx="130.0" cy="94.5" r="2.45" fill="#06aded"/>
<circle cx="82.6" cy="131.4" r="2.45" fill="#4b51fc"/>
<circle cx="224.8" cy="61.3" r="2.45" fill="#ff9e53"/>
<circle cx="113.0" cy="108.1" r="2.45" fill="#4d4efc"/>
<circle cx="219.1" cy="63.8" r="2.45" fill="#f1c36b"/>
<circle cx="168.3" cy="138.6" r="2.45" fill="#45eed2"/>
<circle cx="142.3" cy="34.3" r="2.45" fill="#04b9ea"/>
<circle cx="152.8" cy="85.9" r="2.45" fill="#0bc0e8"/>
<circle cx="149.4" cy="46.0" r="2.45" fill="#445bfb"/>
<circle cx="223.5" cy="62.2" r="2.45" fill="#e2d176"/>
<circle cx="99.6" cy="134.6" r="2.45" fill="#445cfb"/>
<circle cx="250.7" cy="57.7" r="2.45" fill="#ff914c"/>
<circle cx="90.1" cy="20.3" r="2.45" fill="#4e4cfc"/>
<circle cx="91.3" cy="78.6" r="2.45" fill="#3d66fa"/>
<circle cx="172.0" cy="82.7" r="2.45" fill="#65fcc3"/>
<circle cx="226.9" cy="52.9" r="2.45" fill="#ffa055"/>
<circle cx="91.3" cy="115.2" r="2.45" fill="#4a52fc"/>
<circle cx="129.6" cy="91.3" r="2.45" fill="#04b9ea"/>
<circle cx="160.4" cy="83.2" r="2.45" fill="#2adddd"/>
<circle cx="246.8" cy="64.7" r="2.45" fill="#ff8a48"/>
<circle cx="215.7" cy="77.3" r="2.45" fill="#fdb663"/>
<circle cx="254.4" cy="79.4" r="2.45" fill="#ff6a36"/>
<circle cx="218.5" cy="71.3" r="2.45" fill="#e1d377"/>
<circle cx="96.8" cy="123.0" r="2.45" fill="#5c37fd"/>
<circle cx="105.0" cy="27.4" r="2.45" fill="#4f4bfc"/>
<circle cx="84.5" cy="50.5" r="2.45" fill="#4a53fc"/>
<circle cx="150.0" cy="145.1" r="2.45" fill="#14c9e5"/>
<circle cx="72.0" cy="98.8" r="2.45" fill="#4d4dfc"/>
<circle cx="180.4" cy="103.3" r="2.45" fill="#65fcc2"/>
<circle cx="115.9" cy="27.5" r="2.45" fill="#5a3bfd"/>
<circle cx="79.1" cy="77.7" r="2.45" fill="#583efd"/>
<circle cx="75.7" cy="63.4" r="2.45" fill="#5b39fd"/>
<circle cx="129.2" cy="75.6" r="2.45" fill="#4855fb"/>
<circle cx="172.8" cy="111.7" r="2.45" fill="#5df9c6"/>
<circle cx="204.7" cy="73.7" r="2.45" fill="#72febc"/>
<circle cx="196.2" cy="91.9" r="2.45" fill="#7cffb6"/>
<circle cx="116.4" cy="123.1" r="2.45" fill="#7019ff"/>
<circle cx="215.8" cy="62.3" r="2.45" fill="#e9cb71"/>
<circle cx="111.5" cy="113.3" r="2.45" fill="#4d4efc"/>
<circle cx="149.1" cy="131.9" r="2.45" fill="#11c6e6"/>
<circle cx="86.9" cy="97.3" r="2.45" fill="#4d4efc"/>
<circle cx="172.5" cy="87.7" r="2.45" fill="#2fe0db"/>
<circle cx="78.0" cy="132.8" r="2.45" fill="#5542fd"/>
<circle cx="221.8" cy="125.8" r="2.45" fill="#e1d277"/>
<circle cx="75.1" cy="125.7" r="2.45" fill="#3c67f9"/>
<circle cx="130.8" cy="133.4" r="2.45" fill="#4855fb"/>
<circle cx="109.7" cy="149.1" r="2.45" fill="#4954fb"/>
<circle cx="209.3" cy="72.6" r="2.45" fill="#9ffaa2"/>
<circle cx="113.1" cy="32.8" r="2.45" fill="#593cfd"/>
<circle cx="193.4" cy="68.2" r="2.45" fill="#84ffb2"/>
<circle cx="182.0" cy="93.9" r="2.45" fill="#54f6cb"/>
<circle cx="77.5" cy="105.4" r="2.45" fill="#455afb"/>
<circle cx="210.2" cy="79.2" r="2.45" fill="#cce385"/>
<circle cx="105.3" cy="42.8" r="2.45" fill="#3374f8"/>
<circle cx="156.8" cy="84.3" r="2.45" fill="#3a6af9"/>
<circle cx="111.2" cy="59.9" r="2.45" fill="#5443fd"/>
<circle cx="149.6" cy="97.4" r="2.45" fill="#20d4e1"/>
<circle cx="71.5" cy="91.2" r="2.45" fill="#5641fd"/>
<circle cx="82.7" cy="98.3" r="2.45" fill="#5542fd"/>
<circle cx="102.5" cy="129.8" r="2.45" fill="#5049fc"/>
<circle cx="139.7" cy="61.9" r="2.45" fill="#04b9ea"/>
<circle cx="188.5" cy="120.9" r="2.45" fill="#7affb7"/>
<circle cx="256.1" cy="49.6" r="2.45" fill="#ff7d41"/>
<circle cx="173.7" cy="116.4" r="2.45" fill="#50f4cd"/>
<circle cx="135.7" cy="53.5" r="2.45" fill="#0ca6ef"/>
<circle cx="179.4" cy="61.0" r="2.45" fill="#73febb"/>
<circle cx="137.7" cy="135.2" r="2.45" fill="#13c9e5"/>
<circle cx="114.9" cy="32.3" r="2.45" fill="#4a52fc"/>
<circle cx="172.3" cy="93.3" r="2.45" fill="#56f7ca"/>
<circle cx="237.4" cy="115.3" r="2.45" fill="#ffae5e"/>
<circle cx="134.2" cy="94.6" r="2.45" fill="#06bbea"/>
<circle cx="243.0" cy="85.2" r="2.45" fill="#ffa558"/>
<circle cx="227.8" cy="44.3" r="2.45" fill="#ffab5c"/>
<circle cx="110.5" cy="71.0" r="2.45" fill="#4f4afc"/>
<circle cx="165.1" cy="95.9" r="2.45" fill="#2adcdd"/>
<circle cx="138.7" cy="109.1" r="2.45" fill="#03b8eb"/>
<circle cx="212.7" cy="74.0" r="2.45" fill="#ded579"/>
<circle cx="236.1" cy="39.9" r="2.45" fill="#ff9c53"/>
<circle cx="95.5" cy="88.4" r="2.45" fill="#4061fa"/>
<circle cx="242.3" cy="88.6" r="2.45" fill="#faba65"/>
<circle cx="119.4" cy="41.9" r="2.45" fill="#573efd"/>
<circle cx="93.1" cy="36.7" r="2.45" fill="#4e4cfc"/>
<circle cx="231.5" cy="85.4" r="2.45" fill="#ffb05f"/>
<circle cx="98.8" cy="131.3" r="2.45" fill="#583efd"/>
<circle cx="98.3" cy="125.0" r="2.45" fill="#5a3bfd"/>
<circle cx="123.5" cy="32.3" r="2.45" fill="#2586f5"/>
<circle cx="223.9" cy="113.8" r="2.45" fill="#fbb965"/>
<circle cx="197.2" cy="61.8" r="2.45" fill="#65fcc2"/>
<circle cx="136.0" cy="75.8" r="2.45" fill="#4a52fc"/>
<circle cx="223.0" cy="72.2" r="2.45" fill="#ffb160"/>
<circle cx="143.7" cy="67.3" r="2.45" fill="#11c6e6"/>
<circle cx="126.8" cy="66.1" r="2.45" fill="#0cc1e8"/>
<circle cx="196.7" cy="94.1" r="2.45" fill="#92fda9"/>
<circle cx="121.4" cy="38.0" r="2.45" fill="#445cfb"/>
<circle cx="90.1" cy="100.1" r="2.45" fill="#3276f8"/>
<circle cx="184.6" cy="56.4" r="2.45" fill="#85ffb1"/>
<circle cx="200.8" cy="118.3" r="2.45" fill="#81ffb3"/>
<circle cx="131.6" cy="94.7" r="2.45" fill="#5247fc"/>
<circle cx="130.7" cy="127.5" r="2.45" fill="#3e64fa"/>
<circle cx="247.9" cy="71.5" r="2.45" fill="#ff974f"/>
<circle cx="201.0" cy="108.3" r="2.45" fill="#96fda7"/>
<circle cx="225.1" cy="40.4" r="2.45" fill="#e7cd73"/>
<circle cx="86.5" cy="90.8" r="2.45" fill="#3c66fa"/>
<circle cx="195.2" cy="55.5" r="2.45" fill="#7effb5"/>
<circle cx="174.7" cy="96.4" r="2.45" fill="#5bf8c8"/>
<circle cx="141.2" cy="46.2" r="2.45" fill="#06aeed"/>
<circle cx="137.9" cy="121.0" r="2.45" fill="#208df4"/>
<circle cx="199.1" cy="113.9" r="2.45" fill="#90feab"/>
<circle cx="161.8" cy="91.0" r="2.45" fill="#43edd3"/>
<circle cx="114.7" cy="28.0" r="2.45" fill="#5d36fe"/>
<circle cx="208.7" cy="61.2" r="2.45" fill="#e2d176"/>
<circle cx="115.7" cy="77.6" r="2.45" fill="#4f4bfc"/>
<circle cx="186.5" cy="56.0" r="2.45" fill="#87ffb0"/>
<circle cx="103.6" cy="38.7" r="2.45" fill="#573efd"/>
<circle cx="76.1" cy="51.7" r="2.45" fill="#4658fb"/>
<circle cx="81.2" cy="78.2" r="2.45" fill="#435dfb"/>
<circle cx="226.3" cy="101.3" r="2.45" fill="#f4c069"/>
<circle cx="190.8" cy="127.8" r="2.45" fill="#9dfba3"/>
<circle cx="87.0" cy="114.7" r="2.45" fill="#3374f8"/>
<circle cx="138.9" cy="36.4" r="2.45" fill="#05baea"/>
<circle cx="86.0" cy="111.5" r="2.45" fill="#3670f8"/>
<circle cx="199.0" cy="71.5" r="2.45" fill="#a4f99f"/>
<circle cx="128.3" cy="80.8" r="2.45" fill="#05aeed"/>
<circle cx="104.5" cy="105.7" r="2.45" fill="#4954fb"/>
<circle cx="168.4" cy="136.8" r="2.45" fill="#3febd4"/>
<circle cx="234.0" cy="59.3" r="2.45" fill="#f0c56d"/>
<circle cx="95.9" cy="52.9" r="2.45" fill="#3572f8"/>
<circle cx="124.2" cy="74.1" r="2.45" fill="#445bfb"/>
<circle cx="126.6" cy="106.5" r="2.45" fill="#0aa9ee"/>
<circle cx="246.8" cy="51.4" r="2.45" fill="#ff7e41"/>
<circle cx="121.8" cy="37.4" r="2.45" fill="#5246fd"/>
<circle cx="222.8" cy="102.9" r="2.45" fill="#efc56d"/>
<circle cx="166.1" cy="141.2" r="2.45" fill="#56f7ca"/>
<circle cx="91.2" cy="72.4" r="2.45" fill="#425efa"/>
<circle cx="207.0" cy="99.9" r="2.45" fill="#94fda8"/>
<circle cx="184.3" cy="99.7" r="2.45" fill="#5af8c8"/>
<circle cx="131.8" cy="67.1" r="2.45" fill="#0ea4f0"/>
<circle cx="90.8" cy="145.7" r="2.45" fill="#4658fb"/>
<circle cx="214.9" cy="109.0" r="2.45" fill="#cae486"/>
<circle cx="126.5" cy="133.7" r="2.45" fill="#218cf4"/>
<circle cx="92.9" cy="131.8" r="2.45" fill="#455afb"/>
<circle cx="109.1" cy="81.3" r="2.45" fill="#5148fc"/>
<circle cx="130.0" cy="126.5" r="2.45" fill="#129ff1"/>
<circle cx="175.8" cy="104.0" r="2.45" fill="#52f5cc"/>
<circle cx="186.9" cy="79.1" r="2.45" fill="#9bfba5"/>
<circle cx="104.3" cy="143.6" r="2.45" fill="#632dfe"/>
<circle cx="225.5" cy="79.2" r="2.45" fill="#e2d277"/>
<circle cx="220.3" cy="101.9" r="2.45" fill="#f3c16a"/>
<circle cx="153.0" cy="130.2" r="2.45" fill="#29dcdd"/>
<circle cx="82.8" cy="46.0" r="2.45" fill="#5e34fe"/>
<circle cx="237.0" cy="64.2" r="2.45" fill="#f5bf69"/>
<circle cx="147.4" cy="86.0" r="2.45" fill="#27dade"/>
<circle cx="107.4" cy="102.3" r="2.45" fill="#5443fd"/>
<circle cx="251.1" cy="99.5" r="2.45" fill="#ffb260"/>
<circle cx="121.0" cy="36.3" r="2.45" fill="#5443fd"/>
<circle cx="156.4" cy="43.0" r="2.45" fill="#5148fc"/>
<circle cx="90.2" cy="35.1" r="2.45" fill="#4954fb"/>
<circle cx="243.5" cy="95.8" r="2.45" fill="#ffb361"/>
<circle cx="124.3" cy="74.3" r="2.45" fill="#3f62fa"/>
<circle cx="88.3" cy="65.3" r="2.45" fill="#4954fb"/>
<circle cx="210.9" cy="65.5" r="2.45" fill="#f4c06a"/>
<circle cx="252.1" cy="74.3" r="2.45" fill="#ff8a48"/>
<circle cx="102.6" cy="148.2" r="2.45" fill="#3d66fa"/>
<circle cx="220.7" cy="74.8" r="2.45" fill="#ffac5c"/>
<circle cx="99.8" cy="126.7" r="2.45" fill="#4d4efc"/>
<circle cx="86.3" cy="116.4" r="2.45" fill="#573ffd"/>
<circle cx="153.3" cy="123.4" r="2.45" fill="#12c7e6"/>
<circle cx="83.0" cy="101.0" r="2.45" fill="#4954fb"/>
<circle cx="122.9" cy="43.7" r="2.45" fill="#4d4efc"/>
<circle cx="106.4" cy="43.6" r="2.45" fill="#4c50fc"/>
<circle cx="213.6" cy="128.7" r="2.45" fill="#efc56d"/>
<circle cx="169.7" cy="137.0" r="2.45" fill="#4af1d0"/>
<circle cx="118.8" cy="97.3" r="2.45" fill="#5a3afd"/>
<circle cx="94.5" cy="46.3" r="2.45" fill="#4757fb"/>
<circle cx="171.9" cy="134.1" r="2.45" fill="#59f8c8"/>
<circle cx="113.7" cy="31.5" r="2.45" fill="#3c67fa"/>
<circle cx="79.7" cy="43.7" r="2.45" fill="#3473f8"/>
</g>
<path d="M113.0,88.6 L114.5,92.6 L118.7,92.7 L115.4,95.4 L116.5,99.5 L113.0,97.1 L109.5,99.5 L110.6,95.4 L107.3,92.7 L111.5,92.6Z" fill="#000" stroke="#fff" stroke-width="0.7"/>
<defs><linearGradient id="rb" x1="0" y1="1" x2="0" y2="0">
<stop offset="0.00" stop-color="#8000ff"/>
<stop offset="0.05" stop-color="#6628fe"/>
<stop offset="0.10" stop-color="#4d4ffc"/>
<stop offset="0.15" stop-color="#3374f8"/>
<stop offset="0.20" stop-color="#1996f3"/>
<stop offset="0.25" stop-color="#00b4ec"/>
<stop offset="0.30" stop-color="#19cee3"/>
<stop offset="0.35" stop-color="#33e3d9"/>
<stop offset="0.40" stop-color="#4df3ce"/>
<stop offset="0.45" stop-color="#66fcc2"/>
<stop offset="0.50" stop-color="#80ffb4"/>
<stop offset="0.55" stop-color="#99fca6"/>
<stop offset="0.60" stop-color="#b3f396"/>
<stop offset="0.65" stop-color="#cce385"/>
<stop offset="0.70" stop-color="#e5ce74"/>
<stop offset="0.75" stop-color="#ffb462"/>
<stop offset="0.80" stop-color="#ff964f"/>
<stop offset="0.85" stop-color="#ff743c"/>
<stop offset="0.90" stop-color="#ff4f28"/>
<stop offset="0.95" stop-color="#ff2814"/>
<stop offset="1.00" stop-color="#ff0000"/>
</linearGradient></defs>
<rect x="271.4" y="3.6" width="7" height="149" fill="url(#rb)" stroke="#222" stroke-width="0.9"/>
<line x1="278.4" y1="18.3" x2="281.8" y2="18.3" stroke="#222" stroke-width="0.9"/>
<text x="284.6" y="22.4" font-size="11.3" fill="#111">15</text>
<line x1="278.4" y1="77.2" x2="281.8" y2="77.2" stroke="#222" stroke-width="0.9"/>
<text x="284.6" y="81.3" font-size="11.3" fill="#111">10</text>
<line x1="278.4" y1="136.8" x2="281.8" y2="136.8" stroke="#222" stroke-width="0.9"/>
<text x="284.6" y="140.9" font-size="11.3" fill="#111">5</text>
<text x="304.6" y="7.3" font-size="11.3" fill="#111" textLength="141.5" lengthAdjust="spacingAndGlyphs" transform="rotate(90 304.6 7.3)">Ser14-Gly78 distance (Å)</text>
<text x="157.0" y="166.9" font-size="11.3" fill="#111" text-anchor="middle" textLength="50.7" lengthAdjust="spacingAndGlyphs">PC axis 1</text>
<text x="40.2" y="79.3" font-size="11.3" fill="#111" text-anchor="middle" textLength="50.3" lengthAdjust="spacingAndGlyphs" transform="rotate(-90 40.2 79.3)">PC axis 2</text>
<line x1="82" y1="171.8" x2="233" y2="171.8" stroke="#bb1e1e" stroke-width="1.9"/>
<path d="M239,171.8 L231.5,168.9 L231.5,174.7 Z" fill="#bb1e1e"/>
<line x1="27.2" y1="32" x2="27.2" y2="134" stroke="#bb1e1e" stroke-width="1.9"/>
<path d="M27.2,27.2 L24.4,33.5 L30,33.5 Z M27.2,138.3 L24.4,132 L30,132 Z" fill="#bb1e1e"/>
<text x="160.0" y="184.7" font-size="12" fill="#bb1e1e" text-anchor="middle" textLength="73.3" lengthAdjust="spacingAndGlyphs">β<tspan font-size="8.5">1</tspan>-β<tspan font-size="8.5">2</tspan> opening</text>
<text x="23.2" y="81.0" font-size="12" fill="#bb1e1e" text-anchor="middle" textLength="67" lengthAdjust="spacingAndGlyphs" transform="rotate(-90 23.2 81.0)">β<tspan font-size="8.5">2</tspan>-β<tspan font-size="8.5">3</tspan> motion</text>
<text x="-1.0" y="177.6" font-size="18.5" fill="#000" font-weight="bold">b</text>
<line x1="42.4" y1="328.6" x2="288.9" y2="328.6" stroke="#d0d0d0" stroke-width="0.8" stroke-dasharray="3,1.6"/>
<line x1="42.4" y1="268.9" x2="288.9" y2="268.9" stroke="#d0d0d0" stroke-width="0.8" stroke-dasharray="3,1.6"/>
<line x1="42.4" y1="209.1" x2="288.9" y2="209.1" stroke="#d0d0d0" stroke-width="0.8" stroke-dasharray="3,1.6"/>
<line x1="85.8" y1="191.2" x2="85.8" y2="335" stroke="#d0d0d0" stroke-width="0.8" stroke-dasharray="3,1.6"/>
<line x1="166.2" y1="191.2" x2="166.2" y2="335" stroke="#d0d0d0" stroke-width="0.8" stroke-dasharray="3,1.6"/>
<line x1="246.6" y1="191.2" x2="246.6" y2="335" stroke="#d0d0d0" stroke-width="0.8" stroke-dasharray="3,1.6"/>
<path d="M53.6,328.1 L55.2,328.1 L56.9,328.1 L58.5,328.1 L60.1,328.1 L61.7,328.1 L63.3,328.1 L64.9,328.1 L66.5,328.1 L68.1,328.0 L69.7,327.7 L71.3,326.9 L72.9,325.0 L74.5,320.7 L76.2,312.6 L77.8,298.9 L79.4,278.8 L81.0,253.7 L82.6,227.7 L84.2,206.8 L85.8,196.9 L87.4,199.9 L89.0,212.1 L90.6,231.0 L92.2,252.8 L93.8,274.1 L95.4,292.2 L97.1,306.0 L98.7,315.6 L100.3,321.5 L101.9,324.9 L103.5,326.7 L105.1,327.5 L106.7,327.9 L108.3,328.0 L109.9,328.1 L111.5,328.1 L113.1,328.1 L114.7,328.1 L116.4,328.1 L118.0,328.1 L119.6,328.1 L121.2,328.1 L122.8,328.1 L124.4,328.1 L126.0,328.1 L127.6,328.1 L129.2,328.1 L130.8,328.1 L132.4,328.1 L134.0,328.1 L135.6,328.1 L137.3,328.1 L138.9,328.1 L140.5,328.1 L142.1,328.1 L143.7,328.1 L145.3,328.1 L146.9,328.1 L148.5,328.1 L150.1,328.1 L151.7,328.1 L153.3,328.1 L154.9,328.1 L156.6,328.1 L158.2,328.1 L159.8,328.1 L161.4,328.1 L163.0,328.1 L164.6,328.1 L166.2,328.1 L167.8,328.1 L169.4,328.1 L171.0,328.1 L172.6,328.1 L174.2,328.1 L175.8,328.1 L177.5,328.1 L179.1,328.1 L180.7,328.1 L182.3,328.1 L183.9,328.1 L185.5,328.1 L187.1,328.1 L188.7,328.1 L190.3,328.1 L191.9,328.1 L193.5,328.1 L195.1,328.1 L196.8,328.1 L198.4,328.1 L200.0,328.1 L201.6,328.1 L203.2,328.1 L204.8,328.1 L206.4,328.1 L208.0,328.1 L209.6,328.1 L211.2,328.1 L212.8,328.1 L214.4,328.1 L216.0,328.1 L217.7,328.1 L219.3,328.1 L220.9,328.1 L222.5,328.1 L224.1,328.1 L225.7,328.1 L227.3,328.1 L228.9,328.1 L230.5,328.1 L232.1,328.1 L233.7,328.1 L235.3,328.1 L237.0,328.1 L238.6,328.1 L240.2,328.1 L241.8,328.1 L243.4,328.1 L245.0,328.1 L246.6,328.1 L248.2,328.1 L249.8,328.1 L251.4,328.1 L253.0,328.1 L254.6,328.1 L256.2,328.1 L257.9,328.1 L259.5,328.1 L261.1,328.1 L262.7,328.1 L264.3,328.1 L265.9,328.1 L267.5,328.1 L269.1,328.1 L270.7,328.1 L272.3,328.1 L273.9,328.1 L275.5,328.1 L277.2,328.1 L278.8,328.1 L278.8,328.6 L53.6,328.6Z" fill="#4b4bff" fill-opacity="0.55"/>
<path d="M53.6,328.1 L55.2,328.1 L56.9,328.1 L58.5,328.1 L60.1,328.1 L61.7,328.1 L63.3,328.1 L64.9,328.1 L66.5,328.1 L68.1,328.0 L69.7,327.7 L71.3,326.9 L72.9,325.0 L74.5,320.7 L76.2,312.6 L77.8,298.9 L79.4,278.8 L81.0,253.7 L82.6,227.7 L84.2,206.8 L85.8,196.9 L87.4,199.9 L89.0,212.1 L90.6,231.0 L92.2,252.8 L93.8,274.1 L95.4,292.2 L97.1,306.0 L98.7,315.6 L100.3,321.5 L101.9,324.9 L103.5,326.7 L105.1,327.5 L106.7,327.9 L108.3,328.0 L109.9,328.1 L111.5,328.1 L113.1,328.1 L114.7,328.1 L116.4,328.1 L118.0,328.1 L119.6,328.1 L121.2,328.1 L122.8,328.1 L124.4,328.1 L126.0,328.1 L127.6,328.1 L129.2,328.1 L130.8,328.1 L132.4,328.1 L134.0,328.1 L135.6,328.1 L137.3,328.1 L138.9,328.1 L140.5,328.1 L142.1,328.1 L143.7,328.1 L145.3,328.1 L146.9,328.1 L148.5,328.1 L150.1,328.1 L151.7,328.1 L153.3,328.1 L154.9,328.1 L156.6,328.1 L158.2,328.1 L159.8,328.1 L161.4,328.1 L163.0,328.1 L164.6,328.1 L166.2,328.1 L167.8,328.1 L169.4,328.1 L171.0,328.1 L172.6,328.1 L174.2,328.1 L175.8,328.1 L177.5,328.1 L179.1,328.1 L180.7,328.1 L182.3,328.1 L183.9,328.1 L185.5,328.1 L187.1,328.1 L188.7,328.1 L190.3,328.1 L191.9,328.1 L193.5,328.1 L195.1,328.1 L196.8,328.1 L198.4,328.1 L200.0,328.1 L201.6,328.1 L203.2,328.1 L204.8,328.1 L206.4,328.1 L208.0,328.1 L209.6,328.1 L211.2,328.1 L212.8,328.1 L214.4,328.1 L216.0,328.1 L217.7,328.1 L219.3,328.1 L220.9,328.1 L222.5,328.1 L224.1,328.1 L225.7,328.1 L227.3,328.1 L228.9,328.1 L230.5,328.1 L232.1,328.1 L233.7,328.1 L235.3,328.1 L237.0,328.1 L238.6,328.1 L240.2,328.1 L241.8,328.1 L243.4,328.1 L245.0,328.1 L246.6,328.1 L248.2,328.1 L249.8,328.1 L251.4,328.1 L253.0,328.1 L254.6,328.1 L256.2,328.1 L257.9,328.1 L259.5,328.1 L261.1,328.1 L262.7,328.1 L264.3,328.1 L265.9,328.1 L267.5,328.1 L269.1,328.1 L270.7,328.1 L272.3,328.1 L273.9,328.1 L275.5,328.1 L277.2,328.1 L278.8,328.1" fill="none" stroke="#4646f5" stroke-width="1.5" stroke-linejoin="round"/>
<path d="M53.6,328.6 L54.4,328.6 L55.2,328.6 L56.1,328.5 L56.9,328.5 L57.7,328.5 L58.5,328.5 L59.3,328.4 L60.1,328.4 L60.9,328.4 L61.7,328.4 L62.5,328.3 L63.3,328.3 L64.1,328.3 L64.9,328.3 L65.7,328.2 L66.5,328.2 L67.3,328.2 L68.1,328.2 L68.9,328.1 L69.7,328.1 L70.5,328.1 L71.3,328.1 L72.1,328.1 L72.9,328.0 L73.7,328.0 L74.5,328.0 L75.3,328.0 L76.2,327.9 L77.0,327.9 L77.8,327.9 L78.6,327.9 L79.4,327.8 L80.2,327.8 L81.0,327.8 L81.8,327.8 L82.6,327.7 L83.4,327.7 L84.2,327.7 L85.0,327.7 L85.8,327.6 L86.6,327.6 L87.4,327.6 L88.2,327.6 L89.0,327.5 L89.8,327.5 L90.6,327.5 L91.4,327.5 L92.2,327.5 L93.0,327.4 L93.8,327.4 L94.6,327.0 L95.4,326.7 L96.3,326.3 L97.1,326.0 L97.9,325.6 L98.7,325.3 L99.5,324.9 L100.3,324.5 L101.1,324.2 L101.9,323.8 L102.7,321.8 L103.5,319.8 L104.3,317.8 L105.1,315.9 L105.9,313.9 L106.7,311.9 L107.5,308.7 L108.3,305.5 L109.1,302.3 L109.9,299.1 L110.7,295.9 L111.5,292.8 L112.3,290.4 L113.1,288.0 L113.9,285.6 L114.7,283.2 L115.5,280.8 L116.4,278.4 L117.2,277.3 L118.0,276.3 L118.8,275.2 L119.6,274.1 L120.4,273.0 L121.2,272.9 L122.0,272.8 L122.8,272.7 L123.6,272.6 L124.4,272.4 L125.2,272.1 L126.0,271.8 L126.8,271.5 L127.6,271.2 L128.4,273.0 L129.2,274.8 L130.0,276.6 L130.8,278.4 L131.6,280.2 L132.4,282.0 L133.2,283.8 L134.0,285.6 L134.8,287.2 L135.6,288.8 L136.5,290.4 L137.3,292.0 L138.1,293.5 L138.9,295.1 L139.7,297.1 L140.5,299.1 L141.3,301.1 L142.1,303.1 L142.9,305.1 L143.7,307.1 L144.5,308.0 L145.3,308.9 L146.1,309.8 L146.9,310.7 L147.7,311.6 L148.5,312.5 L149.3,313.4 L150.1,314.3 L150.9,314.6 L151.7,315.0 L152.5,315.4 L153.3,315.8 L154.1,316.1 L154.9,316.5 L155.7,316.9 L156.6,317.2 L157.4,317.4 L158.2,317.5 L159.0,317.7 L159.8,317.8 L160.6,318.0 L161.4,318.1 L162.2,318.3 L163.0,318.4 L163.8,318.7 L164.6,319.0 L165.4,319.3 L166.2,319.6 L167.0,319.9 L167.8,320.2 L168.6,320.5 L169.4,320.8 L170.2,321.1 L171.0,321.4 L171.8,321.7 L172.6,322.0 L173.4,322.3 L174.2,322.6 L175.0,322.9 L175.8,323.2 L176.7,323.5 L177.5,323.8 L178.3,324.1 L179.1,324.4 L179.9,324.5 L180.7,324.7 L181.5,324.8 L182.3,324.9 L183.1,325.1 L183.9,325.2 L184.7,325.3 L185.5,325.4 L186.3,325.6 L187.1,325.7 L187.9,325.8 L188.7,326.0 L189.5,326.1 L190.3,326.2 L191.1,326.3 L191.9,326.3 L192.7,326.4 L193.5,326.4 L194.3,326.5 L195.1,326.6 L195.9,326.6 L196.8,326.7 L197.6,326.7 L198.4,326.8 L199.2,326.9 L200.0,326.9 L200.8,327.0 L201.6,327.0 L202.4,327.1 L203.2,327.2 L204.0,327.2 L204.8,327.3 L205.6,327.3 L206.4,327.4 L207.2,327.4 L208.0,327.4 L208.8,327.4 L209.6,327.4 L210.4,327.3 L211.2,327.3 L212.0,327.3 L212.8,327.3 L213.6,327.3 L214.4,327.3 L215.2,327.3 L216.0,327.3 L216.9,327.2 L217.7,327.2 L218.5,327.2 L219.3,327.2 L220.1,327.2 L220.9,327.2 L221.7,327.2 L222.5,327.2 L223.3,327.2 L224.1,327.2 L224.9,327.2 L225.7,327.3 L226.5,327.3 L227.3,327.3 L228.1,327.4 L228.9,327.4 L229.7,327.4 L230.5,327.4 L231.3,327.5 L232.1,327.5 L232.9,327.5 L233.7,327.6 L234.5,327.6 L235.3,327.6 L236.1,327.6 L237.0,327.7 L237.8,327.7 L238.6,327.7 L239.4,327.8 L240.2,327.8 L241.0,327.8 L241.8,327.8 L242.6,327.9 L243.4,327.9 L244.2,327.9 L245.0,327.9 L245.8,328.0 L246.6,328.0 L247.4,328.0 L248.2,328.0 L249.0,328.0 L249.8,328.1 L250.6,328.1 L251.4,328.1 L252.2,328.1 L253.0,328.1 L253.8,328.1 L254.6,328.2 L255.4,328.2 L256.2,328.2 L257.1,328.2 L257.9,328.2 L258.7,328.2 L259.5,328.2 L260.3,328.3 L261.1,328.3 L261.9,328.3 L262.7,328.3 L263.5,328.3 L264.3,328.3 L265.1,328.3 L265.9,328.4 L266.7,328.4 L267.5,328.4 L268.3,328.4 L269.1,328.4 L269.9,328.4 L270.7,328.5 L271.5,328.5 L272.3,328.5 L273.1,328.5 L273.9,328.5 L274.7,328.5 L275.5,328.5 L276.3,328.6 L277.2,328.6 L278.0,328.6 L278.8,328.6 L278.8,328.6 L53.6,328.6Z" fill="#40e0d0" fill-opacity="0.65"/>
<path d="M53.6,328.6 L54.4,328.6 L55.2,328.6 L56.1,328.5 L56.9,328.5 L57.7,328.5 L58.5,328.5 L59.3,328.4 L60.1,328.4 L60.9,328.4 L61.7,328.4 L62.5,328.3 L63.3,328.3 L64.1,328.3 L64.9,328.3 L65.7,328.2 L66.5,328.2 L67.3,328.2 L68.1,328.2 L68.9,328.1 L69.7,328.1 L70.5,328.1 L71.3,328.1 L72.1,328.1 L72.9,328.0 L73.7,328.0 L74.5,328.0 L75.3,328.0 L76.2,327.9 L77.0,327.9 L77.8,327.9 L78.6,327.9 L79.4,327.8 L80.2,327.8 L81.0,327.8 L81.8,327.8 L82.6,327.7 L83.4,327.7 L84.2,327.7 L85.0,327.7 L85.8,327.6 L86.6,327.6 L87.4,327.6 L88.2,327.6 L89.0,327.5 L89.8,327.5 L90.6,327.5 L91.4,327.5 L92.2,327.5 L93.0,327.4 L93.8,327.4 L94.6,327.0 L95.4,326.7 L96.3,326.3 L97.1,326.0 L97.9,325.6 L98.7,325.3 L99.5,324.9 L100.3,324.5 L101.1,324.2 L101.9,323.8 L102.7,321.8 L103.5,319.8 L104.3,317.8 L105.1,315.9 L105.9,313.9 L106.7,311.9 L107.5,308.7 L108.3,305.5 L109.1,302.3 L109.9,299.1 L110.7,295.9 L111.5,292.8 L112.3,290.4 L113.1,288.0 L113.9,285.6 L114.7,283.2 L115.5,280.8 L116.4,278.4 L117.2,277.3 L118.0,276.3 L118.8,275.2 L119.6,274.1 L120.4,273.0 L121.2,272.9 L122.0,272.8 L122.8,272.7 L123.6,272.6 L124.4,272.4 L125.2,272.1 L126.0,271.8 L126.8,271.5 L127.6,271.2 L128.4,273.0 L129.2,274.8 L130.0,276.6 L130.8,278.4 L131.6,280.2 L132.4,282.0 L133.2,283.8 L134.0,285.6 L134.8,287.2 L135.6,288.8 L136.5,290.4 L137.3,292.0 L138.1,293.5 L138.9,295.1 L139.7,297.1 L140.5,299.1 L141.3,301.1 L142.1,303.1 L142.9,305.1 L143.7,307.1 L144.5,308.0 L145.3,308.9 L146.1,309.8 L146.9,310.7 L147.7,311.6 L148.5,312.5 L149.3,313.4 L150.1,314.3 L150.9,314.6 L151.7,315.0 L152.5,315.4 L153.3,315.8 L154.1,316.1 L154.9,316.5 L155.7,316.9 L156.6,317.2 L157.4,317.4 L158.2,317.5 L159.0,317.7 L159.8,317.8 L160.6,318.0 L161.4,318.1 L162.2,318.3 L163.0,318.4 L163.8,318.7 L164.6,319.0 L165.4,319.3 L166.2,319.6 L167.0,319.9 L167.8,320.2 L168.6,320.5 L169.4,320.8 L170.2,321.1 L171.0,321.4 L171.8,321.7 L172.6,322.0 L173.4,322.3 L174.2,322.6 L175.0,322.9 L175.8,323.2 L176.7,323.5 L177.5,323.8 L178.3,324.1 L179.1,324.4 L179.9,324.5 L180.7,324.7 L181.5,324.8 L182.3,324.9 L183.1,325.1 L183.9,325.2 L184.7,325.3 L185.5,325.4 L186.3,325.6 L187.1,325.7 L187.9,325.8 L188.7,326.0 L189.5,326.1 L190.3,326.2 L191.1,326.3 L191.9,326.3 L192.7,326.4 L193.5,326.4 L194.3,326.5 L195.1,326.6 L195.9,326.6 L196.8,326.7 L197.6,326.7 L198.4,326.8 L199.2,326.9 L200.0,326.9 L200.8,327.0 L201.6,327.0 L202.4,327.1 L203.2,327.2 L204.0,327.2 L204.8,327.3 L205.6,327.3 L206.4,327.4 L207.2,327.4 L208.0,327.4 L208.8,327.4 L209.6,327.4 L210.4,327.3 L211.2,327.3 L212.0,327.3 L212.8,327.3 L213.6,327.3 L214.4,327.3 L215.2,327.3 L216.0,327.3 L216.9,327.2 L217.7,327.2 L218.5,327.2 L219.3,327.2 L220.1,327.2 L220.9,327.2 L221.7,327.2 L222.5,327.2 L223.3,327.2 L224.1,327.2 L224.9,327.2 L225.7,327.3 L226.5,327.3 L227.3,327.3 L228.1,327.4 L228.9,327.4 L229.7,327.4 L230.5,327.4 L231.3,327.5 L232.1,327.5 L232.9,327.5 L233.7,327.6 L234.5,327.6 L235.3,327.6 L236.1,327.6 L237.0,327.7 L237.8,327.7 L238.6,327.7 L239.4,327.8 L240.2,327.8 L241.0,327.8 L241.8,327.8 L242.6,327.9 L243.4,327.9 L244.2,327.9 L245.0,327.9 L245.8,328.0 L246.6,328.0 L247.4,328.0 L248.2,328.0 L249.0,328.0 L249.8,328.1 L250.6,328.1 L251.4,328.1 L252.2,328.1 L253.0,328.1 L253.8,328.1 L254.6,328.2 L255.4,328.2 L256.2,328.2 L257.1,328.2 L257.9,328.2 L258.7,328.2 L259.5,328.2 L260.3,328.3 L261.1,328.3 L261.9,328.3 L262.7,328.3 L263.5,328.3 L264.3,328.3 L265.1,328.3 L265.9,328.4 L266.7,328.4 L267.5,328.4 L268.3,328.4 L269.1,328.4 L269.9,328.4 L270.7,328.5 L271.5,328.5 L272.3,328.5 L273.1,328.5 L273.9,328.5 L274.7,328.5 L275.5,328.5 L276.3,328.6 L277.2,328.6 L278.0,328.6 L278.8,328.6" fill="none" stroke="#2ed0c8" stroke-width="1.5" stroke-linejoin="round"/>
<path d="M53.0,328.6 L170.0,328.6 L180.7,327.3 L193.9,323.2 L205.6,301.5 L211.3,297.0 L217.0,269.4 L223.2,260.6 L228.3,259.2 L233.8,293.9 L239.5,315.0 L248.1,322.6 L255.9,328.0 L261.4,327.3 L273.6,328.3 L277.0,328.6 L277.0,328.6 L53.0,328.6Z" fill="#ff7f3f" fill-opacity="0.55"/>
<path d="M53.0,328.6 L170.0,328.6 L180.7,327.3 L193.9,323.2 L205.6,301.5 L211.3,297.0 L217.0,269.4 L223.2,260.6 L228.3,259.2 L233.8,293.9 L239.5,315.0 L248.1,322.6 L255.9,328.0 L261.4,327.3 L273.6,328.3 L277.0,328.6" fill="none" stroke="#f87b40" stroke-width="1.5" stroke-linejoin="round"/>
<path d="M42.4,191.2 L42.4,335 L288.9,335" fill="none" stroke="#111" stroke-width="1.1"/>
<line x1="38.8" y1="328.6" x2="42.4" y2="328.6" stroke="#111" stroke-width="1"/>
<text x="35.4" y="332.7" font-size="11.3" fill="#111" text-anchor="end" textLength="17" lengthAdjust="spacingAndGlyphs">0.0</text>
<line x1="38.8" y1="268.9" x2="42.4" y2="268.9" stroke="#111" stroke-width="1"/>
<text x="35.4" y="273.0" font-size="11.3" fill="#111" text-anchor="end" textLength="17" lengthAdjust="spacingAndGlyphs">0.5</text>
<line x1="38.8" y1="209.1" x2="42.4" y2="209.1" stroke="#111" stroke-width="1"/>
<text x="35.4" y="213.2" font-size="11.3" fill="#111" text-anchor="end" textLength="17" lengthAdjust="spacingAndGlyphs">1.0</text>
<line x1="85.8" y1="335" x2="85.8" y2="338.6" stroke="#111" stroke-width="1"/>
<text x="85.8" y="350.2" font-size="11.3" fill="#111" text-anchor="middle">5</text>
<line x1="166.2" y1="335" x2="166.2" y2="338.6" stroke="#111" stroke-width="1"/>
<text x="166.2" y="350.2" font-size="11.3" fill="#111" text-anchor="middle">10</text>
<line x1="246.6" y1="335" x2="246.6" y2="338.6" stroke="#111" stroke-width="1"/>
<text x="246.6" y="350.2" font-size="11.3" fill="#111" text-anchor="middle">15</text>
<text x="165.5" y="367.8" font-size="11.3" fill="#111" text-anchor="middle" textLength="142" lengthAdjust="spacingAndGlyphs">Ser14-Gly78 distance (Å)</text>
<text x="12.2" y="262.0" font-size="11.3" fill="#111" text-anchor="middle" textLength="65.5" lengthAdjust="spacingAndGlyphs" transform="rotate(-90 12.2 262.0)">Distribution</text>
<rect x="167.2" y="197.2" width="115.8" height="53.9" rx="2.5" fill="#fff" fill-opacity="0.85" stroke="#d5d5d5" stroke-width="0.9"/>
<line x1="171.4" y1="206.3" x2="195.7" y2="206.3" stroke="#4646f5" stroke-width="1.5"/>
<text x="204.6" y="210.5" font-size="11.8" fill="#111" textLength="37.4" lengthAdjust="spacingAndGlyphs">Closed</text>
<line x1="171.4" y1="223.2" x2="195.7" y2="223.2" stroke="#2ed8d0" stroke-width="1.5"/>
<text x="204.6" y="227.4" font-size="11.8" fill="#111" textLength="73.4" lengthAdjust="spacingAndGlyphs">Intermediate</text>
<line x1="171.4" y1="240.1" x2="195.7" y2="240.1" stroke="#f87b40" stroke-width="1.5"/>
<text x="204.6" y="244.3" font-size="11.8" fill="#111" textLength="29.5" lengthAdjust="spacingAndGlyphs">Open</text>
<text x="344.6" y="19.1" font-size="18.5" fill="#000" font-weight="bold">d</text>
<text x="344.6" y="188.2" font-size="18.5" fill="#000" font-weight="bold">e</text>
<text x="346.0" y="336.8" font-size="18.5" fill="#000" font-weight="bold">f</text>
<text x="344.0" y="478.9" font-size="18.5" fill="#000" font-weight="bold">g</text>
<line x1="396.5" y1="99.8" x2="681.5" y2="99.8" stroke="#d2d2d2" stroke-width="0.9" stroke-dasharray="3.7,1.7"/>
<line x1="396.5" y1="38.9" x2="681.5" y2="38.9" stroke="#d2d2d2" stroke-width="0.9" stroke-dasharray="3.7,1.7"/>
<line x1="396.5" y1="249.2" x2="681.5" y2="249.2" stroke="#d2d2d2" stroke-width="0.9" stroke-dasharray="3.7,1.7"/>
<line x1="396.5" y1="191.4" x2="681.5" y2="191.4" stroke="#d2d2d2" stroke-width="0.9" stroke-dasharray="3.7,1.7"/>
<line x1="396.5" y1="408.3" x2="681.5" y2="408.3" stroke="#d2d2d2" stroke-width="0.9" stroke-dasharray="3.7,1.7"/>
<line x1="396.5" y1="363.3" x2="681.5" y2="363.3" stroke="#d2d2d2" stroke-width="0.9" stroke-dasharray="3.7,1.7"/>
<line x1="395" y1="576.4" x2="681.5" y2="576.4" stroke="#d2d2d2" stroke-width="0.9" stroke-dasharray="3.7,1.7"/>
<line x1="395" y1="538.3" x2="681.5" y2="538.3" stroke="#d2d2d2" stroke-width="0.9" stroke-dasharray="3.7,1.7"/>
<line x1="395" y1="500.2" x2="681.5" y2="500.2" stroke="#d2d2d2" stroke-width="0.9" stroke-dasharray="3.7,1.7"/>
<path d="M429.5,160.5 L435.5,148.5 L441.0,99.4 L447.5,43.6 L453.5,70.7 L458.7,119.8 L465.0,149.7 L472.1,157.4 L478.6,156.9 L484.0,155.6 L490.6,154.5 L496.0,155.5 L501.3,156.9 L513.3,159.3 L530.0,160.2 L549.0,160.5 L549,160.6 L429.5,160.6Z" fill="#9a80f8" fill-opacity="0.24"/>
<path d="M429.5,160.5 L435.5,148.5 L441.0,99.4 L447.5,43.6 L453.5,70.7 L458.7,119.8 L465.0,149.7 L472.1,157.4 L478.6,156.9 L484.0,155.6 L490.6,154.5 L496.0,155.5 L501.3,156.9 L513.3,159.3 L530.0,160.2 L549.0,160.5" fill="none" stroke="#b3a0fa" stroke-width="1.5" stroke-linejoin="round"/>
<path d="M419.2,306.5 L424.7,300.3 L430.6,279.2 L436.1,240.3 L441.6,231.5 L447.5,245.4 L453.0,266.5 L459.3,281.3 L465.6,288.4 L470.7,289.7 L475.3,283.4 L482.5,270.7 L490.9,230.6 L498.5,200.3 L503.6,204.5 L509.9,224.3 L516.3,245.4 L521.7,251.7 L533.1,269.9 L541.6,274.9 L550.0,273.7 L558.4,269.5 L566.9,263.5 L573.2,253.8 L581.6,243.3 L589.2,237.8 L595.2,238.2 L600.6,244.1 L607.0,249.6 L614.6,266.5 L623.8,281.3 L632.3,294.8 L642.8,303.2 L657.6,306.2 L670.0,306.8 L670,307 L419.2,307Z" fill="#4a4070" fill-opacity="0.22"/>
<path d="M419.2,306.5 L424.7,300.3 L430.6,279.2 L436.1,240.3 L441.6,231.5 L447.5,245.4 L453.0,266.5 L459.3,281.3 L465.6,288.4 L470.7,289.7 L475.3,283.4 L482.5,270.7 L490.9,230.6 L498.5,200.3 L503.6,204.5 L509.9,224.3 L516.3,245.4 L521.7,251.7 L533.1,269.9 L541.6,274.9 L550.0,273.7 L558.4,269.5 L566.9,263.5 L573.2,253.8 L581.6,243.3 L589.2,237.8 L595.2,238.2 L600.6,244.1 L607.0,249.6 L614.6,266.5 L623.8,281.3 L632.3,294.8 L642.8,303.2 L657.6,306.2 L670.0,306.8" fill="none" stroke="#aeacbe" stroke-width="2.4" stroke-linejoin="round"/>
<path d="M419.2,306.5 L424.7,300.3 L430.6,279.2 L436.1,240.3 L441.6,231.5 L447.5,245.4 L453.0,266.5 L459.3,281.3 L465.6,288.4 L470.7,289.7 L475.3,283.4 L482.5,270.7 L490.9,230.6 L498.5,200.3 L503.6,204.5 L509.9,224.3 L516.3,245.4 L521.7,251.7 L533.1,269.9 L541.6,274.9 L550.0,273.7 L558.4,269.5 L566.9,263.5 L573.2,253.8 L581.6,243.3 L589.2,237.8 L595.2,238.2 L600.6,244.1 L607.0,249.6 L614.6,266.5 L623.8,281.3 L632.3,294.8 L642.8,303.2 L657.6,306.2 L670.0,306.8" fill="none" stroke="#5f5b7a" stroke-width="1.25" stroke-linejoin="round"/>
<path d="M421.3,452.8 L426.4,449.5 L431.9,435.5 L436.9,429.2 L441.6,430.5 L446.6,438.1 L453.0,446.5 L459.3,448.6 L465.6,449.9 L471.1,447.4 L476.2,443.1 L482.5,428.4 L488.0,388.3 L493.0,346.1 L498.1,332.2 L501.5,350.3 L506.5,388.3 L510.8,413.6 L516.3,425.4 L521.3,429.6 L526.8,426.7 L533.1,429.6 L539.5,427.1 L546.6,421.2 L555.1,407.3 L566.9,392.5 L574.1,389.6 L583.8,386.2 L592.2,390.4 L602.7,403.1 L613.3,419.9 L623.8,434.7 L636.5,445.3 L649.2,450.7 L666.0,452.6 L672.0,453.0 L672,453.3 L421.3,453.3Z" fill="#d070b0" fill-opacity="0.17"/>
<path d="M421.3,452.8 L426.4,449.5 L431.9,435.5 L436.9,429.2 L441.6,430.5 L446.6,438.1 L453.0,446.5 L459.3,448.6 L465.6,449.9 L471.1,447.4 L476.2,443.1 L482.5,428.4 L488.0,388.3 L493.0,346.1 L498.1,332.2 L501.5,350.3 L506.5,388.3 L510.8,413.6 L516.3,425.4 L521.3,429.6 L526.8,426.7 L533.1,429.6 L539.5,427.1 L546.6,421.2 L555.1,407.3 L566.9,392.5 L574.1,389.6 L583.8,386.2 L592.2,390.4 L602.7,403.1 L613.3,419.9 L623.8,434.7 L636.5,445.3 L649.2,450.7 L666.0,452.6 L672.0,453.0" fill="none" stroke="#e8c2dc" stroke-width="2.6" stroke-linejoin="round"/>
<path d="M421.3,452.8 L426.4,449.5 L431.9,435.5 L436.9,429.2 L441.6,430.5 L446.6,438.1 L453.0,446.5 L459.3,448.6 L465.6,449.9 L471.1,447.4 L476.2,443.1 L482.5,428.4 L488.0,388.3 L493.0,346.1 L498.1,332.2 L501.5,350.3 L506.5,388.3 L510.8,413.6 L516.3,425.4 L521.3,429.6 L526.8,426.7 L533.1,429.6 L539.5,427.1 L546.6,421.2 L555.1,407.3 L566.9,392.5 L574.1,389.6 L583.8,386.2 L592.2,390.4 L602.7,403.1 L613.3,419.9 L623.8,434.7 L636.5,445.3 L649.2,450.7 L666.0,452.6 L672.0,453.0" fill="none" stroke="#cc8abd" stroke-width="1.3" stroke-linejoin="round"/>
<path d="M428.8,524.4 L431.4,539.9 L437.0,566.4 L442.5,588.6 L447.0,605.9 L451.8,612.5 L456.9,609.0 L462.5,599.7 L468.0,584.2 L473.5,569.8 L479.1,566.0 L484.6,570.9 L491.3,574.2 L499.0,573.1 L504.5,570.9 L511.2,566.4 L518.9,558.7 L526.7,553.6 L533.3,552.7 L540.0,550.9 L549.3,548.2 L558.1,538.7 L565.9,528.3 L571.9,524.8 L578.1,527.6 L583.6,530.5 L589.1,531.4 L595.8,535.1 L602.4,537.4 L606.8,537.8 L612.4,535.3 L617.9,531.3 L623.4,520.4 L629.0,510.1 L635.6,503.1 L641.2,495.2 L646.7,483.8 L652.2,490.1 L652.2,499.7 L646.7,492.8 L641.2,503.6 L635.6,511.1 L629.0,517.3 L623.4,527.0 L617.9,537.3 L612.4,540.9 L606.8,542.8 L602.4,541.8 L595.8,538.9 L589.1,534.6 L583.6,533.7 L578.1,530.8 L571.9,528.0 L565.9,531.5 L558.1,541.9 L549.3,551.4 L540.0,554.1 L533.3,555.9 L526.7,556.8 L518.9,561.9 L511.2,569.6 L504.5,574.1 L499.0,576.3 L491.3,577.4 L484.6,574.1 L479.1,569.2 L473.5,573.0 L468.0,587.4 L462.5,602.9 L456.9,612.2 L451.8,615.7 L447.0,609.1 L442.5,591.8 L437.0,569.6 L431.4,543.1 L428.8,527.6Z" fill="#a890fa" fill-opacity="0.35"/>
<path d="M602.4,586.0 L611.3,584.2 L620.1,579.4 L629.0,574.3 L637.8,561.8 L644.5,551.0 L651.1,542.3 L657.8,530.5 L663.3,520.9 L668.8,508.0 L675.0,500.6 L681.0,503.1 L681.0,517.7 L675.0,513.6 L668.8,519.4 L663.3,530.9 L657.8,539.1 L651.1,549.3 L644.5,556.2 L637.8,565.4 L629.0,575.9 L620.1,581.0 L611.3,585.8 L602.4,587.6Z" fill="#6a6880" fill-opacity="0.45"/>
<path d="M600.2,587.4 L611.3,582.5 L624.6,576.3 L633.4,570.3 L644.5,559.9 L655.5,543.5 L666.6,527.0 L675.5,513.1 L678.8,499.5 L681.0,479.4 L681.0,488.4 L678.8,508.1 L675.5,521.1 L666.6,533.6 L655.5,548.1 L644.5,562.7 L633.4,572.3 L624.6,578.3 L611.3,584.5 L600.2,589.4Z" fill="#d890c4" fill-opacity="0.4"/>
<path d="M428.8,526.0 L431.4,541.5 L437.0,568.0 L442.5,590.2 L447.0,607.5 L451.8,614.1 L456.9,610.6 L462.5,601.3 L468.0,585.8 L473.5,571.4 L479.1,567.6 L484.6,572.5 L491.3,575.8 L499.0,574.7 L504.5,572.5 L511.2,568.0 L518.9,560.3 L526.7,555.2 L533.3,554.3 L540.0,552.5 L549.3,549.8 L558.1,540.3 L565.9,529.9 L571.9,526.4 L578.1,529.2 L583.6,532.1 L589.1,533.0 L595.8,537.0 L602.4,539.6 L606.8,540.3 L612.4,538.1 L617.9,534.3 L623.4,523.7 L629.0,513.7 L635.6,507.1 L641.2,499.4 L646.7,488.3 L652.2,494.9" fill="none" stroke="#d4cafc" stroke-width="3.4" stroke-linejoin="round"/>
<path d="M428.8,526.0 L431.4,541.5 L437.0,568.0 L442.5,590.2 L447.0,607.5 L451.8,614.1 L456.9,610.6 L462.5,601.3 L468.0,585.8 L473.5,571.4 L479.1,567.6 L484.6,572.5 L491.3,575.8 L499.0,574.7 L504.5,572.5 L511.2,568.0 L518.9,560.3 L526.7,555.2 L533.3,554.3 L540.0,552.5 L549.3,549.8 L558.1,540.3 L565.9,529.9 L571.9,526.4 L578.1,529.2 L583.6,532.1 L589.1,533.0 L595.8,537.0 L602.4,539.6 L606.8,540.3 L612.4,538.1 L617.9,534.3 L623.4,523.7 L629.0,513.7 L635.6,507.1 L641.2,499.4 L646.7,488.3 L652.2,494.9" fill="none" stroke="#a898fa" stroke-width="1.5" stroke-linejoin="round"/>
<path d="M423.2,497.2 L424.8,514.9 L429.2,548.1 L434.8,570.3 L440.3,576.9 L445.8,576.9 L451.4,572.5 L458.0,562.5 L469.1,552.5 L474.6,555.2 L481.3,565.8 L486.8,579.1 L492.4,590.2 L497.9,596.4 L503.4,598.0 L509.0,592.4 L515.6,583.5 L523.4,578.0 L527.8,576.9 L533.3,578.0 L536.0,578.0 L542.6,577.3 L553.7,583.9 L562.6,587.9 L573.6,589.7 L589.1,590.6 L600.2,588.4 L611.3,583.5 L624.6,577.3 L633.4,571.3 L644.5,561.3 L655.5,545.8 L666.6,530.3 L675.5,517.1 L678.8,503.8 L681.0,483.9" fill="none" stroke="#e8c4dc" stroke-width="3" stroke-linejoin="round"/>
<path d="M423.2,497.2 L424.8,514.9 L429.2,548.1 L434.8,570.3 L440.3,576.9 L445.8,576.9 L451.4,572.5 L458.0,562.5 L469.1,552.5 L474.6,555.2 L481.3,565.8 L486.8,579.1 L492.4,590.2 L497.9,596.4 L503.4,598.0 L509.0,592.4 L515.6,583.5 L523.4,578.0 L527.8,576.9 L533.3,578.0 L536.0,578.0 L542.6,577.3 L553.7,583.9 L562.6,587.9 L573.6,589.7 L589.1,590.6 L600.2,588.4 L611.3,583.5 L624.6,577.3 L633.4,571.3 L644.5,561.3 L655.5,545.8 L666.6,530.3 L675.5,517.1 L678.8,503.8 L681.0,483.9" fill="none" stroke="#cc88bb" stroke-width="1.5" stroke-linejoin="round"/>
<path d="M423.2,507.1 L425.9,530.4 L429.2,557.0 L433.7,575.8 L440.3,586.9 L445.8,589.1 L451.4,585.8 L460.2,578.0 L469.1,571.4 L474.6,569.8 L481.3,575.8 L489.0,583.5 L497.9,590.2 L504.5,593.5 L510.1,592.4 L521.2,585.8 L528.9,584.0 L536.0,579.0 L548.2,577.3 L558.1,579.0 L569.2,581.7 L580.3,585.3 L593.6,587.9 L602.4,586.8 L611.3,585.0 L620.1,580.2 L629.0,575.1 L637.8,563.6 L644.5,553.6 L651.1,545.8 L657.8,534.8 L663.3,525.9 L668.8,513.7 L675.0,507.1 L681.0,510.4" fill="none" stroke="#b8b6c4" stroke-width="2.6" stroke-linejoin="round"/>
<path d="M423.2,507.1 L425.9,530.4 L429.2,557.0 L433.7,575.8 L440.3,586.9 L445.8,589.1 L451.4,585.8 L460.2,578.0 L469.1,571.4 L474.6,569.8 L481.3,575.8 L489.0,583.5 L497.9,590.2 L504.5,593.5 L510.1,592.4 L521.2,585.8 L528.9,584.0 L536.0,579.0 L548.2,577.3 L558.1,579.0 L569.2,581.7 L580.3,585.3 L593.6,587.9 L602.4,586.8 L611.3,585.0 L620.1,580.2 L629.0,575.1 L637.8,563.6 L644.5,553.6 L651.1,545.8 L657.8,534.8 L663.3,525.9 L668.8,513.7 L675.0,507.1 L681.0,510.4" fill="none" stroke="#55536c" stroke-width="1.5" stroke-linejoin="round"/>
<line x1="473.8" y1="3.2" x2="473.8" y2="620.7" stroke="#aaaaaa" stroke-width="1.3" stroke-dasharray="4.2,2.5"/>
<line x1="538.2" y1="3.2" x2="538.2" y2="620.7" stroke="#aaaaaa" stroke-width="1.3" stroke-dasharray="4.2,2.5"/>
<path d="M396.5,38.9 L396.5,160.6 L681.5,160.6" fill="none" stroke="#111" stroke-width="1.1"/>
<line x1="448.9" y1="160.6" x2="448.9" y2="164.2" stroke="#111" stroke-width="1"/>
<line x1="538.2" y1="160.6" x2="538.2" y2="164.2" stroke="#111" stroke-width="1"/>
<line x1="627.6" y1="160.6" x2="627.6" y2="164.2" stroke="#111" stroke-width="1"/>
<path d="M396.5,184.7 L396.5,307.0 L681.5,307.0" fill="none" stroke="#111" stroke-width="1.1"/>
<line x1="448.9" y1="307.0" x2="448.9" y2="310.6" stroke="#111" stroke-width="1"/>
<line x1="538.2" y1="307.0" x2="538.2" y2="310.6" stroke="#111" stroke-width="1"/>
<line x1="627.6" y1="307.0" x2="627.6" y2="310.6" stroke="#111" stroke-width="1"/>
<path d="M396.5,331.1 L396.5,453.3 L681.5,453.3" fill="none" stroke="#111" stroke-width="1.1"/>
<line x1="448.9" y1="453.3" x2="448.9" y2="456.9" stroke="#111" stroke-width="1"/>
<line x1="538.2" y1="453.3" x2="538.2" y2="456.9" stroke="#111" stroke-width="1"/>
<line x1="627.6" y1="453.3" x2="627.6" y2="456.9" stroke="#111" stroke-width="1"/>
<path d="M395.0,475.0 L395.0,614.5 L681.5,614.5" fill="none" stroke="#111" stroke-width="1.1"/>
<line x1="448.9" y1="614.5" x2="448.9" y2="618.1" stroke="#111" stroke-width="1"/>
<line x1="538.2" y1="614.5" x2="538.2" y2="618.1" stroke="#111" stroke-width="1"/>
<line x1="627.6" y1="614.5" x2="627.6" y2="618.1" stroke="#111" stroke-width="1"/>
<line x1="392.9" y1="160.6" x2="396.5" y2="160.6" stroke="#111" stroke-width="1"/>
<text x="386.6" y="164.7" font-size="11.3" fill="#111" text-anchor="end" textLength="17" lengthAdjust="spacingAndGlyphs">0.0</text>
<line x1="392.9" y1="99.8" x2="396.5" y2="99.8" stroke="#111" stroke-width="1"/>
<text x="386.6" y="103.8" font-size="11.3" fill="#111" text-anchor="end" textLength="17" lengthAdjust="spacingAndGlyphs">0.5</text>
<line x1="392.9" y1="38.9" x2="396.5" y2="38.9" stroke="#111" stroke-width="1"/>
<text x="386.6" y="43.0" font-size="11.3" fill="#111" text-anchor="end" textLength="17" lengthAdjust="spacingAndGlyphs">1.0</text>
<line x1="392.9" y1="307.0" x2="396.5" y2="307.0" stroke="#111" stroke-width="1"/>
<text x="386.6" y="311.1" font-size="11.3" fill="#111" text-anchor="end" textLength="17" lengthAdjust="spacingAndGlyphs">0.0</text>
<line x1="392.9" y1="249.2" x2="396.5" y2="249.2" stroke="#111" stroke-width="1"/>
<text x="386.6" y="253.3" font-size="11.3" fill="#111" text-anchor="end" textLength="17" lengthAdjust="spacingAndGlyphs">0.1</text>
<line x1="392.9" y1="191.4" x2="396.5" y2="191.4" stroke="#111" stroke-width="1"/>
<text x="386.6" y="195.5" font-size="11.3" fill="#111" text-anchor="end" textLength="17" lengthAdjust="spacingAndGlyphs">0.2</text>
<line x1="392.9" y1="453.3" x2="396.5" y2="453.3" stroke="#111" stroke-width="1"/>
<text x="386.6" y="457.4" font-size="11.3" fill="#111" text-anchor="end" textLength="17" lengthAdjust="spacingAndGlyphs">0.0</text>
<line x1="392.9" y1="408.3" x2="396.5" y2="408.3" stroke="#111" stroke-width="1"/>
<text x="386.6" y="412.4" font-size="11.3" fill="#111" text-anchor="end" textLength="17" lengthAdjust="spacingAndGlyphs">0.1</text>
<line x1="392.9" y1="363.3" x2="396.5" y2="363.3" stroke="#111" stroke-width="1"/>
<text x="386.6" y="367.4" font-size="11.3" fill="#111" text-anchor="end" textLength="17" lengthAdjust="spacingAndGlyphs">0.2</text>
<line x1="391.4" y1="614.5" x2="395" y2="614.5" stroke="#111" stroke-width="1"/>
<text x="385.5" y="618.6" font-size="11.3" fill="#111" text-anchor="end">0</text>
<line x1="391.4" y1="576.4" x2="395" y2="576.4" stroke="#111" stroke-width="1"/>
<text x="385.5" y="580.5" font-size="11.3" fill="#111" text-anchor="end">3</text>
<line x1="391.4" y1="538.3" x2="395" y2="538.3" stroke="#111" stroke-width="1"/>
<text x="385.5" y="542.4" font-size="11.3" fill="#111" text-anchor="end">6</text>
<line x1="391.4" y1="500.2" x2="395" y2="500.2" stroke="#111" stroke-width="1"/>
<text x="385.5" y="504.3" font-size="11.3" fill="#111" text-anchor="end">9</text>
<text x="448.9" y="632.7" font-size="11.3" fill="#111" text-anchor="middle">5</text>
<text x="538.2" y="632.7" font-size="11.3" fill="#111" text-anchor="middle">10</text>
<text x="627.6" y="632.7" font-size="11.3" fill="#111" text-anchor="middle">15</text>
<text x="537.7" y="651.5" font-size="11.3" fill="#111" text-anchor="middle" textLength="143.4" lengthAdjust="spacingAndGlyphs">Ser14-Gly78 distance (Å)</text>
<text x="362.0" y="99.9" font-size="11.3" fill="#111" text-anchor="middle" textLength="65.6" lengthAdjust="spacingAndGlyphs" transform="rotate(-90 362.0 99.9)">Distribution</text>
<text x="362.0" y="245.8" font-size="11.3" fill="#111" text-anchor="middle" textLength="65.6" lengthAdjust="spacingAndGlyphs" transform="rotate(-90 362.0 245.8)">Distribution</text>
<text x="362.0" y="392.2" font-size="11.3" fill="#111" text-anchor="middle" textLength="65.6" lengthAdjust="spacingAndGlyphs" transform="rotate(-90 362.0 392.2)">Distribution</text>
<text x="372.2" y="545.5" font-size="11.3" fill="#111" text-anchor="middle" textLength="114.3" lengthAdjust="spacingAndGlyphs" transform="rotate(-90 372.2 545.5)">Free energy <tspan font-style="italic">G</tspan> (<tspan font-style="italic">k</tspan><tspan font-style="italic" font-size="8" dy="2">b</tspan><tspan font-style="italic" dy="-2">T</tspan>)</text>
<text x="433.7" y="26.2" font-size="12" fill="#bb1e1e" text-anchor="middle" textLength="36.3" lengthAdjust="spacingAndGlyphs">Closed</text>
<text x="505.7" y="26.2" font-size="12" fill="#bb1e1e" text-anchor="middle" textLength="35.6" lengthAdjust="spacingAndGlyphs">Interm.</text>
<text x="587.5" y="26.2" font-size="12" fill="#bb1e1e" text-anchor="middle" textLength="28.7" lengthAdjust="spacingAndGlyphs">Open</text>
<text x="433.7" y="495.2" font-size="12" fill="#bb1e1e" text-anchor="middle" textLength="36.3" lengthAdjust="spacingAndGlyphs">Closed</text>
<text x="505.7" y="495.2" font-size="12" fill="#bb1e1e" text-anchor="middle" textLength="35.6" lengthAdjust="spacingAndGlyphs">Interm.</text>
<text x="587.5" y="495.2" font-size="12" fill="#bb1e1e" text-anchor="middle" textLength="28.7" lengthAdjust="spacingAndGlyphs">Open</text>
<text x="409.9" y="91.0" font-size="12.3" fill="#111" textLength="32.8" lengthAdjust="spacingAndGlyphs">89.4%</text>
<text x="489.4" y="143.0" font-size="12.3" fill="#111" textLength="33" lengthAdjust="spacingAndGlyphs">10.3%</text>
<text x="558.0" y="156.2" font-size="12.3" fill="#111" textLength="27.5" lengthAdjust="spacingAndGlyphs">0.3%</text>
<text x="415.0" y="226.4" font-size="12.3" fill="#111" textLength="23" lengthAdjust="spacingAndGlyphs">16%</text>
<text x="506.5" y="203.2" font-size="12.3" fill="#111" textLength="23.7" lengthAdjust="spacingAndGlyphs">39%</text>
<text x="569.0" y="228.5" font-size="12.3" fill="#111" textLength="24" lengthAdjust="spacingAndGlyphs">45%</text>
<text x="423.4" y="428.4" font-size="12.3" fill="#111" textLength="18.2" lengthAdjust="spacingAndGlyphs">7%</text>
<text x="507.0" y="346.1" font-size="12.3" fill="#111" textLength="24" lengthAdjust="spacingAndGlyphs">32%</text>
<text x="575.3" y="361.7" font-size="12.3" fill="#111" textLength="24.1" lengthAdjust="spacingAndGlyphs">61%</text>
<rect x="542.4" y="41.3" width="141" height="55.5" rx="2.5" fill="#fff" fill-opacity="0.9" stroke="#d5d5d5" stroke-width="0.9"/>
<line x1="547" y1="50.8" x2="571.4" y2="50.8" stroke="#b3a0fa" stroke-width="1.5"/>
<text x="580.2" y="55.1" font-size="11.8" fill="#111" textLength="91.2" lengthAdjust="spacingAndGlyphs">Crystal (bound)</text>
<line x1="547" y1="68" x2="571.4" y2="68" stroke="#4e4c66" stroke-width="1.5"/>
<text x="580.2" y="72.3" font-size="11.8" fill="#111" textLength="98" lengthAdjust="spacingAndGlyphs">Solution (bound)</text>
<line x1="547" y1="85.2" x2="571.4" y2="85.2" stroke="#d888c0" stroke-width="1.5"/>
<text x="580.2" y="89.5" font-size="11.8" fill="#111" textLength="82.2" lengthAdjust="spacingAndGlyphs">Solution (apo)</text>
<text x="-0.5" y="408.0" font-size="18.5" fill="#000" font-weight="bold">c</text>
<path d="M128.0,458.0 L141.0,455.0 L136.0,500.0 L126.0,545.0 L119.0,560.0 L113.0,558.0 L117.0,520.0 L122.0,490.0Z" fill="#40c8cc"/>
<path d="M124.0,462.0 C123.2,468.3 120.7,487.0 119.0,500.0 C117.3,513.0 115.3,530.3 114.0,540.0 C112.7,549.7 111.5,555.0 111.0,558.0" fill="none" stroke="#3c00f0" stroke-width="3" stroke-linecap="round" stroke-linejoin="round"/>
<path d="M140.0,458.0 C139.3,464.2 138.2,481.3 136.0,495.0 C133.8,508.7 129.7,529.5 127.0,540.0 C124.3,550.5 121.2,555.0 120.0,558.0" fill="none" stroke="#ee6402" stroke-width="2.6" stroke-linecap="round" stroke-linejoin="round"/>
<path d="M132.0,462.0 C131.3,468.3 129.7,487.0 128.0,500.0 C126.3,513.0 123.8,530.3 122.0,540.0 C120.2,549.7 117.8,555.0 117.0,558.0" fill="none" stroke="#5cdada" stroke-width="2" stroke-linecap="round" stroke-linejoin="round"/>
<path d="M221.1,398.0 C219.8,399.8 216.7,405.8 213.5,408.5 C210.3,411.2 206.5,412.6 202.1,414.2 C197.7,415.8 191.0,415.8 186.9,418.0 C182.8,420.2 180.2,423.6 177.4,427.4 C174.6,431.2 171.9,436.3 169.8,440.7 C167.8,445.1 167.1,450.4 165.1,454.0 C163.1,457.6 161.3,460.3 158.0,462.0 C154.7,463.7 149.7,464.3 145.0,464.0 C140.3,463.7 132.5,460.7 130.0,460.0" fill="none" stroke="#ee6402" stroke-width="5.2" stroke-linecap="round" stroke-linejoin="round"/>
<path d="M223.0,400.9 C221.1,402.8 215.2,409.1 211.6,412.3 C208.0,415.5 203.6,417.0 201.2,419.8 C198.8,422.6 198.3,425.5 197.4,429.3 C196.5,433.1 196.1,438.2 195.5,442.6 C194.9,447.1 193.9,453.8 193.6,456.0" fill="none" stroke="#ee6402" stroke-width="5" stroke-linecap="round" stroke-linejoin="round"/>
<path d="M228.7,423.6 C227.1,422.3 222.4,417.7 219.2,416.0 C216.0,414.3 212.5,413.2 209.7,413.2 C206.8,413.2 204.1,414.3 202.1,416.0 C200.1,417.7 198.5,420.8 197.4,423.6 C196.3,426.5 196.0,429.4 195.5,433.1 C195.0,436.8 194.7,443.9 194.5,446.0" fill="none" stroke="#40c8cc" stroke-width="5" stroke-linecap="round" stroke-linejoin="round"/>
<path d="M226.8,433.1 C224.6,432.5 217.9,430.0 213.5,429.7 C209.1,429.4 204.6,430.1 200.2,431.2 C195.8,432.2 190.7,434.1 186.9,436.0 C183.1,437.9 180.6,439.9 177.4,442.6 C174.2,445.3 171.2,449.2 168.0,452.1 C164.8,455.0 162.3,457.8 158.5,459.7 C154.7,461.6 149.9,463.5 145.2,463.5 C140.4,463.5 132.5,460.3 130.0,459.7" fill="none" stroke="#40c8cc" stroke-width="5.2" stroke-linecap="round" stroke-linejoin="round"/>
<path d="M219.2,427.4 C217.6,426.3 212.5,421.6 209.7,420.8 C206.8,420.0 204.1,421.0 202.1,422.7 C200.1,424.4 198.7,427.3 197.4,431.2 C196.1,435.1 195.0,443.5 194.5,446.0" fill="none" stroke="#3c00f0" stroke-width="4.6" stroke-linecap="round" stroke-linejoin="round"/>
<path d="M226.8,446.4 C225.9,445.1 223.9,440.7 221.1,438.8 C218.2,436.9 214.1,435.5 209.7,435.0 C205.3,434.5 199.2,435.1 194.5,436.0 C189.8,436.9 185.0,438.6 181.2,440.7 C177.4,442.8 174.5,445.4 171.7,448.3 C168.9,451.2 167.3,455.3 164.2,457.8 C161.0,460.3 157.2,462.4 152.8,463.5 C148.4,464.6 140.1,464.2 137.6,464.4" fill="none" stroke="#3c00f0" stroke-width="5" stroke-linecap="round" stroke-linejoin="round"/>
<path d="M97.0,440.0 C99.5,437.2 105.2,435.3 110.0,435.0 C114.8,434.7 122.5,435.2 126.0,438.0 C129.5,440.8 130.8,447.2 131.0,452.0 C131.2,456.8 130.2,463.7 127.0,467.0 C123.8,470.3 116.7,472.2 112.0,472.0 C107.3,471.8 101.8,469.3 99.0,466.0 C96.2,462.7 95.3,456.3 95.0,452.0 C94.7,447.7 94.5,442.8 97.0,440.0Z" fill="#3c00f0"/>
<path d="M129.0,440.0 C130.3,437.3 135.5,436.2 138.0,437.0 C140.5,437.8 143.2,441.7 144.0,445.0 C144.8,448.3 144.3,454.3 143.0,457.0 C141.7,459.7 138.2,461.7 136.0,461.0 C133.8,460.3 131.2,456.5 130.0,453.0 C128.8,449.5 127.7,442.7 129.0,440.0Z" fill="#3c00f0"/>
<path d="M136.0,432.0 C137.5,433.0 143.0,435.5 145.0,438.0 C147.0,440.5 148.0,444.0 148.0,447.0 C148.0,450.0 145.5,454.5 145.0,456.0" fill="none" stroke="#40c8cc" stroke-width="3.5" stroke-linecap="round" stroke-linejoin="round"/>
<path d="M142.0,440.0 C142.3,441.7 144.2,447.0 144.0,450.0 C143.8,453.0 141.5,456.7 141.0,458.0" fill="none" stroke="#ee6402" stroke-width="2.2" stroke-linecap="round" stroke-linejoin="round"/>
<ellipse cx="116" cy="452" rx="10" ry="14" fill="none" stroke="#40c8cc" stroke-width="3.4"/>
<ellipse cx="111" cy="455" rx="7" ry="10" fill="#2400a0" opacity="0.6"/>
<path d="M82.6,424.5 C82.6,426.2 81.7,432.7 82.6,435.0 C83.5,437.3 85.4,437.5 87.8,438.5 C90.2,439.5 95.5,440.6 97.0,441.0" fill="none" stroke="#3c00f0" stroke-width="4.5" stroke-linecap="round" stroke-linejoin="round"/>
<path d="M82.6,429.8 C83.5,427.8 84.9,420.6 87.8,417.5 C90.7,414.4 96.2,412.4 100.0,411.4 C103.8,410.4 107.1,410.4 110.6,411.4 C114.1,412.4 118.2,415.0 121.1,417.5 C124.0,420.0 125.2,423.7 128.1,426.3 C131.0,428.9 135.4,431.4 138.6,433.3 C141.8,435.2 144.8,435.9 147.0,438.0 C149.2,440.1 151.2,444.7 152.0,446.0" fill="none" stroke="#ee6402" stroke-width="4.5" stroke-linecap="round" stroke-linejoin="round"/>
<path d="M114.1,417.5 C115.8,419.2 121.1,425.1 124.6,428.0 C128.1,430.9 131.9,433.0 135.1,435.0 C138.3,437.0 142.5,439.2 144.0,440.0" fill="none" stroke="#3c00f0" stroke-width="4" stroke-linecap="round" stroke-linejoin="round"/>
<path d="M91.3,433.3 C91.6,431.2 91.0,424.2 93.1,421.0 C95.1,417.8 100.1,415.2 103.6,414.0 C107.1,412.8 110.9,412.5 114.1,414.0 C117.3,415.5 120.0,419.7 122.9,422.8 C125.8,425.9 128.4,430.1 131.6,432.4 C134.8,434.7 139.0,435.4 142.1,436.8 C145.2,438.2 148.0,438.8 150.0,441.0 C152.0,443.2 153.3,448.5 154.0,450.0" fill="none" stroke="#40c8cc" stroke-width="4" stroke-linecap="round" stroke-linejoin="round"/>
<path d="M86.0,433.0 C86.7,434.5 88.3,439.7 90.0,442.0 C91.7,444.3 94.3,444.0 96.0,447.0 C97.7,450.0 99.0,455.8 100.0,460.0 C101.0,464.2 102.0,468.3 102.0,472.0 C102.0,475.7 100.3,480.3 100.0,482.0" fill="none" stroke="#ee6402" stroke-width="4.5" stroke-linecap="round" stroke-linejoin="round"/>
<path d="M89.0,436.0 C90.0,436.7 93.3,437.7 95.0,440.0 C96.7,442.3 98.3,448.3 99.0,450.0" fill="none" stroke="#40c8cc" stroke-width="3" stroke-linecap="round" stroke-linejoin="round"/>
<path d="M76.4,477.1 L82.6,471.8 L90.4,463.0 L94.8,462.2 L94.8,482.3 L80.8,482.3Z" fill="#40c8cc"/>
<path d="M93.0,463.0 L100.0,460.0 L104.0,482.0 L95.0,482.0Z" fill="#3c00f0"/>
<path d="M77.5,482.0 C77.9,479.3 80.1,478.8 81.0,481.0 C81.9,483.2 82.3,489.7 83.0,495.0 C83.7,500.3 83.8,508.2 85.0,513.0 C86.2,517.8 88.2,520.7 90.0,524.0 C91.8,527.3 95.5,530.3 96.0,533.0 C96.5,535.7 94.8,540.7 93.0,540.0 C91.2,539.3 87.2,533.2 85.0,529.0 C82.8,524.8 81.1,520.3 80.0,515.0 C78.9,509.7 78.9,502.5 78.5,497.0 C78.1,491.5 77.1,484.7 77.5,482.0Z" fill="#40c8cc"/>
<path d="M81.0,482.0 C82.4,478.8 88.2,481.0 92.0,481.0 C95.8,481.0 102.4,479.7 103.5,482.0 C104.6,484.3 98.8,489.8 98.5,495.0 C98.2,500.2 99.7,506.9 101.4,513.0 C103.1,519.1 107.1,526.3 108.8,531.6 C110.5,536.9 111.2,541.3 111.5,545.0 C111.8,548.7 111.8,553.6 110.6,553.6 C109.3,553.6 106.4,548.7 104.0,545.0 C101.6,541.3 98.8,536.1 96.0,531.6 C93.2,527.1 89.1,523.3 87.0,518.0 C84.9,512.7 84.5,506.0 83.5,500.0 C82.5,494.0 79.6,485.2 81.0,482.0Z" fill="#ee6402"/>
<path d="M79.0,504.5 C76.8,505.1 68.6,504.8 66.0,508.0 C63.4,511.2 63.5,518.8 63.3,523.8 C63.1,528.8 63.5,533.7 65.0,537.8 C66.5,541.9 69.1,546.1 72.0,548.3 C74.9,550.5 79.4,550.0 82.6,551.0 C85.8,552.0 87.8,552.9 91.3,554.6 C94.8,556.3 99.8,559.4 103.6,561.0 C107.4,562.6 112.3,563.5 114.1,564.0" fill="none" stroke="#40c8cc" stroke-width="6.5" stroke-linecap="round" stroke-linejoin="round"/>
<path d="M80.0,506.5 C78.1,507.1 70.7,507.1 68.5,510.0 C66.3,512.9 67.0,519.5 67.0,524.0 C67.0,528.5 67.2,533.3 68.5,537.0 C69.8,540.7 71.9,544.1 74.5,546.0 C77.1,547.9 81.1,547.6 84.0,548.5 C86.9,549.4 88.7,549.8 92.0,551.5 C95.3,553.2 100.3,556.8 104.0,558.5 C107.7,560.2 112.3,561.0 114.0,561.5" fill="none" stroke="#ee6402" stroke-width="3.4" stroke-linecap="round" stroke-linejoin="round"/>
<path d="M77.0,503.5 L68.0,505.5" fill="none" stroke="#3c00f0" stroke-width="3" stroke-linecap="round" stroke-linejoin="round"/>
<path d="M74.0,547.0 L100.0,552.0 L112.0,562.0 L108.0,566.0 L84.0,562.0 L72.0,556.0Z" fill="#40c8cc"/>
<path d="M78.0,550.0 L88.0,551.0 L90.0,558.0 L80.0,558.0Z" fill="#ee6402"/>
<path d="M96.0,554.0 L106.0,558.0 L108.0,564.0 L98.0,562.0Z" fill="#ee6402"/>
<path d="M50.0,572.0 L98.0,573.5 L102.0,582.0 L58.0,587.0Z" fill="#40c8cc"/>
<path d="M52.0,572.0 L96.0,572.5 L97.0,576.0 L56.0,578.0Z" fill="#3c00f0"/>
<path d="M56.0,580.0 L96.0,580.0 L98.0,585.0 L58.0,587.0Z" fill="#ee6402"/>
<ellipse cx="50" cy="579" rx="8.2" ry="7.6" fill="#ee6402"/>
<path d="M31.4,619.8 L50.0,604.0 L72.6,585.0 L93.6,576.0 L97.0,584.0 L63.8,611.3 L39.3,629.7 L33.0,629.0Z" fill="#40c8cc"/>
<path d="M30.5,618.5 C33.8,615.8 43.1,607.8 50.0,602.0 C56.9,596.2 65.0,588.5 72.0,584.0 C79.0,579.5 88.7,576.5 92.0,575.0" fill="none" stroke="#3c00f0" stroke-width="2.6" stroke-linecap="round" stroke-linejoin="round"/>
<path d="M31.0,626.0 C31.8,625.0 31.2,623.8 36.0,620.0 C40.8,616.2 51.0,608.8 60.0,603.0 C69.0,597.2 85.0,588.0 90.0,585.0" fill="none" stroke="#ee6402" stroke-width="2" stroke-linecap="round" stroke-linejoin="round"/>
<path d="M28.0,626.0 L35.0,622.0 L39.0,631.0 L31.0,632.0Z" fill="#ee6402"/>
<path d="M77.8,623.6 C82.8,623.9 98.6,627.9 107.6,625.3 C116.6,622.7 127.3,613.6 132.0,607.8 C136.7,602.0 135.9,595.8 135.6,590.3 C135.3,584.8 130.9,577.5 130.0,575.0" fill="none" stroke="#40c8cc" stroke-width="5" stroke-linecap="round" stroke-linejoin="round"/>
<path d="M81.3,590.3 C80.7,594.7 77.5,611.0 77.8,616.6 C78.1,622.2 79.5,622.4 83.0,623.6 C86.5,624.8 93.0,624.2 98.8,623.6 C104.6,623.0 113.1,622.0 118.1,620.0 C123.1,618.0 126.3,615.7 128.6,611.3 C130.9,606.9 132.3,598.8 132.0,593.8 C131.7,588.8 128.6,585.3 126.9,581.5 C125.2,577.7 122.5,572.8 121.6,571.0" fill="none" stroke="#3c00f0" stroke-width="4" stroke-linecap="round" stroke-linejoin="round"/>
<path d="M118.0,550.0 C117.4,552.6 117.8,561.7 114.6,565.8 C111.4,569.9 102.6,571.3 98.8,574.5 C95.0,577.7 92.4,581.2 91.8,585.0 C91.2,588.8 95.6,593.2 95.3,597.3 C95.0,601.4 92.6,606.1 90.0,609.6 C87.4,613.1 79.6,616.6 79.6,618.3 C79.6,620.0 85.3,619.7 90.0,620.0 C94.7,620.3 102.3,620.9 107.6,620.0 C112.9,619.1 118.1,617.7 121.6,614.8 C125.1,611.9 127.1,607.0 128.6,602.6 C130.1,598.2 131.0,592.9 130.4,588.5 C129.8,584.1 126.8,580.4 125.1,576.3 C123.3,572.2 120.8,566.0 119.9,564.0" fill="none" stroke="#ee6402" stroke-width="3.8" stroke-linecap="round" stroke-linejoin="round"/>
<path d="M112.0,556.0 L130.0,552.0 L152.0,560.0 L160.0,572.0 L154.0,582.0 L136.0,578.0 L118.0,568.0Z" fill="#3c00f0"/>
<path d="M120.0,566.0 L150.0,575.0 L154.0,582.0 L128.0,574.0Z" fill="#40c8cc"/>
<path d="M116.0,566.0 C119.2,568.2 128.5,576.2 135.0,579.0 C141.5,581.8 151.7,582.3 155.0,583.0" fill="none" stroke="#ee6402" stroke-width="2" stroke-linecap="round" stroke-linejoin="round"/>
<path d="M160.0,550.0 C163.3,547.7 170.0,547.7 175.0,548.0 C180.0,548.3 187.0,549.2 190.0,552.0 C193.0,554.8 193.5,560.7 193.0,565.0 C192.5,569.3 190.5,575.0 187.0,578.0 C183.5,581.0 176.5,583.3 172.0,583.0 C167.5,582.7 162.8,579.5 160.0,576.0 C157.2,572.5 155.0,566.3 155.0,562.0 C155.0,557.7 156.7,552.3 160.0,550.0Z" fill="#3c00f0"/>
<path d="M165.0,556.0 C166.7,553.7 174.5,553.3 178.0,554.0 C181.5,554.7 185.7,557.3 186.0,560.0 C186.3,562.7 183.0,568.7 180.0,570.0 C177.0,571.3 170.5,570.3 168.0,568.0 C165.5,565.7 163.3,558.3 165.0,556.0Z" fill="#2a00b0" opacity="0.5"/>
<path d="M170.0,583.0 L178.0,576.0 L182.0,580.0 L188.0,571.0 L192.0,575.0 L190.0,584.0 L180.0,588.0 L172.0,588.0Z" fill="#b84a00"/>
<path d="M171.0,589.0 C171.8,591.2 171.0,597.2 169.5,601.0 C168.0,604.8 164.8,608.5 162.0,612.0 C159.2,615.5 155.5,620.0 153.0,622.0 C150.5,624.0 148.2,624.7 147.0,624.0 C145.8,623.3 145.0,621.0 145.5,618.0 C146.0,615.0 147.9,609.8 150.0,606.0 C152.1,602.2 155.5,598.0 158.0,595.0 C160.5,592.0 162.8,589.0 165.0,588.0 C167.2,587.0 170.2,586.8 171.0,589.0Z" fill="none" stroke="#40c8cc" stroke-width="5"/>
<path d="M169.0,590.0 C169.5,591.8 168.9,597.6 167.5,601.0 C166.1,604.4 163.0,607.4 160.5,610.5 C158.0,613.6 154.5,617.7 152.5,619.5 C150.5,621.3 149.3,621.9 148.5,621.5 C147.7,621.1 146.9,619.6 147.5,617.0 C148.1,614.4 150.1,609.5 152.0,606.0 C153.9,602.5 156.9,598.6 159.0,596.0 C161.1,593.4 162.8,591.5 164.5,590.5 C166.2,589.5 168.5,588.2 169.0,590.0Z" fill="none" stroke="#ee6402" stroke-width="2.2"/>
<path d="M155.0,549.0 C155.6,551.3 156.5,558.5 158.3,562.9 C160.1,567.2 164.0,570.8 166.0,575.1 C168.0,579.4 169.8,586.6 170.5,588.9" fill="none" stroke="#40c8cc" stroke-width="4.5" stroke-linecap="round" stroke-linejoin="round"/>
<path d="M157.5,550.0 C158.0,552.2 158.8,558.7 160.5,563.0 C162.2,567.3 166.0,571.8 168.0,576.0 C170.0,580.2 171.8,586.0 172.5,588.0" fill="none" stroke="#ee6402" stroke-width="2" stroke-linecap="round" stroke-linejoin="round"/>
<path d="M204.0,548.0 C204.3,550.0 205.7,556.0 206.0,560.0 C206.3,564.0 206.3,568.3 206.0,572.0 C205.7,575.7 204.3,580.3 204.0,582.0" fill="none" stroke="#40c8cc" stroke-width="4.5" stroke-linecap="round" stroke-linejoin="round"/>
<path d="M201.5,550.0 C201.8,552.0 202.8,557.8 203.0,562.0 C203.2,566.2 203.0,572.8 203.0,575.0" fill="none" stroke="#3c00f0" stroke-width="2.5" stroke-linecap="round" stroke-linejoin="round"/>
<path d="M170.0,585.0 L186.0,576.0 L196.0,566.0 L204.0,575.0 L207.0,588.0 L204.0,600.0 L198.0,596.0 L186.0,592.0 L174.0,596.0Z" fill="#40c8cc"/>
<path d="M184.0,580.0 L196.0,570.0 L202.0,580.0 L192.0,586.0Z" fill="#3c00f0"/>
<path d="M174.0,596.0 L186.0,592.0 L198.0,596.0 L196.0,606.0 L186.0,600.0Z" fill="#b84a00"/>
<path d="M150.0,548.0 C151.3,545.0 157.0,541.9 160.0,540.0 C163.0,538.1 165.5,537.1 168.0,536.5 C170.5,535.9 172.6,536.5 175.0,536.3 C177.4,536.1 179.7,534.9 182.3,535.1 C185.0,535.3 188.5,536.3 190.9,537.5 C193.3,538.7 195.4,540.6 197.0,542.4 C198.6,544.2 199.7,546.2 200.6,548.5 C201.5,550.8 202.0,553.4 202.5,556.0 C203.0,558.6 204.2,562.2 203.5,564.0 C202.8,565.8 199.9,567.3 198.0,567.0 C196.1,566.7 194.0,563.8 192.0,562.0 C190.0,560.2 188.3,557.8 186.0,556.0 C183.7,554.2 181.0,551.8 178.0,551.0 C175.0,550.2 171.3,550.2 168.0,551.0 C164.7,551.8 160.7,554.8 158.0,556.0 C155.3,557.2 153.3,559.3 152.0,558.0 C150.7,556.7 148.7,551.0 150.0,548.0Z" fill="#3c00f0"/>
<path d="M150.0,548.0 C151.0,546.3 157.0,541.9 160.0,540.0 C163.0,538.1 165.5,537.2 168.0,536.5 C170.5,535.8 172.6,536.1 175.0,535.8 C177.4,535.5 179.7,534.4 182.3,534.6 C185.0,534.8 188.5,535.8 190.9,537.0 C193.3,538.2 195.6,540.5 197.0,542.0 C198.4,543.5 200.2,545.9 199.5,546.0 C198.8,546.1 195.8,543.5 193.0,542.5 C190.2,541.5 186.5,540.3 183.0,540.0 C179.5,539.7 175.5,539.8 172.0,540.5 C168.5,541.2 165.0,542.4 162.0,544.0 C159.0,545.6 156.0,549.3 154.0,550.0 C152.0,550.7 149.0,549.7 150.0,548.0Z" fill="#40c8cc"/>
<path d="M197.0,544.0 C197.4,543.6 199.6,546.5 200.6,548.5 C201.6,550.5 202.3,553.3 203.0,556.0 C203.7,558.7 204.8,562.8 204.5,564.5 C204.2,566.2 201.8,567.6 201.0,566.5 C200.2,565.4 200.5,560.6 200.0,558.0 C199.5,555.4 198.5,553.3 198.0,551.0 C197.5,548.7 196.6,544.4 197.0,544.0Z" fill="#ee6402"/>
<path d="M150.0,552.0 C151.7,553.7 155.8,560.7 160.0,562.0 C164.2,563.3 170.0,560.3 175.0,560.0 C180.0,559.7 186.2,559.0 190.0,560.0 C193.8,561.0 196.7,565.0 198.0,566.0" fill="none" stroke="#3c00f0" stroke-width="5" stroke-linecap="round" stroke-linejoin="round"/>
<path d="M203.0,533.0 C203.3,532.2 207.5,534.3 209.0,536.0 C210.5,537.7 212.3,542.2 212.0,543.0 C211.7,543.8 208.5,542.7 207.0,541.0 C205.5,539.3 202.7,533.8 203.0,533.0Z" fill="#2a9aa0"/>
<path d="M177.4,529.0 C177.8,527.0 182.2,523.6 184.8,521.6 C187.5,519.6 190.2,518.0 193.3,516.8 C196.4,515.6 200.1,514.5 203.1,514.3 C206.1,514.1 208.8,514.5 211.6,515.5 C214.4,516.5 217.8,518.6 220.2,520.4 C222.6,522.2 224.9,524.5 226.3,526.5 C227.7,528.5 228.5,530.6 228.7,532.6 C228.9,534.6 228.3,536.9 227.5,538.7 C226.7,540.5 225.5,542.2 223.9,543.6 C222.3,545.0 219.8,546.7 217.7,547.3 C215.6,547.9 213.2,547.9 211.6,547.3 C210.0,546.7 209.2,545.4 208.0,543.6 C206.8,541.8 205.1,538.5 204.3,536.3 C203.5,534.1 204.3,531.8 203.1,530.2 C201.9,528.6 199.0,527.1 197.0,526.5 C195.0,525.9 192.7,525.9 190.9,526.5 C189.1,527.1 187.4,529.0 186.0,530.2 C184.6,531.4 183.7,534.1 182.3,533.9 C180.9,533.7 177.0,531.0 177.4,529.0Z" fill="#3c00f0"/>
<path d="M177.4,529.0 C178.0,527.3 182.2,523.6 184.8,521.6 C187.5,519.6 190.2,518.0 193.3,516.8 C196.4,515.6 200.1,514.5 203.1,514.3 C206.1,514.1 208.8,514.5 211.6,515.5 C214.4,516.5 218.5,519.3 220.2,520.4 C221.9,521.5 223.0,522.1 222.0,522.0 C221.0,521.9 217.0,520.4 214.0,520.0 C211.0,519.6 207.2,519.2 204.0,519.5 C200.8,519.8 197.8,520.4 195.0,521.5 C192.2,522.6 189.3,524.2 187.0,526.0 C184.7,527.8 182.6,531.5 181.0,532.0 C179.4,532.5 176.8,530.7 177.4,529.0Z" fill="#40c8cc"/>
<path d="M204.3,533.9 C204.3,534.9 206.6,541.1 208.0,543.6 C209.4,546.1 210.9,548.0 212.9,548.8 C214.9,549.6 218.0,549.2 220.2,548.2 C222.4,547.2 224.9,544.6 226.3,542.6 C227.8,540.6 229.3,536.5 228.9,536.3 C228.5,536.1 225.8,539.8 223.9,541.2 C222.0,542.6 219.8,544.4 217.7,544.8 C215.6,545.2 213.2,544.8 211.6,543.6 C210.0,542.4 209.2,539.1 208.0,537.5 C206.8,535.9 204.3,532.9 204.3,533.9Z" fill="#ee6402"/>
<path d="M200.6,509.4 C201.4,507.2 204.4,503.4 206.8,500.9 C209.2,498.4 212.1,495.7 215.3,494.2 C218.6,492.7 222.4,491.6 226.3,491.7 C230.2,491.8 234.8,493.3 238.5,494.8 C242.2,496.3 246.0,498.7 248.3,500.9 C250.7,503.1 251.8,505.8 252.6,508.2 C253.4,510.6 253.7,513.0 253.2,515.5 C252.7,518.0 251.1,521.0 249.5,522.9 C247.9,524.8 245.4,526.5 243.4,527.1 C241.4,527.7 239.3,527.4 237.3,526.5 C235.3,525.6 232.6,523.4 231.2,521.6 C229.8,519.8 229.1,517.3 228.7,515.5 C228.3,513.7 229.9,511.9 228.7,510.6 C227.5,509.3 223.8,508.2 221.4,507.6 C219.0,507.0 216.1,506.7 214.1,507.0 C212.1,507.3 210.6,508.4 209.2,509.4 C207.8,510.4 206.7,512.3 205.5,513.1 C204.3,513.9 202.7,514.9 201.9,514.3 C201.1,513.7 199.8,511.6 200.6,509.4Z" fill="#3c00f0"/>
<path d="M200.6,509.4 C201.2,507.8 204.4,503.4 206.8,500.9 C209.2,498.4 212.1,495.7 215.3,494.2 C218.6,492.7 222.4,491.6 226.3,491.7 C230.2,491.8 234.8,493.3 238.5,494.8 C242.2,496.3 246.0,498.7 248.3,500.9 C250.7,503.1 252.2,507.4 252.6,508.2 C253.0,509.0 252.2,507.4 250.7,505.8 C249.2,504.2 246.4,499.8 243.4,498.4 C240.4,497.0 234.9,496.8 232.4,497.2 C229.9,497.6 230.1,500.5 228.7,500.9 C227.3,501.3 226.8,499.3 223.9,499.7 C221.1,500.1 215.1,501.5 211.6,503.3 C208.1,505.1 204.9,509.6 203.1,510.6 C201.3,511.6 200.0,511.0 200.6,509.4Z" fill="#40c8cc"/>
<path d="M228.7,515.5 C228.5,516.9 229.8,519.6 231.2,521.6 C232.6,523.6 235.3,526.2 237.3,527.3 C239.3,528.3 241.3,528.5 243.4,527.9 C245.5,527.3 248.4,525.8 250.1,523.7 C251.8,521.6 253.1,517.3 253.4,515.5 C253.7,513.7 253.1,512.3 252.0,513.1 C250.9,513.9 248.8,519.0 247.1,520.4 C245.4,521.8 243.4,522.0 241.6,521.6 C239.8,521.2 237.6,519.4 236.1,518.0 C234.6,516.6 233.6,513.5 232.4,513.1 C231.2,512.7 228.9,514.1 228.7,515.5Z" fill="#ee6402"/>
<path d="M209.5,508.5 C210.6,508.2 213.8,507.0 216.0,507.0 C218.2,507.0 221.8,508.2 223.0,508.5" fill="none" stroke="#b84a00" stroke-width="1.2" stroke-linecap="round" stroke-linejoin="round"/>
<path d="M221.4,485.0 C219.8,486.5 215.1,491.0 212.0,494.0 C208.9,497.0 206.1,500.0 203.0,503.0 C199.9,506.0 194.9,510.5 193.3,512.0" fill="none" stroke="#ee6402" stroke-width="4.5" stroke-linecap="round" stroke-linejoin="round"/>
<path d="M222.0,484.0 L216.0,489.0" fill="none" stroke="#3c00f0" stroke-width="3" stroke-linecap="round" stroke-linejoin="round"/>
<path d="M214.0,470.0 C215.3,469.3 219.0,465.7 222.0,466.0 C225.0,466.3 229.3,469.7 232.0,472.0 C234.7,474.3 237.0,478.7 238.0,480.0" fill="none" stroke="#ee6402" stroke-width="4.5" stroke-linecap="round" stroke-linejoin="round"/>
<path d="M212.0,473.0 C213.3,472.5 217.0,469.5 220.0,470.0 C223.0,470.5 228.3,475.0 230.0,476.0" fill="none" stroke="#3c00f0" stroke-width="3" stroke-linecap="round" stroke-linejoin="round"/>
<circle cx="236.5" cy="484.5" r="6.5" fill="#3c00f0"/><circle cx="234.6" cy="482.6" r="3.6" fill="#9080ff" opacity="0.35"/>
<circle cx="244.5" cy="488.5" r="8" fill="#ee6402"/><circle cx="242.1" cy="486.1" r="4.4" fill="#ffb070" opacity="0.35"/>
<circle cx="224.5" cy="454.5" r="8.4" fill="#3c00f0"/><circle cx="222.0" cy="452.0" r="4.6" fill="#9080ff" opacity="0.35"/>
<circle cx="234.8" cy="433.5" r="8.3" fill="#40c8cc"/><circle cx="232.3" cy="431.0" r="4.6" fill="#c0ffff" opacity="0.35"/>
<circle cx="225.3" cy="392.5" r="8.8" fill="#ee6402"/><circle cx="222.7" cy="389.9" r="4.8" fill="#ffb070" opacity="0.35"/>
<defs><clipPath id="capclip"><rect x="-60.5" y="-21.0" width="121" height="42" rx="21.0" transform="translate(165.5 500.5) rotate(-41.5)"/></clipPath></defs>
<g clip-path="url(#capclip)">
<rect x="100" y="440" width="130" height="120" fill="#fbf8f6"/>
<path d="M134.0,550.0 L141.6,524.0 L150.0,503.0 L158.0,488.0 L172.0,468.0 L185.0,458.0 L196.0,453.8 L192.5,482.7 L187.2,480.1 L180.2,490.6 L167.9,506.4 L153.9,522.2 L143.4,536.3 L140.0,550.0Z" fill="#e6c2ab"/>
<path d="M192.5,482.7 L203.0,471.3 L215.3,474.8 L217.1,490.6 L194.3,511.7 L176.7,524.0 L162.7,529.3 L167.9,518.7 L180.2,502.9Z" fill="#ecccb8"/>
<path d="M118.0,527.5 L127.6,543.3 L136.3,550.3 L162.7,536.3 L183.7,518.7 L176.7,524.0 L153.9,527.5 L140.0,533.0Z" fill="#c8bdf0"/>
<path d="M116.0,532.0 L120.0,542.0 L128.0,552.0 L134.0,548.0 L128.0,540.0 L121.0,530.0Z" fill="#b8aaf0"/>
<path d="M173.0,465.0 C170.5,468.5 161.8,480.0 158.0,486.0 C154.2,492.0 152.8,495.0 150.0,501.0 C147.2,507.0 143.5,515.5 141.0,522.0 C138.5,528.5 136.0,537.0 135.0,540.0" fill="none" stroke="#b4e2e2" stroke-width="3" stroke-linecap="round" stroke-linejoin="round"/>
<path d="M140.0,500.0 C138.3,502.5 132.8,510.3 130.0,515.0 C127.2,519.7 124.2,525.8 123.0,528.0" fill="none" stroke="#d8f0f0" stroke-width="5" stroke-linecap="round" stroke-linejoin="round"/>
</g>
<rect x="-60.5" y="-21.0" width="121" height="42" rx="21.0" transform="translate(165.5 500.5) rotate(-41.5)" fill="none" stroke="#8a8a8a" stroke-width="1.1"/>
<text x="167.9" y="508.6" font-size="15" font-weight="bold" fill="#111" text-anchor="middle" transform="rotate(-44 167.9 503.1)">ligand</text>
<text x="251.3" y="405.3" font-size="13.5" fill="#5e5e5e" textLength="32.7" lengthAdjust="spacingAndGlyphs" stroke="#5e5e5e" stroke-width="0.25">Ser14</text>
<text x="244.3" y="476.3" font-size="13.5" fill="#5e5e5e" textLength="32.3" lengthAdjust="spacingAndGlyphs" stroke="#5e5e5e" stroke-width="0.25">Gly78</text>
<text x="131.5" y="419.7" font-size="13" fill="#5e5e5e" textLength="11.2" lengthAdjust="spacingAndGlyphs" stroke="#5e5e5e" stroke-width="0.25">α<tspan font-size="9">1</tspan></text>
<text x="258" y="494.7" font-size="12.5" fill="#5e5e5e" textLength="26" lengthAdjust="spacingAndGlyphs" stroke="#5e5e5e" stroke-width="0.25">α<tspan font-size="9">2</tspan>-β<tspan font-size="9">6</tspan></text>
<text x="282.2" y="434.3" font-size="13.5" fill="#bb1e1e" text-anchor="middle" textLength="27.3" lengthAdjust="spacingAndGlyphs" stroke="#bb1e1e" stroke-width="0.25">β<tspan font-size="9">1</tspan>-β<tspan font-size="9">2</tspan></text>
<text x="282.7" y="448.2" font-size="13.5" fill="#bb1e1e" text-anchor="middle" textLength="43.4" lengthAdjust="spacingAndGlyphs" stroke="#bb1e1e" stroke-width="0.25">opening</text>
<text x="94.7" y="653.5" font-size="13.5" fill="#bb1e1e" text-anchor="middle" textLength="66.2" lengthAdjust="spacingAndGlyphs" stroke="#bb1e1e" stroke-width="0.25">β<tspan font-size="9">2</tspan>-β<tspan font-size="9">3</tspan> motion</text>
<path d="M236,466 Q266,428 240.5,398" fill="none" stroke="#bb1e1e" stroke-width="1.9"/>
<path d="M236.9,391.6 L236.6,400.6 L243.6,396.8 Z" fill="#bb1e1e"/>
<path d="M60,627 Q85,648 110,630" fill="none" stroke="#bb1e1e" stroke-width="1.9"/>
<path d="M56.8,625 L59,632 L63.5,627 Z M112.9,628.8 L106.5,629.5 L110.5,634.5 Z" fill="#bb1e1e"/>
</svg></body></html>
